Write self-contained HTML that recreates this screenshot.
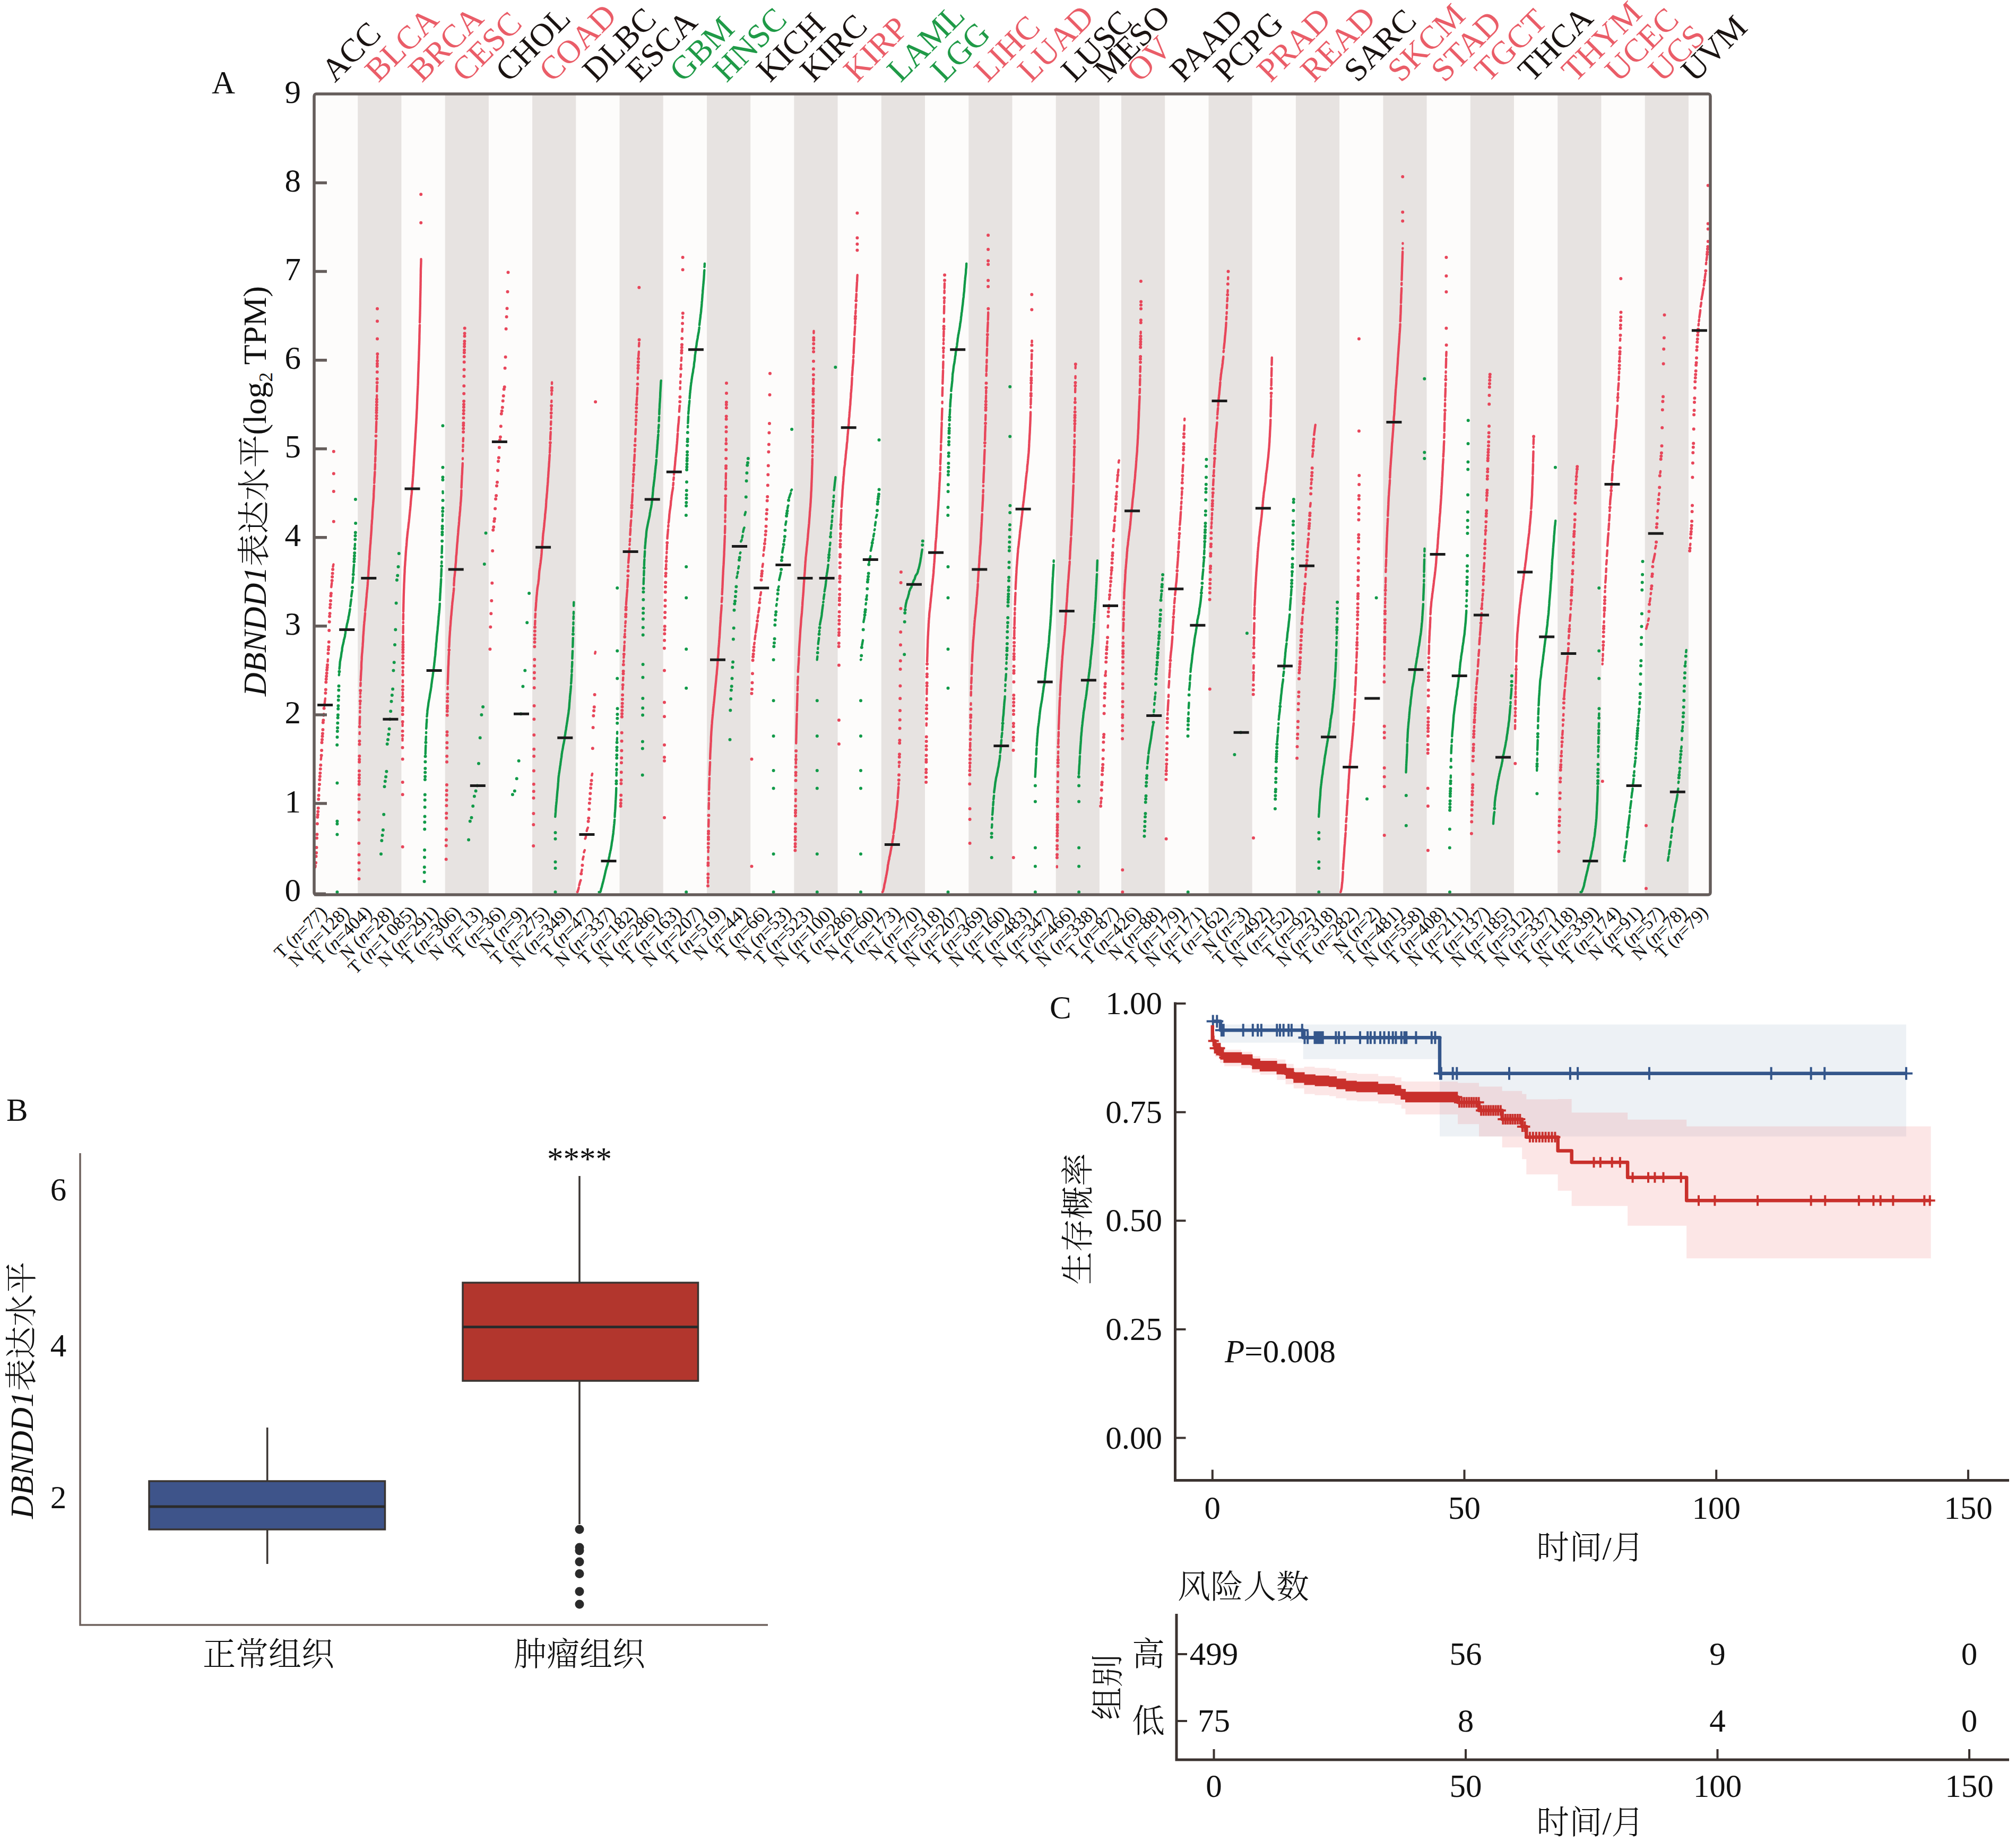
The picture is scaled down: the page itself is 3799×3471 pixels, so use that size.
<!DOCTYPE html>
<html><head><meta charset="utf-8"><title>Figure</title><style>html,body{margin:0;padding:0;background:#fff}svg{display:block}</style></head><body>
<svg width="3799" height="3471" viewBox="0 0 3799 3471" font-family='"Liberation Serif","Noto Serif CJK SC",serif'>
<rect width="3799" height="3471" fill="#fff"/>
<rect x="592.0" y="177.0" width="2631.0" height="1509.0" fill="#FDFCFB"/>
<rect x="674.2" y="177.0" width="82.2" height="1509.0" fill="#E7E3E1"/>
<rect x="838.7" y="177.0" width="82.2" height="1509.0" fill="#E7E3E1"/>
<rect x="1003.1" y="177.0" width="82.2" height="1509.0" fill="#E7E3E1"/>
<rect x="1167.5" y="177.0" width="82.2" height="1509.0" fill="#E7E3E1"/>
<rect x="1332.0" y="177.0" width="82.2" height="1509.0" fill="#E7E3E1"/>
<rect x="1496.4" y="177.0" width="82.2" height="1509.0" fill="#E7E3E1"/>
<rect x="1660.8" y="177.0" width="82.2" height="1509.0" fill="#E7E3E1"/>
<rect x="1825.3" y="177.0" width="82.2" height="1509.0" fill="#E7E3E1"/>
<rect x="1989.7" y="177.0" width="82.2" height="1509.0" fill="#E7E3E1"/>
<rect x="2113.0" y="177.0" width="82.2" height="1509.0" fill="#E7E3E1"/>
<rect x="2277.5" y="177.0" width="82.2" height="1509.0" fill="#E7E3E1"/>
<rect x="2441.9" y="177.0" width="82.2" height="1509.0" fill="#E7E3E1"/>
<rect x="2606.4" y="177.0" width="82.2" height="1509.0" fill="#E7E3E1"/>
<rect x="2770.8" y="177.0" width="82.2" height="1509.0" fill="#E7E3E1"/>
<rect x="2935.2" y="177.0" width="82.2" height="1509.0" fill="#E7E3E1"/>
<rect x="3099.7" y="177.0" width="82.2" height="1509.0" fill="#E7E3E1"/>
<g fill="none" stroke-linecap="round" stroke-linejoin="round" stroke-width="4.4">
<path stroke="#E8465A" d="M594.2 1634.2h0L594.7 1631.3M595.1 1625.7h0M595.6 1613.8h0M596.1 1606.9h0M596.5 1597h0M597 1579.2h0M597.4 1572.2h0M597.9 1552.2h0M598.3 1539.8h0M598.8 1535.2h0M599.2 1529.3h0M599.7 1522.7h0M600.2 1506h0M600.6 1498.8h0M601.1 1489.5h0L601.5 1485.5M602 1478.1h0M602.4 1469.3h0M602.9 1462.9h0M603.3 1456.7h0M603.8 1448.9h0M604.3 1441.8h0M604.7 1431.3h0L605.2 1427.8M605.6 1423.6h0M606.1 1414.1h0M606.5 1399.3h0M607 1393.7h0M607.5 1387.6h0M607.9 1382.2h0M608.4 1374.9h0M608.8 1361.4h0M609.3 1357.2h0M609.7 1348.6h0L610.2 1345.3M610.6 1334.8h0M611.1 1330.1h0L611.6 1326.5L612 1323.2L612.5 1319.2L612.9 1316.2M613.4 1305.9h0M613.8 1299.4h0M614.3 1285.4h0M614.7 1279.7h0M615.2 1274.3h0M615.7 1268.6h0M616.1 1262.2h0M616.6 1257.8h0M617 1253h0M617.5 1246.6h0L617.9 1242.5M618.4 1231.3h0M618.9 1224.3h0M619.3 1219h0M619.8 1209.8h0M620.2 1188.1h0M620.7 1171.8h0M621.1 1161.5h0M621.6 1156h0M622 1144.9h0M622.5 1139.1h0M623 1132h0M623.4 1122.7h0M623.9 1118.2h0M624.3 1106.3h0L624.8 1102.2L625.2 1098.7M625.7 1093.9h0M626.1 1087h0M626.6 1080.4h0M627.1 1072.9h0M627.5 1067.7h0L628 1065.2L628.4 1063.5M628.8 982.7h0M628.8 925.9h0M628.8 892.5h0M628.8 850.8h0M676.5 1655.9h0M676.5 1639.2h0M676.5 1625.9h0M676.5 1610.8h0M676.3 1589.1h0M676.3 1544.8h0M676.4 1530.5h0M676.5 1505.7h0M676.6 1497.9h0M676.7 1477.7h0M676.8 1472.2h0M676.9 1466h0M677 1460.2h0M677 1452.7h0M677.1 1435.7h0M677.2 1431h0M677.3 1424.7h0M677.4 1402.5h0M677.5 1396.4h0M677.6 1383.1h0L677.7 1380M677.7 1369.2h0M677.8 1364.3h0L677.9 1360.4L678 1356.7L678.1 1353.1L678.2 1350.7M678.3 1342.5h0L678.3 1339.6M678.4 1334.4h0L678.5 1332.5M678.6 1327.3h0L678.7 1325.3M678.8 1320.9h0M678.9 1313.9h0L679 1312.2M679 1307.5h0L679.1 1305.7M679.2 1301.3h0M679.3 1292.6h0L679.4 1291.1L679.5 1289.2L679.6 1286.7M679.7 1282h0L679.7 1280.7L679.8 1278.9L679.9 1277.4L680 1274.6L680.1 1272.8L680.2 1271.6L680.3 1270.1L680.3 1268.7L680.4 1267.5L680.5 1265.6L680.6 1264.4L680.7 1263.2L680.8 1261.9L680.9 1260.9L681 1258.5L681 1255L681.1 1251.3L681.2 1248.3L681.3 1247.3L681.4 1246L681.5 1244.4L681.6 1243.4L681.7 1242L681.7 1239.1L681.8 1237.5L681.9 1236.6L682 1235.1L682.1 1233L682.3 1231.6L682.4 1230.1L682.6 1228.8L682.7 1227.3L682.8 1225.6L683 1222.8L683.1 1221.1L683.3 1219.6L683.4 1218.1L683.5 1216.9L683.6 1215L683.6 1214.1L683.7 1212.2L683.8 1211.4L684 1209.6L684.1 1207.7L684.2 1205.8L684.3 1204.4L684.3 1202.3L684.4 1199.3L684.6 1197.9L684.7 1196.1L684.8 1194.7L685 1193.2L685 1190.8L685.2 1189.6L685.3 1188.6L685.5 1184.6L685.6 1183.3L685.7 1181.4L685.8 1180.1L686 1177.6L686.1 1176.7L686.2 1175.7L686.3 1174.7L686.4 1172.4L686.6 1171.1L686.8 1169.9L687 1168.7L687.1 1166.7L687.2 1164.9L687.3 1164L687.5 1161.8L687.6 1160.5L687.8 1159.2L687.9 1157.6L688 1155.2M688.1 1150.8h0L688.3 1149.6L688.3 1148.8L688.4 1147.9L688.6 1146.7L688.8 1145.5L689 1144.1L689.1 1143.1L689.3 1140.8L689.5 1139.4L689.6 1137.9L689.7 1136.7L689.9 1133.4L690.1 1131.9L690.2 1130.1L690.3 1129L690.3 1128.1L690.5 1127L690.7 1125.5L690.8 1123.3L690.9 1122.2L691 1120.3L691.1 1119L691.2 1117.7L691.4 1116.4L691.6 1115.2L691.7 1113L691.8 1112.1L692 1110.6L692.2 1109.3L692.3 1106.6L692.5 1105.3L692.6 1104.3L692.7 1102.7L692.9 1101.4L692.9 1100.4L693 1098L693.1 1096.5L693.2 1095.7L693.3 1094.1L693.5 1092.1L693.6 1090.1L693.7 1088.2L693.8 1086.1L693.9 1085.1L694 1084.2L694.1 1083L694.2 1081.3L694.3 1080.4L694.3 1079.3L694.4 1076.4L694.6 1074.4L694.7 1073.2L694.8 1071.7L694.9 1070.6L694.9 1069.4L695.1 1067.6L695.2 1065.9L695.4 1064.7L695.5 1063L695.6 1060L695.7 1058.5L695.8 1057.6L696 1055.4L696.2 1053.7L696.3 1052.6L696.3 1049.4L696.4 1048L696.5 1046.5L696.7 1043.3L696.8 1042.3L696.9 1041L696.9 1039L697 1037.7L697.2 1036.3L697.3 1034.2L697.4 1033.1L697.5 1031.8L697.6 1030.4L697.7 1028.4L697.8 1027.4L697.9 1026.5L698 1025.5L698.2 1023.8L698.3 1022.3L698.4 1019.9L698.5 1017.7L698.6 1016.9L698.7 1015.2L698.8 1014.2L698.9 1013.4L698.9 1012.4L699 1011.4L699.1 1010.1L699.2 1009.1L699.4 1006.6L699.5 1004.9L699.6 1003.5L699.7 1002L699.8 1000.9L699.9 999.5L700 996.9L700.1 995.8L700.2 992.4L700.2 990.6L700.3 989.8L700.5 987.8L700.6 986.7L700.7 985.5L700.9 982L700.9 981.1L701 980.3L701.2 978.8L701.4 976.7L701.5 975L701.6 974.2L701.6 972.5L701.7 971.2L701.8 969.6L701.9 966L702 964L702.1 962.6L702.2 961.2L702.3 959.7L702.4 958.1L702.6 956.3L702.7 955.3L702.9 953.1L702.9 952.1L703 951.2L703.2 948.9L703.3 946.9L703.4 945.9L703.5 945L703.6 944.2L703.6 943.1L703.8 941.1L703.9 939.9L704 939L704.1 936.6L704.2 935.6L704.2 931.7L704.3 928.8L704.4 927.4L704.5 924.7L704.6 923.8L704.7 922.2L704.8 920.5L704.9 919.6L704.9 918.1L705 917.2L705.1 915M705.2 910h0L705.3 908.9L705.4 907.4L705.5 904.4L705.5 902.9L705.6 901.8L705.7 900.4L705.8 899.2L705.9 898.1L706 896.8L706.1 895.1L706.2 894.2L706.2 893.1L706.3 891.3L706.4 889.3M706.5 884.6h0L706.6 883L706.7 881.8L706.8 878.3L706.9 876.4L706.9 874.1M707 869.8h0L707.1 868.7L707.2 866.4L707.3 863.3L707.4 861.8M707.5 857.3h0L707.5 853.2L707.6 850.7L707.7 848.5L707.8 846.6L707.9 845.1L708 842.7L708.1 839.9L708.2 838.5L708.2 834.7L708.3 833.1L708.4 829.7M708.5 821.6h0M708.6 814.4h0L708.7 812.6L708.8 810.9L708.9 808.5L708.9 804.5L709 802.9L709.1 800.4L709.2 796.6L709.3 794.4M709.4 789h0M709.5 783.5h0M709.5 777.4h0M709.6 772.9h0M709.7 768.5h0M709.8 763h0M709.9 757.4h0M710 752.4h0M710.1 748.2h0L710.2 745M710.2 737.4h0L710.3 733.3L710.4 729.4L710.5 726.8M710.6 720.9h0M710.7 713.9h0M710.8 701.1h0M710.9 689.9h0M710.9 685.6h0M711 680h0M711.1 675.1h0L711.2 671.4M711.3 667h0M711 638.6h0M711 605.2h0M711 581.8h0M758.7 1595.8h0M758.7 1497.2h0M758.7 1473.9h0M758.7 1430.4h0M758.5 1408.7h0M758.5 1395.4h0L758.5 1391.5M758.6 1385.9h0M758.6 1377.8h0M758.6 1367.9h0L758.6 1364.3M758.7 1360.1h0M758.7 1346.2h0M758.7 1339h0M758.8 1333.5h0M758.8 1320h0M758.8 1313.4h0M758.9 1308.7h0L758.9 1305.3M758.9 1299.7h0M759 1293.2h0M759 1285.5h0L759 1282.2M759.1 1271.5h0M759.1 1266.6h0L759.1 1263.5M759.2 1257.6h0M759.2 1249.2h0M759.2 1241.4h0M759.3 1235.9h0M759.3 1229.4h0M759.3 1224.3h0M759.4 1219.5h0M759.4 1214.8h0M759.4 1209.4h0M759.5 1205.2h0L759.5 1201.7L759.5 1198.6M759.6 1193.1h0L759.6 1191.6L759.6 1188.8L759.7 1187.2L759.7 1184L759.7 1182.7L759.7 1181.4L759.8 1179.2M759.8 1174h0L759.8 1172.1M759.9 1167.5h0L759.9 1165.7L759.9 1164.3L760 1161.3L760 1158.4L760 1156.8M760.1 1152.5h0L760.1 1151L760.1 1149.9L760.2 1146.9L760.2 1145.2L760.2 1144.3L760.3 1142.6L760.3 1141.7L760.3 1138.9L760.4 1138L760.4 1137.1L760.4 1136.3L760.5 1134.1L760.5 1132.9L760.5 1131L760.6 1129.7L760.6 1127.5L760.7 1124.1L760.7 1123L760.8 1121.7L760.8 1119.4L760.9 1118.4L760.9 1117.1L761 1116.1L761 1113L761.1 1112.2L761.1 1110.4L761.2 1109.1L761.3 1107.3L761.3 1105.5L761.3 1104.6L761.4 1103.8L761.4 1102.7L761.4 1101.8L761.5 1100.7L761.5 1099.6L761.6 1098L761.7 1096.9L761.7 1095.9L761.8 1094.7L761.8 1093.2L761.9 1091.9L761.9 1090.8L762 1089.3L762 1088L762.1 1086.8L762.1 1085.8L762.1 1084.9L762.2 1083.8L762.3 1082.7L762.3 1081.6L762.4 1080.3L762.5 1079.2L762.5 1078.3L762.6 1077.3L762.6 1074.9L762.6 1073.8L762.7 1072.7L762.8 1071.7L762.8 1069.9L762.9 1068.5L763 1067.4L763.1 1066.2L763.2 1065.1L763.3 1064L763.3 1063.2L763.4 1061.5L763.5 1060.6L763.5 1059.6L763.6 1058.4L763.7 1057.4L763.8 1056.3L763.9 1055.2L764 1054L764 1053.1L764.1 1051.5L764.1 1050.4L764.2 1049.5L764.3 1047.9L764.4 1047.1L764.5 1045.6L764.6 1044.3L764.6 1043.1L764.7 1042.1L764.8 1040.8L764.9 1039.7L764.9 1038.8L765 1037.5L765.1 1036.7L765.2 1035.7L765.3 1034.5L765.4 1033.4L765.5 1032.5L765.5 1031.7L765.7 1030.4L765.8 1029.4L765.9 1028.6L766 1027.8L766.1 1026.8L766.1 1026L766.2 1024.9L766.2 1024.1L766.3 1022.9L766.4 1022L766.5 1020.7L766.5 1019.8L766.7 1018.1L766.8 1016.9L766.9 1015.5L766.9 1014.6L767.1 1013.7L767.2 1012.7L767.2 1011.7L767.4 1010.5L767.5 1009.5L767.6 1008.4L767.7 1007.5L767.8 1006.5L767.9 1005.6L768 1004.7L768.1 1003.8L768.2 1002.8L768.3 1001.9L768.4 1001L768.5 1000L768.6 999.2L768.7 998.2L768.8 997.4L769 996.5L769.1 995.6L769.3 994.3L769.4 993.4L769.5 992.4L769.6 991.4L769.7 990.2L769.8 989.2L769.9 988.3L770 987.5L770.1 986.6L770.2 985.7L770.3 984.7L770.5 983.7L770.6 982.8L770.7 981.6L770.8 980.8L770.9 979.7L771 978.6L771.1 977.6L771.2 976.8L771.3 975.8L771.4 974.7L771.5 973.8L771.6 972.8L771.7 971.9L771.7 971L771.9 970.1L771.9 969.2L772 968.4L772.1 967.3L772.2 966.4L772.3 965.4L772.4 964.4L772.5 963.1L772.7 962L772.8 961L772.9 960L773 958.8L773.1 958L773.2 956.6L773.3 955.6L773.4 954.7L773.5 953.7L773.6 952.9L773.7 951.6L773.8 950.2L773.9 949.3L774 948.4L774 947.4L774.1 945.7L774.2 944.7L774.3 943.7L774.4 942.7L774.5 941.5L774.6 940.1L774.7 939.2L774.8 938.1L775 937.1L775 936.2L775.1 935.3L775.2 934.5L775.3 933.7L775.4 932.8L775.5 932L775.6 931L775.7 930.2L775.8 929.3L775.9 928.4L776 927L776.1 925.9L776.1 925L776.2 923.3L776.3 922.3L776.3 921.1L776.4 920.1L776.5 919.1L776.6 918.1L776.7 917L776.7 916.1L776.8 915.2L776.9 914.4L777 913.2L777.1 912.4L777.2 911.5L777.3 910.7L777.4 909.8L777.4 908.7L777.5 907.8L777.6 906.7L777.7 905.9L777.8 905L777.9 902.6L777.9 901.5L778 900.7L778.1 899.4L778.2 898.1L778.3 897.3L778.4 895.7L778.5 894.7L778.5 893.7L778.6 892.9L778.7 891.6L778.7 890.6L778.8 889.5L778.9 888.1L778.9 887.3L779 885.5L779.1 884.6L779.2 883.4L779.2 882.2L779.3 881L779.4 880.2L779.4 879L779.5 878L779.6 876.6L779.6 875.5L779.7 874.5L779.8 872.9L779.9 871.5L779.9 870.1L780 869.1L780.1 868.2L780.1 867L780.2 866L780.3 864.9L780.3 863.9L780.4 862.5L780.5 861.7L780.5 860.9L780.6 859.4L780.7 858.6L780.8 857.4L780.8 856.2L780.9 855.4L780.9 853.7L781 852.6L781.1 851.6L781.2 850.7L781.2 849.6L781.3 848.8L781.4 847.1L781.4 845.9L781.5 844.1L781.6 843.3L781.6 841.9L781.7 840.9L781.8 839.7L781.9 838.5L781.9 837.5L782 836.4L782.1 835.4L782.1 834.6L782.2 833.2L782.2 831.8L782.3 830.8L782.4 829.4L782.5 828.6L782.5 827.8L782.6 826.9L782.7 825.8L782.7 824.8L782.8 823.8L782.8 822.4L782.9 821.3L783 818.8L783 817.5L783.1 816.5L783.2 815.5L783.3 814.6L783.4 812.4L783.5 811.5L783.5 810L783.6 809.2L783.6 808.3L783.7 806.4L783.8 805L783.9 803.6L784 802.4L784 800.9L784.1 799.6L784.2 798.7L784.3 797.7L784.3 796.7L784.4 795.8L784.4 794.3L784.5 792.9L784.6 791.9L784.6 790.4L784.7 789.3L784.8 788.1L784.8 787.2L784.9 786.3L784.9 785.3L785 783.5L785 782.4L785.1 780.9L785.2 779.7L785.2 778.6L785.3 777.2L785.3 775.9L785.4 774.8L785.5 773.7L785.5 772.5L785.6 771.1L785.7 770.3L785.7 769.5L785.8 767.9L785.8 766.2L785.9 764.3L785.9 763.3L786 761.2L786.1 759.1L786.1 758.3L786.1 757.4L786.2 756.4L786.2 755L786.3 753.3L786.3 752.4L786.4 750.1L786.5 747.4L786.5 746.5L786.6 745.1L786.7 743.7L786.7 742.9L786.8 742L786.8 741.1L786.9 740.2L786.9 739.2L787 737.9L787.1 736.2L787.1 734.9L787.2 733.7L787.2 732.4L787.3 731.2L787.4 730.1L787.4 729L787.4 727.1L787.5 726.3L787.6 725.3L787.6 724.4L787.7 723.3L787.7 721.9L787.8 720.5L787.8 719.7L787.8 716.3L787.9 714.7L787.9 713.7L788 712.8L788 711L788 709.9L788.1 708.8L788.1 707.9L788.1 707L788.2 703.7L788.2 702.9L788.3 701.2L788.4 699.3L788.4 698.2L788.5 697.1L788.5 696L788.5 694.9L788.6 693.4L788.6 692.3L788.7 690.6L788.7 688.3L788.8 687.1L788.8 686.2L788.9 684.5L789 683.2L789 682.2L789 680.8L789.1 679.7L789.2 678.2L789.2 677.2L789.3 675.2L789.3 673.2L789.4 671.6L789.4 670.2L789.5 668.4L789.5 665.1L789.5 664.1L789.6 663.2L789.6 662.3L789.6 661.5L789.7 660.2L789.7 659.1L789.7 658.1L789.8 657.2L789.8 656.1L789.9 654L789.9 652.4L790 650.1L790.1 648.4L790.1 646.7L790.2 645.2L790.2 644.2L790.2 642.7L790.3 641.9L790.3 640.3L790.3 638.8L790.4 637.7L790.4 634.6L790.4 632.9L790.5 630.7L790.5 629.4L790.6 627.1L790.6 625.8L790.7 623.8L790.7 621.6L790.7 619.8L790.8 617.7L790.9 616.1L790.9 614.3L790.9 613.4L791 612.4M791 607.6h0L791.1 603.8L791.1 602.4L791.2 601.2L791.2 599.1L791.3 598L791.3 596.4L791.4 595L791.4 593.9L791.4 592.9L791.5 591L791.5 589.4L791.5 587.8L791.6 585.9L791.6 584.8L791.6 583.7L791.7 581.5L791.7 579.3L791.8 577.4L791.8 576.4L791.8 574.9L791.9 572.5L791.9 570.5L791.9 567.2L792 563.9L792 562.3L792 561.5L792.1 560.4L792.1 559L792.1 558.2L792.2 555.9L792.2 554.8L792.2 553.6L792.3 552.2L792.3 549.6L792.3 548.6L792.4 547.3L792.4 546.3L792.4 544.3L792.5 542.7L792.5 540.9L792.5 538.8L792.6 537.4L792.6 533.9L792.6 532.9L792.7 529.4L792.7 526.5L792.7 525L792.8 521.1L792.8 519L792.8 516.8L792.9 515.6L792.9 514.8L792.9 512.1L792.9 509.4L793 507.7L793 505.9L793.1 504.8L793.1 504L793.2 502.7L793.2 500.6L793.3 499.6L793.3 497.9L793.4 496.9L793.4 495.8L793.4 494.2L793.5 492.6L793.5 490.7L793.5 488.3M793.2 419.8h0M793.2 366.3h0M840.7 1619.2h0M840.8 1593.6h0M840.9 1582.7h0M841.1 1562.3h0M841.2 1541.4h0M841.3 1532.6h0M841.4 1517.9h0M841.5 1507.6h0M841.6 1498h0M841.7 1489.4h0M841.9 1479h0M842 1435.7h0M842.1 1425.1h0M842.2 1409.3h0M842.3 1399.5h0M842.4 1385.5h0M842.5 1379.3h0M842.7 1347.8h0M842.8 1340.3h0M842.9 1334.5h0M843 1330.2h0M843.1 1321.6h0M843.2 1315h0M843.4 1308.3h0M843.5 1298.6h0L843.6 1294.6M843.7 1289.3h0L843.8 1286.2L843.9 1283.4L844 1279.7L844.2 1275.7L844.3 1271.6L844.4 1268.9L844.5 1265.6L844.6 1262.9L844.7 1259.2L844.8 1255.8L845 1253.8L845.1 1251.6L845.2 1248L845.3 1244.3L845.4 1242.5L845.5 1240.6L845.6 1236.6L845.8 1234.8L845.9 1233.3L846 1231L846.1 1229M846.2 1224.7h0M846.3 1219.7h0L846.5 1216.1L846.6 1214.6L846.7 1211.7L846.8 1209.8L846.9 1207.8L847 1203.7L847.1 1202.5L847.3 1199.5L847.4 1198L847.5 1197.1L847.6 1195.2L847.7 1194.1L847.8 1191.5L847.9 1190.2L848.1 1187.9L848.2 1187L848.3 1185.4L848.4 1182.9L848.5 1181.9L848.6 1180.8L848.9 1177.9L849 1176.3L849.1 1175.4L849.2 1173.7L849.3 1171.6L849.4 1170.4L849.5 1168.8L849.7 1167.2L849.9 1164.8L850 1162.6L850.1 1161.5L850.2 1160.7L850.4 1159.9L850.5 1158.7L850.7 1156L850.8 1154.4L851 1152.3L851.2 1150L851.4 1147.8L851.5 1146.7L851.7 1145.3L851.8 1142L852.1 1140L852.2 1138.4L852.4 1136L852.5 1134.5L852.8 1133.3L852.9 1132.2L853.1 1130L853.3 1128.8L853.4 1127.1L853.6 1125.8L853.7 1124.6L853.8 1123.6L853.9 1122.7L854 1121.7L854.1 1120.5L854.3 1119.3L854.5 1116.7L854.7 1115.5L854.8 1114.5L854.9 1113.1L855.1 1112.3L855.2 1109.6L855.3 1108.6M855.4 1103.5h0L855.5 1099.4L855.6 1098L855.7 1096.9L855.9 1093.3L856 1091.7L856.1 1089.3L856.2 1088.4L856.4 1087L856.5 1086.1L856.8 1084.2L857 1081.5L857.1 1080.7L857.2 1079.7L857.4 1078.5L857.5 1077L857.6 1076L857.7 1074.9L857.8 1073.6L857.9 1072.3L858 1071.5L858.2 1070.5L858.3 1067.5L858.5 1065.3L858.6 1063.4L858.8 1061.4L859 1060.1L859.1 1057.8L859.3 1055.7L859.4 1052.3L859.5 1050.5L859.6 1048L859.8 1047.1L859.9 1046.3L860.1 1044.7L860.3 1042.9L860.4 1041.8L860.6 1037.9L860.8 1034.7L860.9 1033.7L861 1032.6L861.1 1030.8L861.3 1027.6L861.4 1026.4L861.5 1025.5L861.7 1023.6L861.8 1022.4L861.9 1021.2L862.1 1020.3L862.2 1017.4L862.4 1014.7L862.5 1013.8L862.6 1011.6L862.7 1010.4L863 1008.3L863.1 1007.1L863.3 1004.4L863.4 1003.4L863.5 1000.9L863.7 999.1L863.8 997.8L863.9 996.6L864 995.5L864.1 994.2L864.3 992.2L864.5 990.6L864.6 989.7L864.8 988.2L864.9 986.5L865 984.2L865.2 982.8L865.3 981.7L865.4 979L865.5 977.8L865.6 976.8L865.7 974.9L865.8 973.9L866 973.1L866.1 972.2L866.3 970.4L866.4 968.1L866.5 967.1L866.6 965.7L866.8 964.7L866.9 963.3L867 962.4L867.1 961.2L867.2 959.6L867.3 958.6L867.4 955L867.6 953.8L867.7 953L867.8 951.8L867.9 950.7L868 948L868.1 947L868.3 945.9L868.4 944.9L868.5 944L868.6 941.7L868.7 940.1L868.8 938.5L868.9 936.5L869.1 934.5L869.2 933.3L869.3 929.7L869.4 927.7L869.5 924M869.6 919h0L869.7 915.2L869.9 911.5L870 908.8L870.1 906.8L870.2 904.3L870.3 903.1L870.4 899.9L870.5 896.2L870.7 895L870.8 893.5L870.9 891.8L871 890.1L871.1 886.9L871.2 885L871.3 881.8L871.5 880.1L871.6 877.8L871.7 875L871.8 873M871.9 865.2h0L872 863.4M872.2 850.2h0L872.3 847.6M872.4 842.4h0L872.5 840.2L872.6 838M872.7 831.7h0L872.8 828.6L873 825.4M873.1 814h0M873.2 807.6h0M873.3 801.6h0M873.4 797.2h0M873.5 787.5h0M873.6 779.6h0M873.8 773.6h0M873.9 767.3h0M874 762h0M874.1 755.9h0M874.2 741.8h0M874.3 727.3h0M874.4 708.9h0M874.6 696.4h0M874.7 682.3h0M874.8 671.9h0M874.9 664.5h0M875 659.8h0M875.1 652.9h0M875.2 648h0M875.4 642.9h0M875.5 633.6h0M875.6 628.3h0M875.7 618.6h0M923.4 1223.3h0M924.3 1181.5h0M925.3 1156.3h0M926.3 1131.9h0M927.3 1098.7h0M928.2 1037.9h0M929.2 998.8h0M930.2 993.1h0M931.2 982.3h0M932.1 977.4h0M933.1 958.5h0M934.1 940.2h0M935.1 933.9h0M936 915.5h0M937 908.7h0M938 886.4h0M939 869.3h0M939.9 862.6h0M940.9 843.2h0M941.9 829.2h0M942.9 823.5h0M943.8 803.3h0M944.8 779.7h0M945.8 774.5h0M946.8 767.8h0M947.7 755.5h0M948.7 746h0M949.7 733.4h0M950.7 729.2h0M951.6 693.8h0M952.6 672.7h0M953.6 619.7h0M954.6 596.9h0M955.5 581.3h0M956.5 549.7h0M957.5 513.3h0M1005.2 1594.1h0M1005.3 1553.9h0M1005.4 1533.1h0M1005.5 1503.7h0M1005.7 1491.2h0M1005.8 1477.8h0M1005.9 1452.4h0M1006.1 1424.9h0M1006.2 1411.7h0M1006.3 1385.1h0M1006.4 1355.2h0M1006.6 1329.9h0M1006.7 1295.9h0M1006.8 1278.3h0M1006.9 1267.4h0M1007.1 1254.7h0M1007.2 1242.7h0M1007.3 1218.6h0M1007.5 1210.1h0M1007.6 1203.6h0M1007.7 1196.5h0M1007.8 1189.2h0M1008 1181.9h0M1008.1 1177h0L1008.2 1175.3L1008.3 1173L1008.5 1169.6M1008.6 1163.9h0L1008.7 1161.7L1008.9 1157.8L1009 1156.2M1009.1 1150.5h0L1009.2 1149L1009.4 1147.8L1009.5 1146.2L1009.6 1145.1L1009.8 1143.6L1009.9 1141.8L1010 1140.7L1010.1 1136.8L1010.3 1135.2L1010.4 1134.3L1010.5 1133.2L1010.6 1131.1L1010.8 1130.3L1010.9 1126.7L1011 1125.2L1011.2 1124.1L1011.3 1122.8L1011.4 1121.8L1011.5 1120.8L1011.7 1120L1011.8 1118.2L1011.9 1115.8L1012.1 1114.5L1012.2 1113.3L1012.4 1111.5L1012.6 1110.1L1012.8 1108L1012.9 1107.1L1013.1 1106.3L1013.3 1104.8L1013.6 1103.4L1013.7 1102.5L1014 1101.3L1014.2 1100L1014.3 1099.1L1014.5 1097.5L1014.6 1096.1L1014.9 1094.7L1015 1092.9L1015.2 1092L1015.4 1090.8L1015.5 1088.2L1015.6 1086.3L1015.8 1083.8L1015.9 1082.6L1016 1080.4L1016.3 1077.6L1016.4 1075.9L1016.6 1074.6L1016.9 1073.3L1017 1071.8L1017.3 1070.5L1017.4 1069.7L1017.5 1068.7L1017.7 1067.5L1017.8 1066.6L1017.9 1065.6L1018.2 1063.8L1018.3 1062.7L1018.6 1061.2L1018.8 1059.5L1019.1 1056.1L1019.3 1055L1019.5 1053.9L1019.7 1052.5L1019.8 1050.5L1020 1049.5L1020.1 1048.5L1020.2 1046.8L1020.5 1044.5L1020.6 1042.1L1020.7 1041.2L1020.9 1037.7L1021 1036.2L1021.2 1034.5L1021.4 1033.3L1021.5 1030.9L1021.6 1029.6L1021.8 1028.8L1021.9 1026.8L1022 1024.3L1022.3 1022.8L1022.4 1020.6L1022.5 1019.2L1022.8 1017.4L1022.9 1016.4L1023 1012.3L1023.2 1010.1L1023.4 1008.5L1023.5 1005.9L1023.7 1005.1L1023.9 1003.4L1024.1 1001.9L1024.3 1000.3L1024.4 999.5L1024.6 998.4L1024.7 997.2L1024.8 995.4L1025.1 993.6L1025.3 991.7L1025.5 989.5L1025.6 988.5L1025.7 986.2L1025.8 985.1L1026 983.7L1026.1 982.8L1026.2 981.1L1026.4 980L1026.5 979L1026.6 978.2L1026.7 977.1L1026.9 976.1L1027 974.2L1027.1 972.5L1027.2 969.4L1027.5 967.7L1027.6 966.8L1027.8 965.5L1027.9 963.7L1028 962.8L1028.1 962L1028.3 960.6L1028.4 959.6L1028.5 958.1L1028.6 957.3L1028.8 955.6L1028.9 954.5L1029 950.8L1029.2 947.7L1029.3 946.2L1029.4 943.4L1029.5 941.9L1029.7 941L1029.8 940L1029.9 938.9L1030.1 937.7L1030.2 936.5L1030.3 933.8L1030.4 932.5L1030.6 930.7L1030.7 929.8L1030.8 928.7L1030.9 927.1L1031.1 925.4L1031.2 923.8L1031.3 921.3L1031.5 918.6L1031.6 917.3L1031.7 916.3L1031.8 915.1L1032 913.6L1032.1 912.2L1032.2 909.9L1032.4 909L1032.5 908L1032.6 904.3L1032.7 901.5L1032.9 900.4L1033 899.3L1033.1 897.9L1033.2 895.3L1033.4 893.1L1033.5 891.3L1033.6 888.7L1033.8 887.7L1033.9 885.6L1034 883.6L1034.1 881.8L1034.3 880.4L1034.4 879.3L1034.5 878.2L1034.6 874.3L1034.8 872.2L1034.9 871L1035 868.8L1035.2 867.2L1035.3 864.9L1035.4 863.6L1035.5 861.3L1035.7 859.5L1035.8 856.9M1035.9 852.7h0L1036.1 851.2L1036.2 849.6L1036.3 847.8L1036.4 844.3L1036.6 841.9L1036.7 840.2L1036.8 838.7M1036.9 834.3h0M1037.1 828.3h0L1037.2 824.2L1037.3 821L1037.5 819.1L1037.6 816.1L1037.7 814M1037.8 808.5h0L1038 806.5M1038.1 800.4h0L1038.2 796.9L1038.4 794.2M1038.5 787.7h0L1038.6 783.6M1038.7 778.2h0M1038.9 772.6h0L1039 769.3M1039.1 764.4h0M1039.2 757.9h0L1039.4 754.9M1039.5 743.8h0L1039.6 740.8M1039.8 735.7h0M1039.9 730.7h0M1040 723.5h0L1040.1 720.5M1087.7 1681h0L1088.4 1680.7L1089.2 1677.5L1089.9 1676L1090.7 1672.5M1091.4 1668.1h0L1092.2 1665.5L1092.9 1662.4L1093.7 1660.2L1094.4 1658.6M1095.2 1646.4h0M1095.9 1642.2h0L1096.7 1638.8M1097.4 1630.5h0M1098.1 1619.7h0L1098.9 1616.1L1099.6 1614M1100.4 1605.9h0L1101.1 1603.9L1101.9 1602.1M1102.6 1580.5h0L1103.4 1579.4L1104.1 1575.7L1104.9 1572.9M1105.6 1565.8h0L1106.4 1563.2L1107.1 1561L1107.9 1559.6M1108.6 1547.7h0M1109.3 1541.8h0M1110.1 1524.9h0M1110.8 1513.5h0M1111.6 1505.5h0M1112.3 1495.3h0M1113.1 1485h0M1113.8 1477.8h0M1114.6 1470.7h0M1115.3 1461.1h0L1116.1 1457.9M1116.8 1410.3h0M1117.6 1370.9h0M1118.3 1348.8h0M1119.1 1339.2h0M1119.8 1332.3h0M1120.6 1309.1h0M1121.3 1231.5h0L1122 1228.3M1122.1 757.2h0M1169.6 1519h0M1169.8 1513.8h0M1170 1507.4h0M1170.2 1498.4h0M1170.4 1476.4h0M1170.6 1470.1h0M1170.8 1455.2h0M1171 1437.3h0M1171.2 1428.3h0M1171.4 1414.4h0M1171.6 1396.6h0M1171.7 1380.7h0M1171.9 1350.8h0M1172.1 1345.1h0M1172.3 1338.7h0M1172.5 1331.8h0M1172.7 1325.4h0M1172.9 1317.8h0M1173.1 1309.5h0M1173.3 1299h0L1173.5 1295M1173.7 1290.4h0M1173.9 1282h0L1174.1 1279.3L1174.3 1276.7M1174.5 1269.5h0M1174.6 1264.8h0M1174.8 1252.5h0M1175 1247.2h0L1175.2 1245M1175.4 1239.4h0L1175.6 1236.9M1175.8 1232.7h0M1176 1226.1h0L1176.2 1223.4L1176.4 1220.4L1176.6 1216.5M1176.8 1211.3h0L1177 1209.1M1177.2 1200.3h0M1177.3 1196.1h0L1177.5 1194.3M1177.7 1189.2h0L1177.9 1187M1178.1 1180.9h0L1178.3 1179.1M1178.5 1174.3h0L1178.7 1172.5L1178.9 1170.7M1179.1 1162h0M1179.3 1157.4h0M1179.5 1149.1h0M1179.7 1144.3h0M1179.9 1139.4h0L1180 1136.1L1180.2 1133.7L1180.4 1132.1L1180.6 1128.1L1180.8 1126L1181 1124L1181.2 1121.2L1181.4 1118.1L1181.6 1116.4L1181.8 1114.6L1182 1111.2M1182.2 1106.8h0L1182.4 1104.7L1182.6 1100.6L1182.7 1097.4L1182.9 1095.7L1183.1 1091.8M1183.3 1085.2h0M1183.5 1075.8h0M1183.7 1069.1h0L1183.9 1065.9M1184.1 1060.5h0L1184.3 1058.2L1184.5 1055.5L1184.7 1052.8L1184.9 1050.3L1185.1 1048.8L1185.3 1045.4L1185.4 1042L1185.6 1039.1L1185.8 1037.5L1186 1035L1186.2 1033.5M1186.4 1026.7h0L1186.6 1025.2M1186.8 1020.6h0L1187 1018.4L1187.2 1015.1M1187.4 1008h0L1187.6 1004.9L1187.8 1002.7L1188 1000L1188.1 996.2M1188.3 991.9h0L1188.5 988.7L1188.7 986.4L1188.9 983.7L1189.1 982.1L1189.3 980.4M1189.5 974.3h0L1189.7 972.2L1189.9 970.6L1190.1 966.8L1190.3 963M1190.5 956.7h0M1190.7 952.2h0M1190.8 947.3h0L1191 945.6L1191.2 943.7L1191.4 940.4L1191.6 936.9L1191.8 933.2L1192 930.4M1192.2 926h0L1192.4 922.8M1192.6 916.4h0L1192.8 913.5M1193 908.5h0L1193.2 905.7L1193.4 903.8L1193.5 901.1L1193.7 898.8M1193.9 893.9h0M1194.1 888.1h0L1194.3 885.6L1194.5 883.1L1194.7 880.3M1194.9 875.9h0M1195.1 869.4h0L1195.3 865.8L1195.5 863.2L1195.7 860.3L1195.9 856.5M1196.1 851.1h0L1196.2 849L1196.4 846M1196.6 838.9h0M1196.8 831.7h0L1197 829.2L1197.2 826.4M1197.4 818.4h0L1197.6 815L1197.8 811.6L1198 808.5M1198.2 800.7h0L1198.4 797M1198.6 791.5h0M1198.8 785.3h0L1198.9 782.8M1199.1 776.3h0M1199.3 769.1h0M1199.5 762.2h0M1199.7 757.9h0L1199.9 754.3L1200.1 751.5L1200.3 748.7M1200.5 744h0L1200.7 741.2L1200.9 738.3L1201.1 734.3L1201.3 730.6M1201.5 723.8h0M1201.7 714.1h0L1201.8 711.1M1202 702.3h0L1202.2 699M1202.4 694h0M1202.6 688.6h0M1202.8 681.9h0M1203 675.8h0M1203.2 671.2h0L1203.4 667.9L1203.6 665.4L1203.8 662.8M1204 652.5h0L1204.2 649.7L1204.4 646M1204.5 640.3h0M1204.3 541.7h0M1252 1540.7h0M1252 1433.8h0M1252 1427.1h0M1252 1403.7h0M1252 1350.2h0M1252 1323.5h0M1252 1263.4h0M1251.9 1221.6h0M1252.1 1206.8h0M1252.3 1194.2h0M1252.5 1186.8h0M1252.7 1180.2h0M1252.9 1163.8h0M1253.2 1153.9h0M1253.4 1142.1h0M1253.6 1131.2h0M1253.8 1115.7h0M1254 1105.8h0M1254.2 1097.6h0M1254.4 1085.6h0M1254.7 1080.3h0M1254.9 1071.8h0M1255.1 1067.3h0L1255.3 1063.4M1255.5 1057.4h0M1255.7 1052.2h0L1256 1048.5M1256.2 1042.6h0L1256.4 1040M1256.6 1035.3h0L1256.8 1031.2L1257 1027.1M1257.2 1022.7h0M1257.5 1014.9h0L1257.7 1011.2L1257.9 1009.2L1258.1 1006.8L1258.3 1004.9L1258.5 1002.3L1258.8 999.2L1259 997.5M1259.2 992.7h0L1259.4 990.9L1259.6 989.4M1259.8 985.2h0L1260 984.1L1260.3 982.7L1260.5 980.3L1260.7 978.2L1260.9 976.4L1261.1 974.1L1261.3 970.5L1261.6 967.8L1261.8 966.3L1262 964.2L1262.2 962.8L1262.4 961.3L1262.6 960.3L1262.8 959.2L1263.1 957.4L1263.3 955.5L1263.5 954L1263.7 952.9L1263.9 951.8L1264.1 948.3L1264.4 944.2L1264.6 943.1L1264.8 942.1L1265 940.3L1265.2 937.8L1265.4 936.6L1265.6 934.9L1265.9 932.8L1266.1 931.8L1266.3 930.7L1266.5 928.6L1266.7 927.4L1266.9 926.3L1267.2 925L1267.4 924L1267.6 922.7L1267.8 921.8L1268 920.8L1268.2 918.8M1268.4 914.5h0L1268.7 913L1268.9 909.7M1269.1 904.5h0L1269.3 903.1L1269.5 902L1269.7 899.5M1270 894.3h0L1270.2 891.7L1270.4 890.2L1270.6 888.5L1270.8 886.7L1271 884.9L1271.2 883.8L1271.5 879.9L1271.7 878.1L1271.9 876.5L1272.1 874.6L1272.3 871.4L1272.5 869.6L1272.8 865.6L1273 862.3L1273.2 861L1273.4 859.8L1273.6 857.6L1273.8 856.3L1274 853.7L1274.3 852.4L1274.5 850.5L1274.7 847.5L1274.9 845.3L1275.1 842.9L1275.3 839.9L1275.6 837L1275.8 835.4L1276 832L1276.2 830.2L1276.4 826.2L1276.6 824.2L1276.8 820.9L1277.1 817M1277.3 812.6h0L1277.5 809.3L1277.7 806.9L1277.9 804.6L1278.1 801.5L1278.4 799.7L1278.6 797.2L1278.8 795.7L1279 792.9L1279.2 790.3L1279.4 787.4L1279.6 785.6M1279.9 775.9h0L1280.1 773.4L1280.3 771.3L1280.5 768.8L1280.7 766.1L1280.9 764.4M1281.2 757h0M1281.4 748.1h0M1281.6 733.1h0L1281.8 729.7M1282 722.2h0L1282.2 718.7M1282.4 710h0L1282.7 707.7L1282.9 705.5M1283.1 694.7h0M1283.3 690h0L1283.5 686.9M1283.7 679.8h0L1284 676.7L1284.2 673.7M1284.4 664.9h0M1284.6 660.4h0M1284.8 654.7h0M1285 649.5h0M1285.2 637.9h0M1285.5 624.7h0L1285.7 622.4L1285.9 619.8M1286.1 609.4h0M1286.3 599.2h0L1286.5 597M1286.8 590.2h0M1286.6 508.3h0M1286.6 484.9h0M1334 1669.3h0M1334.1 1663.3h0L1334.1 1659.3M1334.2 1654.3h0M1334.3 1647.2h0M1334.3 1630.6h0M1334.4 1626.2h0M1334.5 1619.2h0L1334.5 1615.3M1334.6 1605.5h0L1334.7 1602.2M1334.7 1597h0M1334.8 1589.4h0M1334.9 1581.8h0M1334.9 1577.6h0M1335 1571.1h0M1335.1 1566.6h0M1335.2 1557.6h0L1335.2 1554.4L1335.3 1551.6L1335.4 1548.1L1335.4 1544.4M1335.5 1536.4h0M1335.6 1524.3h0L1335.6 1520.2L1335.7 1517.9L1335.8 1515.7L1335.8 1513M1335.9 1508.2h0L1336 1505.7L1336 1503.6M1336.1 1496.6h0L1336.2 1493.5M1336.2 1488.5h0L1336.3 1486.7L1336.4 1483.8L1336.4 1481.3L1336.5 1477.8L1336.6 1476.3L1336.6 1474.4L1336.7 1472.1L1336.8 1470.7L1336.8 1469.4L1336.9 1467.5L1337 1465.9M1337 1460.2h0L1337.1 1458L1337.2 1456.7L1337.2 1455.2L1337.3 1453.7L1337.4 1452.4L1337.5 1451.2L1337.5 1449.8L1337.6 1446.8L1337.7 1445.7L1337.7 1444.2L1337.8 1443L1337.9 1441.9L1337.9 1440.6L1338 1438.1L1338.1 1436.1M1338.1 1429.9h0L1338.2 1426.8L1338.3 1424.3L1338.3 1422.8L1338.4 1420.6L1338.5 1419L1338.6 1417L1338.7 1415.6L1338.7 1414.3L1338.9 1412.8L1338.9 1411L1339.1 1408.9L1339.1 1408L1339.2 1406.8L1339.3 1405.8L1339.3 1404.2L1339.4 1402.8L1339.5 1399.9L1339.6 1398.9L1339.7 1397.6L1339.8 1396.7L1339.8 1393.2L1339.9 1389.2L1340 1387.5L1340.1 1386.2L1340.2 1384.8L1340.3 1382.4L1340.4 1381.6L1340.4 1380.2L1340.5 1379L1340.6 1377.7L1340.7 1376.6L1340.8 1375.1L1340.9 1373.1L1341 1372L1341.1 1370.8L1341.2 1369.6L1341.2 1368.3L1341.4 1366.1L1341.5 1365L1341.6 1364L1341.7 1362.7L1341.8 1361.5L1341.9 1358.5L1342.1 1357L1342.2 1355.7L1342.3 1354.6L1342.4 1353.8L1342.5 1352.7L1342.6 1351.6L1342.7 1350.7L1342.8 1349.3L1342.9 1348.4L1343.1 1346.9L1343.2 1345L1343.3 1344.2L1343.4 1343.2L1343.5 1341.8L1343.7 1340.5L1343.8 1338.8L1343.9 1337.8L1344 1336.5L1344.1 1335.4L1344.2 1334.1L1344.4 1333.3L1344.4 1332.1L1344.6 1330.7L1344.7 1329.9L1344.8 1328L1345 1326.9L1345.1 1326L1345.2 1324.8L1345.4 1323.7L1345.5 1322.6L1345.6 1321.7L1345.7 1320.7L1345.8 1319.3L1346 1318.1L1346 1316.8L1346.2 1315.6L1346.3 1314.3L1346.4 1312.4L1346.6 1311.6L1346.7 1310.5L1346.8 1309.6L1346.9 1308L1347.1 1306.8L1347.1 1305.8L1347.2 1304.4L1347.3 1303.4L1347.5 1302.2L1347.5 1301.1L1347.6 1299.9L1347.7 1298.7L1347.8 1297.7L1347.9 1296.4L1348.1 1295.3L1348.2 1293.9L1348.3 1293L1348.4 1291.9L1348.5 1291L1348.6 1289.9L1348.7 1288.8L1348.8 1287.7L1349 1286.6L1349 1285.6L1349.2 1284.4L1349.3 1283.1L1349.4 1281.9L1349.5 1280.7L1349.6 1279.9L1349.6 1279L1349.8 1277.3L1349.9 1276.3L1350 1274.5L1350.1 1273.6L1350.3 1272.5L1350.4 1271.3L1350.6 1270.2L1350.7 1269L1350.8 1266.6L1350.9 1265.5L1351 1264.5L1351.1 1262.6L1351.3 1261.6L1351.4 1260L1351.5 1259L1351.6 1257.8L1351.7 1256.6L1351.9 1254.5L1352 1253.5L1352.1 1252.1L1352.1 1250.9L1352.3 1249.7L1352.3 1248.8L1352.4 1247.2L1352.5 1246.4L1352.5 1245.5L1352.6 1244.6L1352.7 1243.3L1352.8 1242.1L1352.9 1240.5L1352.9 1239.6L1353.1 1238.4L1353.2 1237L1353.3 1236L1353.4 1234.9L1353.6 1233.3L1353.7 1231.3L1353.8 1230.5L1353.8 1229.5L1353.9 1226.4L1354 1225L1354 1223.8L1354.1 1222L1354.2 1220.3L1354.4 1219.4L1354.5 1218.3L1354.6 1217.3L1354.6 1216L1354.8 1214.2L1354.9 1212.4L1355 1211.5L1355.1 1210.2L1355.2 1208.6L1355.2 1207.5L1355.3 1206.6L1355.4 1205.1L1355.5 1204.2L1355.6 1203L1355.8 1201.9L1355.9 1200.1L1355.9 1198.8L1356 1197.7L1356.1 1195.9L1356.3 1192.7L1356.4 1190.8L1356.5 1188.3L1356.7 1186L1356.8 1182.5L1356.9 1181L1357.1 1179.6L1357.1 1178.7L1357.3 1176.1L1357.4 1174.4L1357.5 1173.4L1357.6 1172.3L1357.7 1171.4L1357.7 1169.3L1357.9 1167.7L1358 1164.9L1358 1163.3L1358.2 1162.1L1358.3 1160.7L1358.4 1158.8L1358.5 1157.4L1358.6 1156.1L1358.8 1154.8L1358.8 1153.8L1358.9 1152.8L1359 1151.7L1359.2 1150.5L1359.2 1149.1L1359.4 1147.2L1359.4 1145.2L1359.6 1143.7L1359.7 1141.6L1359.8 1140.6M1359.9 1134.6h0L1360 1133L1360.2 1131.5L1360.3 1129.7L1360.4 1128.7L1360.5 1127.9L1360.5 1126.9L1360.6 1125.9M1360.7 1120.1h0L1360.7 1118.2L1360.8 1117.3L1360.9 1116.1L1360.9 1114.7L1361 1113.7L1361.1 1111.7L1361.2 1110L1361.3 1108L1361.4 1106.9L1361.5 1104.2L1361.6 1102.5L1361.7 1101.3L1361.7 1100.1L1361.8 1097.6L1361.9 1095L1362 1093.4L1362.1 1090.7L1362.1 1089.3L1362.2 1087.9L1362.3 1087L1362.3 1085.5L1362.4 1083.9L1362.5 1082.8L1362.6 1081.4L1362.6 1079L1362.7 1077.8L1362.8 1076.2L1362.8 1074.7L1362.9 1073.8L1363 1072.9L1363 1072.1L1363.1 1070.5L1363.2 1069.4L1363.2 1068.6L1363.3 1067.8L1363.4 1066L1363.5 1065L1363.6 1063.7L1363.6 1062.9L1363.7 1061.7L1363.8 1060.3L1363.8 1059.3L1363.9 1057.7L1364 1056.3L1364 1055.2L1364.1 1052.2L1364.2 1051.3L1364.2 1050.2L1364.3 1049.4L1364.4 1048.5L1364.4 1046.9L1364.5 1045.8L1364.6 1043.9L1364.6 1040.2L1364.7 1038.8L1364.8 1037.3L1364.9 1035.2L1364.9 1034L1365 1032.6L1365.1 1030.5L1365.1 1028.5L1365.2 1027L1365.3 1025.7L1365.3 1023.7L1365.4 1022.6L1365.5 1020.8L1365.5 1018.2L1365.6 1016.6L1365.7 1015.4L1365.7 1013.9L1365.8 1012.7L1365.9 1011.5L1365.9 1009.8M1366 1004.7h0L1366.1 1003.3L1366.1 1000.7L1366.2 998.5L1366.3 996.4L1366.3 993.6L1366.4 991.2M1366.5 983.5h0L1366.5 980.4M1366.6 975.7h0L1366.7 973.7L1366.7 969.8M1366.8 962.3h0L1366.9 958.6L1366.9 954.6L1367 951.7L1367.1 948.7L1367.2 945.9L1367.2 943.2L1367.3 939.2M1367.4 934.6h0M1367.4 921h0M1367.5 916.1h0L1367.6 913.3L1367.6 910.8L1367.7 906.6M1367.8 902h0L1367.8 898.7L1367.9 895.5L1368 891.9M1368 882.6h0M1368.1 878.1h0M1368.2 864h0M1368.2 847.4h0M1368.3 836h0M1368.4 830.5h0L1368.4 826.5M1368.5 813.4h0M1368.6 804.8h0M1368.6 789.8h0M1368.7 784.5h0M1368.8 768.5h0M1368.8 762.5h0M1368.9 758.1h0M1369 741h0M1369 722.1h0M1416.5 1632.6h0M1416.5 1430.4h0M1416.5 1306.8h0M1417 1298.8h0M1417.5 1286.4h0M1418 1269.2h0M1418.6 1244.2h0M1419.1 1237.6h0M1419.6 1232.5h0M1420.2 1225.7h0M1420.7 1219.6h0M1421.2 1214.2h0L1421.8 1210.9M1422.3 1204.7h0L1422.8 1201.3L1423.4 1197.3M1423.9 1192.3h0L1424.4 1189.8L1425 1186.1L1425.5 1183.4L1426 1179.8L1426.6 1176M1427.1 1170.3h0M1427.6 1164.6h0L1428.2 1161.4L1428.7 1158.8M1429.2 1154h0L1429.8 1150.8L1430.3 1148.4L1430.8 1145.2M1431.3 1135.5h0M1431.9 1130.5h0L1432.4 1127.6M1432.9 1121.7h0L1433.5 1119.4L1434 1116M1434.5 1092.7h0M1435.1 1085.4h0M1435.6 1081h0M1436.1 1076.2h0M1436.7 1068.2h0L1437.2 1065L1437.7 1062.4M1438.3 1047.4h0L1438.8 1044.5M1439.3 1037.5h0L1439.9 1034L1440.4 1030.4M1440.9 1024.5h0M1441.5 1019.5h0L1442 1015.5M1442.5 1007.8h0M1443.1 1000.9h0M1443.6 991.7h0M1444.1 978.2h0M1444.6 967.9h0M1445.2 960.6h0M1445.7 943.4h0M1446.2 935.9h0M1446.8 914.5h0M1447.3 894.5h0M1447.8 877.6h0M1448.4 851.5h0M1448.9 837.5h0M1449.4 815.4h0M1450 797.9h0M1450.5 743.9h0M1451 703.8h0M1498.4 1602.5h0M1498.5 1595.6h0M1498.6 1589.9h0M1498.6 1582.6h0M1498.7 1576.8h0M1498.8 1567.1h0M1498.8 1561.3h0M1498.9 1552.7h0M1499 1537.3h0M1499 1531.5h0M1499.1 1527h0M1499.2 1518.7h0M1499.2 1509.6h0L1499.3 1505.8M1499.4 1495.4h0M1499.4 1489.3h0M1499.5 1470.7h0M1499.6 1460.9h0M1499.6 1455.8h0M1499.7 1445.2h0M1499.8 1438.7h0L1499.8 1435.8M1499.9 1431.3h0M1500 1426.3h0L1500.1 1422.6M1500.1 1415.1h0M1500.2 1400.8h0L1500.3 1396.7L1500.3 1393.4L1500.4 1391.2L1500.5 1388.3L1500.5 1385.9L1500.6 1383.9L1500.7 1380.6L1500.7 1377.2L1500.8 1374.7L1500.9 1372.3L1500.9 1370.2L1501 1366.2L1501.1 1364.3L1501.1 1361.4L1501.2 1359.8L1501.3 1357L1501.3 1354.5L1501.4 1352.8L1501.5 1351.4L1501.5 1348.7L1501.6 1346.5L1501.7 1345.2M1501.7 1339.2h0L1501.8 1337.7L1501.9 1335.1L1501.9 1332.1L1502 1330.8L1502.1 1329.3L1502.1 1326.8L1502.2 1323.4L1502.3 1321.5L1502.3 1319.8L1502.4 1317.4L1502.5 1313.7L1502.5 1312.1L1502.6 1309.5L1502.7 1308.2L1502.7 1307.1M1502.8 1301h0L1502.9 1299.6L1502.9 1297.2L1503 1295.1L1503.1 1293.5M1503.1 1289.1h0L1503.2 1287.3L1503.3 1284L1503.3 1283L1503.4 1281.8L1503.5 1280.9L1503.5 1279.6L1503.6 1278.7L1503.7 1277.5L1503.7 1276.7L1503.8 1275.2M1503.9 1266.1h0L1503.9 1263.6L1504 1262.6L1504.1 1261L1504.3 1259.2L1504.3 1256.7L1504.4 1255.3L1504.5 1254.4L1504.6 1252.9L1504.7 1252L1504.8 1250.5L1504.9 1249.6L1505 1248.6L1505 1247.4L1505.1 1246L1505.2 1244.7L1505.2 1243.8L1505.3 1242.6L1505.4 1239.8M1505.4 1235h0L1505.5 1233.5L1505.6 1232.5L1505.6 1231.3L1505.7 1229.6L1505.8 1228.2L1505.8 1226.9L1505.9 1225.2L1506 1222.5L1506.1 1220.9L1506.2 1219.7L1506.2 1218.7L1506.3 1217.8L1506.4 1216.7L1506.4 1215.6L1506.5 1214.5L1506.6 1213.1L1506.7 1211.7L1506.8 1210.4L1506.9 1208.7L1507 1207.8L1507.1 1206.5L1507.2 1205.3L1507.3 1202.7L1507.4 1201.6L1507.5 1199.9L1507.6 1198.9L1507.6 1197.6L1507.7 1196.2L1507.8 1194.9L1507.9 1192.6L1508 1191.1L1508.1 1189.5L1508.2 1187.9L1508.3 1186.5L1508.4 1185.4L1508.5 1184.3L1508.6 1182.6L1508.8 1181.5L1508.8 1180.4L1509 1179.2L1509 1178L1509.2 1176.8L1509.2 1175.4L1509.3 1174.4L1509.4 1173.5L1509.5 1171.5L1509.6 1169.7L1509.7 1168.1L1509.8 1166.9L1509.9 1165.6L1510 1164.3L1510.1 1163.1L1510.3 1162.2L1510.3 1161.4L1510.5 1160.3L1510.6 1159L1510.7 1157.7L1510.9 1156.7L1511 1154.9L1511.1 1153.9L1511.2 1151.7L1511.3 1150.8L1511.4 1149.6L1511.5 1148.1L1511.6 1146.9L1511.7 1145.6L1511.8 1144L1511.9 1142.9L1511.9 1142.1L1512 1141.3L1512.1 1140.2L1512.2 1137.5L1512.3 1136.7L1512.3 1134.4L1512.5 1133L1512.6 1131.3L1512.7 1130.3L1512.8 1129.1L1512.9 1128.2L1513 1126.1L1513.1 1125.3L1513.2 1124.4L1513.3 1122.7L1513.5 1121.5L1513.6 1119.4L1513.7 1118.3L1513.8 1117L1513.9 1115.8L1514 1114.6L1514.1 1111.7L1514.2 1110.8L1514.3 1110L1514.3 1108.3L1514.4 1106.7L1514.5 1105.8L1514.6 1104.8L1514.6 1103.4L1514.7 1102.5L1514.8 1101.7L1514.8 1100.1L1514.9 1099.3L1515 1098L1515.2 1096.6L1515.2 1095.6L1515.3 1094.5L1515.4 1091.9L1515.5 1090.8L1515.6 1089.3L1515.7 1088L1515.8 1087L1515.9 1085.2L1516 1083.8L1516.1 1082.9L1516.3 1081L1516.4 1079.1L1516.5 1077.9L1516.6 1076.1L1516.7 1075.1L1516.8 1074.2L1516.8 1073L1516.9 1071.5L1517 1069.9L1517 1068.9L1517.2 1068L1517.2 1067.1L1517.3 1065.6L1517.4 1063.4L1517.5 1062.4L1517.6 1060.2L1517.7 1059.3L1517.8 1058.3L1517.9 1057L1518 1055.9L1518.2 1055L1518.2 1054.1L1518.3 1051.7L1518.4 1050.3L1518.6 1048.8L1518.7 1047.9L1518.8 1046.7L1519 1045.4L1519.1 1044.4L1519.2 1043.3L1519.3 1042.2L1519.5 1040.9L1519.6 1039.6L1519.7 1038.8L1519.9 1037.3L1520 1035.1L1520.1 1033L1520.3 1031.9L1520.4 1030.7L1520.5 1029.5L1520.7 1028.3L1520.8 1027.4L1520.9 1026.5L1521.1 1025.5L1521.2 1024.2L1521.3 1022.5L1521.4 1021.1L1521.5 1020L1521.7 1018.6L1521.8 1017.8L1521.9 1016.8L1522 1015.2L1522.1 1014L1522.3 1012.4L1522.4 1011L1522.5 1009.1L1522.6 1008L1522.7 1006.1L1522.9 1004.9L1523 1003.4L1523.1 1002.5L1523.2 1001.5L1523.3 998.8L1523.5 997.9L1523.6 996.6L1523.7 995.3L1523.9 994.2L1524 993.2L1524.1 992.1L1524.2 990.5L1524.3 989.4L1524.4 988.1L1524.6 986.8L1524.7 985.8L1524.8 983.9L1524.9 982.3L1525 981.5L1525 980.5L1525.1 979.5L1525.2 977.6L1525.4 976L1525.4 975L1525.6 973.7L1525.7 972.4L1525.8 970.8L1525.8 970L1526 968.1L1526 966L1526.1 964.9L1526.2 963.9L1526.4 962.4L1526.5 961.1L1526.6 960L1526.6 959.1L1526.7 958.1L1526.8 956.8L1527 955.7L1527 954.8L1527.1 953.9L1527.2 952.1L1527.3 950.6L1527.4 949L1527.6 947L1527.7 945.1L1527.8 943.1L1527.9 940.4L1528 939.6L1528.1 938.2L1528.2 936.5L1528.3 934.8L1528.4 931.6L1528.5 929.4L1528.6 927.1L1528.7 926.2L1528.8 925.1L1528.9 923.7L1529 919.9L1529.1 917.5L1529.2 916.3L1529.3 912.5L1529.3 910.7L1529.4 909.8L1529.5 908.7L1529.5 907L1529.6 905.2L1529.7 903.9L1529.7 902.3L1529.8 900.8L1529.9 899.3L1529.9 897.2L1530 894.9L1530.1 893.8L1530.1 891.2L1530.2 888.9L1530.3 885.4L1530.3 883.7L1530.4 880.4L1530.5 879.1L1530.5 877.6L1530.6 875.9L1530.7 873L1530.7 869.7L1530.8 868.2L1530.9 864.8M1530.9 859.9h0L1531 857.6M1531.1 852.6h0L1531.1 849M1531.2 844h0L1531.3 840.2M1531.3 834.3h0L1531.4 830.4L1531.5 827.9M1531.5 822.8h0M1531.6 814.4h0L1531.7 810.6M1531.7 805.5h0L1531.8 802.5L1531.9 798.5L1531.9 795.2L1532 792.2M1532.1 787.6h0M1532.1 779.1h0M1532.2 773.7h0M1532.3 764.9h0M1532.3 758.1h0M1532.4 753.2h0M1532.5 742.4h0M1532.5 736.8h0M1532.6 732.2h0M1532.7 723.3h0L1532.7 719.3M1532.8 715.1h0M1532.9 706.2h0M1532.9 695.2h0M1533 680.8h0M1533.1 662.8h0M1533.1 656.2h0M1533.2 647.7h0M1533.3 640.8h0M1533.3 636.5h0M1533.4 627.7h0L1533.5 623.6M1580.9 1402h0M1580.9 1356.9h0M1580.9 1253.4h0M1580.7 1218.3h0M1580.8 1212h0M1580.9 1197h0M1581.1 1192h0M1581.2 1185.8h0M1581.3 1175.7h0M1581.4 1168.9h0M1581.5 1161.4h0M1581.7 1153h0M1581.8 1139.5h0M1581.9 1131.6h0M1582 1127h0M1582.2 1120.1h0M1582.3 1110.3h0M1582.4 1096.5h0M1582.5 1090h0M1582.7 1085.7h0M1582.8 1069.2h0M1582.9 1060.7h0M1583 1049.3h0M1583.1 1044.9h0M1583.3 1030.5h0M1583.4 1025.6h0M1583.5 1018.6h0M1583.6 1012.4h0L1583.8 1010M1583.9 1005.7h0M1584 996.9h0L1584.1 992.9M1584.2 988.4h0M1584.4 984h0L1584.5 981.8L1584.6 979.9L1584.7 977L1584.9 974.7L1585 972.5L1585.1 970.2L1585.2 966.3L1585.4 963.9L1585.5 962.3L1585.6 961M1585.7 955.2h0L1585.8 952.9L1586 949.7L1586.1 948.5L1586.2 947.1L1586.3 944L1586.5 942.9L1586.6 941.7L1586.7 940.5L1586.8 939L1586.9 937.2L1587.1 936L1587.2 934L1587.3 932.4L1587.4 930L1587.6 926L1587.7 924.1L1587.8 922.7L1587.9 921.8L1588.1 920.4L1588.2 918.1L1588.3 915.6L1588.4 914.6L1588.5 913.5L1588.7 912.7L1588.8 911.2L1588.9 909.8L1589 908.5L1589.3 905.9L1589.4 904.1L1589.5 901.6L1589.6 898.5L1589.9 897.2L1590 896.2L1590.1 894.3L1590.3 893.5L1590.4 891.3L1590.6 887.8L1590.8 884.5L1590.9 883.3L1591 882.5L1591.1 881.7L1591.4 879.6L1591.6 878.3L1591.7 877.4L1591.9 876.4L1592.1 875.1L1592.2 874.3L1592.3 871L1592.6 868.5L1592.8 867.2L1593 866.2L1593.1 865L1593.3 863.1L1593.5 861.7L1593.6 859.2L1593.8 856.7L1593.9 855.7L1594.1 854.5L1594.3 853.2L1594.4 850.3L1594.6 849.4L1594.7 848.6L1594.8 847.8L1594.9 847L1595 846L1595.2 845.2L1595.3 844.1L1595.4 843L1595.5 841.6L1595.7 837.6L1595.9 836.4L1596 835L1596.2 834.2L1596.3 833.3L1596.5 831.7L1596.6 830.7L1596.8 827.9L1596.9 826L1597 825L1597.1 822.4L1597.3 820.7L1597.4 819.6L1597.5 818.5L1597.6 817.6L1597.8 816.5L1597.9 814.1L1598.1 811.8L1598.2 810.6L1598.4 809.3L1598.5 808.3L1598.6 806.4L1598.7 805.3L1599 803.8L1599.1 801.4L1599.2 800.2L1599.5 798.5L1599.6 797.1L1599.7 793.1L1599.8 789.4L1600 788.6L1600.2 787L1600.5 784.4L1600.6 782.4L1600.7 780.5L1600.8 779.2L1600.9 776.5L1601.1 775.5L1601.2 774.7L1601.3 773.1L1601.4 771.9L1601.6 770.9L1601.7 768.4L1601.8 767L1601.9 765.9L1602 764.7L1602.2 763.2L1602.3 762.2L1602.4 761L1602.5 757.7L1602.7 754.8L1602.8 753.2L1603 751.4L1603.2 749.4L1603.3 748.1L1603.4 746L1603.5 741.9L1603.6 740.5L1603.9 738.8L1604 737.7L1604.1 736.5L1604.3 733.5L1604.4 732.4L1604.5 731.2L1604.6 728.9L1604.7 727.3L1604.9 726.5L1605 724.6L1605.1 723.2L1605.2 719.7L1605.4 717L1605.5 714.6L1605.6 711.6M1605.7 707.4h0L1605.9 706.4L1606 703.9L1606.1 702.8L1606.2 701.6L1606.3 699.4L1606.5 698.5L1606.6 696.7L1606.7 695.4L1606.8 692L1607 691.1L1607.1 689.9L1607.2 688.4L1607.3 687.3L1607.4 686.4L1607.6 685.1L1607.7 684L1607.8 682L1607.9 678M1608.1 673.5h0L1608.2 672.4L1608.3 671.3L1608.4 670.4M1608.6 665.8h0L1608.7 664.5L1608.8 660.4L1608.9 658.4L1609 656.2L1609.2 652.5L1609.3 650L1609.4 648.6L1609.5 646.7L1609.7 643.6L1609.8 641.8L1609.9 640.7L1610 637.2M1610.1 631.2h0L1610.3 629.2L1610.4 627.7L1610.5 626.6L1610.6 624.7L1610.8 622.4L1610.9 620.7L1611 618.4L1611.1 616.6L1611.3 614.6M1611.4 610.1h0L1611.5 607L1611.6 604.7M1611.7 600.4h0M1611.9 596.2h0M1612 591.4h0L1612.1 590L1612.2 588.6L1612.4 586.6L1612.5 585.3M1612.6 580.6h0L1612.7 579.2L1612.8 576.8L1613 575.1L1613.1 573.5M1613.2 566.4h0M1613.3 562.1h0L1613.5 560.3L1613.6 558.8L1613.7 556.9L1613.8 553.7M1614 548.9h0L1614.1 546.8L1614.2 544.8L1614.3 543.4L1614.4 541.5L1614.6 538.6L1614.7 537L1614.8 534.2L1614.9 531.7L1615.1 530.5L1615.2 529.4L1615.3 525.9L1615.4 522.6L1615.6 520L1615.7 518.3M1615.4 471.6h0M1615.4 459.9h0M1615.4 448.2h0M1615.4 401.4h0M1662.9 1681h0L1663.6 1680.2L1664 1679.3L1664.2 1678.5L1664.6 1677.1L1664.8 1676L1665.2 1675L1665.4 1674.2L1665.6 1672.9L1666 1671.8L1666.2 1669.3L1666.6 1667L1666.8 1666.1L1667.2 1664.7L1667.4 1663.6L1667.8 1662.4L1668 1661.5L1668.2 1660.5L1668.4 1659.1L1668.8 1656.8L1669 1655.4L1669.2 1654.5L1669.6 1652.9L1669.8 1651.8L1670 1650.3L1670.5 1648.3L1670.7 1647.5L1670.9 1646L1671.1 1644.8L1671.3 1644L1671.5 1642.2L1671.9 1640.9L1672.1 1639.4L1672.3 1638.5L1672.5 1637.2L1672.7 1635L1672.9 1633.7L1673.1 1630.5L1673.3 1629.7L1673.7 1628.4L1673.9 1627.6L1674.1 1625.2L1674.5 1623.7L1674.7 1622.3L1674.9 1621.4L1675.3 1620L1675.7 1618.6L1675.9 1615.4L1676.3 1614.2L1676.7 1613L1676.9 1611.5L1677.4 1609.8L1677.6 1608.7L1677.8 1607.7L1678 1606.3L1678.2 1605L1678.4 1603.7L1678.8 1602.1L1679 1600.9L1679.2 1599.7L1679.4 1598.7L1679.6 1597.3L1680 1595.8L1680.2 1594.9L1680.4 1593.4L1680.6 1591.3L1680.8 1590.1L1681.2 1588.8L1681.4 1588L1681.6 1587L1682 1583.1L1682.4 1581.5L1682.6 1580.7L1683 1579L1683.2 1576.8L1683.4 1575.2L1683.6 1574.2M1683.8 1570h0L1684.1 1568.7L1684.3 1567.8L1684.7 1565.2L1685.1 1563.7L1685.3 1562.7L1685.5 1561.2L1685.7 1559.5L1685.9 1557.3L1686.1 1555.1L1686.3 1552.5L1686.5 1551L1686.7 1550L1686.9 1548.4L1687.1 1546.1L1687.3 1545.1L1687.5 1543.8L1687.7 1542.6L1687.9 1541.7L1688.1 1540.6L1688.3 1538.6L1688.5 1535.3L1688.7 1533.4L1688.9 1531.9L1689.1 1530.7L1689.3 1528.2L1689.5 1527.1L1689.7 1525.7L1689.9 1524.1L1690.1 1521.7L1690.3 1520.1L1690.5 1518.7L1690.7 1517.1L1691 1513.2L1691.2 1511.4L1691.4 1509.3M1691.6 1503.8h0L1691.8 1502.2L1692 1498.2L1692.2 1496.4L1692.4 1494.3L1692.6 1491.3L1692.8 1489L1693 1486.8L1693.2 1483.2M1693.4 1478.4h0L1693.6 1475.8M1693.8 1470h0M1694 1460.2h0M1694.2 1445h0L1694.4 1442.4M1694.6 1436.6h0M1694.8 1426.4h0M1695 1421.3h0M1695.2 1400.2h0M1695.4 1395.1h0M1695.6 1372.4h0M1695.8 1356.4h0M1696 1338.9h0M1696.2 1316.2h0M1696.4 1292.4h0M1696.6 1261.1h0M1696.8 1245.3h0M1697 1215.2h0M1697.2 1190.9h0M1697.4 1146.8h0M1697.6 1098h0M1697.9 1077.9h0M1745.1 1473.9h0M1745.2 1464.6h0M1745.2 1455.7h0M1745.3 1450.1h0M1745.4 1435.9h0M1745.4 1431.4h0M1745.5 1423.5h0M1745.6 1412.6h0M1745.6 1405.8h0M1745.7 1396.9h0M1745.8 1388.6h0M1745.8 1367.2h0L1745.9 1363.1M1746 1354.4h0M1746 1343.7h0M1746.1 1335.6h0M1746.2 1329.1h0M1746.2 1319.5h0L1746.3 1315.7M1746.4 1307.9h0L1746.5 1303.8L1746.5 1300.9L1746.6 1297.6M1746.7 1292.6h0M1746.7 1286.9h0M1746.8 1275.3h0M1746.9 1270.3h0M1746.9 1260.6h0L1747 1258.7M1747.1 1251.3h0M1747.1 1246.6h0L1747.2 1243L1747.3 1240.8L1747.3 1239.1L1747.4 1237.5L1747.5 1236.2L1747.5 1233.3L1747.6 1232L1747.7 1228.6L1747.7 1225.6L1747.8 1222.3L1747.9 1221.1L1747.9 1220.2L1748 1219.2L1748.1 1215.6L1748.1 1213.5L1748.2 1212.5L1748.3 1210.2L1748.3 1209.2L1748.4 1205L1748.5 1204.1L1748.6 1202.2L1748.6 1199.8L1748.8 1198.4L1748.8 1197.3L1748.9 1196L1749 1194.4L1749 1193.1L1749.1 1191.1L1749.2 1189.8L1749.3 1187.9L1749.4 1186.7L1749.4 1185.7L1749.5 1184.3L1749.6 1182.7L1749.7 1180.8L1749.8 1179.9L1749.8 1177L1749.9 1176.1L1750 1175.3L1750 1174L1750.2 1172.8L1750.2 1170.2L1750.4 1168L1750.5 1167.2L1750.6 1165.9L1750.7 1164.1L1750.9 1163.1L1751 1162.2L1751.1 1158.8L1751.2 1157.7L1751.3 1156.6L1751.3 1155.6L1751.5 1154.5L1751.6 1153.1L1751.7 1152.3L1751.9 1151.3L1752 1150.2L1752.1 1149.1L1752.3 1147.7L1752.4 1146.4L1752.6 1145.4L1752.7 1144.5L1752.8 1143.5L1752.9 1142.5L1753 1141.1L1753 1140.1L1753.1 1139.2L1753.2 1138.3L1753.4 1136.7L1753.5 1135.8L1753.6 1134.8L1753.8 1132.9L1754 1131.4L1754 1129.4L1754.2 1128.4L1754.3 1127.1L1754.4 1126.1L1754.6 1125.1L1754.7 1124.1L1754.9 1122.2L1755.1 1120.9L1755.2 1118.9L1755.3 1118L1755.4 1116.7L1755.5 1115.7L1755.7 1114.2L1755.8 1113.2L1755.9 1112.1L1756 1109.8L1756.1 1108.7L1756.2 1107.7L1756.3 1105.4L1756.5 1103.8L1756.6 1102.9L1756.8 1101.5L1757 1100.4L1757.1 1099.5L1757.2 1098.4L1757.4 1097.1L1757.5 1096L1757.6 1095.1L1757.7 1093.1L1757.8 1092.1L1758 1090.6L1758.1 1089.6L1758.2 1088.7L1758.3 1087.5L1758.4 1086.4L1758.6 1085.3L1758.7 1084L1758.7 1083.1L1758.9 1082.1L1759 1080.8L1759.1 1079.9L1759.2 1078.6L1759.3 1077.3L1759.3 1074.3L1759.5 1073L1759.6 1071.8L1759.7 1071L1759.9 1069.3L1759.9 1068.1L1760 1067L1760.1 1065.9L1760.2 1063.9L1760.3 1063L1760.5 1061L1760.6 1059.3L1760.8 1058.4L1760.9 1054.5L1761 1053.6L1761.2 1051.9L1761.2 1050.4L1761.3 1048.2L1761.4 1046.7L1761.6 1045.4L1761.7 1044.1L1761.8 1043L1761.8 1042.1L1761.9 1041.1L1762 1040.1L1762.2 1038.7L1762.2 1037.5L1762.4 1036L1762.5 1034.4L1762.7 1032.8L1762.7 1031.7L1762.8 1029.7L1762.9 1028.7L1762.9 1025.8L1763.1 1024.1L1763.2 1022.5L1763.3 1021.3L1763.5 1020.3L1763.5 1018.9L1763.7 1017.8L1763.8 1016.9L1763.9 1015.4L1764.1 1014.4L1764.2 1013.3L1764.3 1012.5L1764.4 1011.2L1764.5 1010.4L1764.5 1009.1L1764.6 1006.6L1764.8 1004.8L1764.8 1002.7L1764.9 1001.3L1765 1000L1765.1 999L1765.2 998L1765.2 996.9L1765.4 993.2L1765.5 991.9L1765.6 989.9L1765.8 988.6L1765.8 987.5L1765.9 986.7L1766 985.5L1766.2 983.7L1766.2 982.8L1766.3 981.2L1766.4 979.6L1766.5 977.4L1766.6 975.7L1766.7 974L1766.8 971.9L1766.9 970.6L1767.1 969L1767.1 967.5L1767.2 965.9L1767.3 964.8L1767.3 963.9L1767.5 962.7L1767.5 961.6L1767.6 960.4L1767.7 959L1767.9 957.7L1767.9 955.9L1768 955.1L1768.1 953.8L1768.1 953L1768.3 951.2L1768.3 948.8L1768.4 947.8L1768.5 947L1768.5 944.6L1768.7 943.3L1768.8 941.2L1768.9 940.4L1769 938.4L1769.1 937L1769.2 936L1769.2 934.1L1769.3 933.1L1769.4 932.3L1769.4 930.5L1769.5 929.6L1769.6 928L1769.6 926.9L1769.7 926L1769.8 925.2L1769.8 923.8L1769.9 922.7L1770 920.8L1770.1 917.3L1770.2 916.5L1770.3 915.1L1770.4 913.6L1770.4 911.5L1770.5 910.6L1770.6 909.4L1770.6 908.6L1770.7 907.6L1770.8 906.6L1770.9 905L1771 903.8L1771.1 900.9L1771.2 899.3L1771.3 898.1L1771.3 895.7L1771.4 894.8L1771.5 893.8L1771.5 892.8L1771.6 891M1771.7 885.9h0L1771.7 884.8L1771.8 881.3L1771.9 879.8M1772 874.8h0L1772.1 871.7L1772.1 870.1L1772.2 869L1772.3 865.9L1772.4 865L1772.5 863.6L1772.5 862.6L1772.6 861.4L1772.7 857.3L1772.8 856.4L1772.8 855.1M1772.9 848.2h0L1773 847L1773 844.9L1773.1 843.8L1773.2 840.2L1773.2 838.7M1773.3 833.8h0L1773.4 832.9L1773.4 831.1L1773.5 830L1773.6 828.4L1773.6 827.1L1773.7 825.8L1773.8 824.4L1773.8 822.2L1773.9 819.7L1774 818.5L1774 816.8L1774.1 813.4L1774.2 810.1L1774.2 809.1L1774.3 806.5L1774.4 804.7L1774.4 803.7L1774.5 802.4L1774.6 798.9L1774.6 796.3M1774.7 791.3h0L1774.8 790.2L1774.9 788.1L1774.9 786.7L1775 784.7L1775.1 781.7L1775.1 780.6L1775.2 777.6L1775.3 775.6L1775.3 774.2L1775.4 772.4L1775.5 771.1L1775.5 770M1775.6 759.8h0L1775.7 757M1775.7 745.9h0L1775.8 742.9L1775.9 741.6L1775.9 738.7L1776 735.8L1776.1 733.4L1776.1 732L1776.2 730.2M1776.3 722.9h0L1776.3 721.6L1776.4 719.1L1776.5 717.1L1776.5 714.9L1776.6 713.4L1776.7 710.7L1776.7 709.1L1776.8 707.5L1776.9 704.2L1777 702.5L1777 699.9L1777.1 698.3M1777.2 693.9h0L1777.2 691.4L1777.3 689.1L1777.4 686.9L1777.4 683.4L1777.5 681.5M1777.6 674h0L1777.6 672.3L1777.7 669.4M1777.8 664.1h0L1777.8 660.1M1777.9 655.8h0M1778 648.2h0L1778 646.1M1778.1 641.7h0L1778.2 638.7M1778.2 634.3h0L1778.3 631.5L1778.4 629.4L1778.4 626.6L1778.5 624.1M1778.6 619.7h0M1778.6 615h0M1778.7 606.3h0L1778.8 603.8L1778.9 600.8M1778.9 590.5h0L1779 587.7L1779.1 584.5L1779.1 582.1L1779.2 578.7L1779.3 576.4M1779.3 571.2h0L1779.4 568.1L1779.5 566.1M1779.5 561.2h0M1779.6 552.2h0L1779.7 549.6L1779.7 547.4M1779.8 543h0L1779.9 539L1779.9 536.8L1780 533.9M1780.1 528.2h0M1780.1 518.3h0M1827.6 1589.1h0M1827.6 1544h0M1827.6 1524h0M1827.3 1477.2h0M1827.4 1460h0M1827.5 1451.9h0M1827.6 1446.7h0L1827.7 1443M1827.8 1437.7h0M1827.9 1430.6h0M1828 1423.3h0M1828.1 1412.8h0M1828.2 1407.8h0L1828.3 1403.9L1828.4 1399.9M1828.5 1393.3h0M1828.6 1384.2h0L1828.7 1380.8M1828.8 1372.7h0L1828.9 1369.5L1828.9 1366.5M1829 1360.6h0L1829.1 1357.9M1829.2 1351.7h0M1829.3 1347.5h0M1829.4 1336.2h0M1829.5 1328.1h0L1829.6 1325.2M1829.7 1310.6h0L1829.8 1307.8L1829.9 1303.7M1830 1298.8h0L1830.1 1295.1L1830.2 1292.4M1830.3 1287.5h0L1830.4 1285.7L1830.5 1283.5L1830.6 1282L1830.7 1279.9L1830.8 1276.6M1830.8 1270.4h0L1830.9 1268.9L1831 1267.1L1831.1 1265.4L1831.2 1262.9L1831.3 1259.4L1831.4 1258L1831.5 1255.9L1831.6 1254.8L1831.7 1252.1M1831.8 1246.2h0L1831.9 1243.1L1832 1240.7L1832.1 1239.5L1832.2 1236.9L1832.3 1235.8L1832.4 1232.7L1832.5 1231.7L1832.6 1230.7L1832.7 1228.6L1832.8 1227.5L1832.8 1226.1L1832.9 1225.3L1833 1224.3L1833.1 1222.7L1833.2 1219.2L1833.4 1217.2L1833.5 1214.1L1833.6 1211.7L1833.8 1210.1L1833.9 1207.6L1834 1206.2L1834.1 1205.3L1834.2 1204.2L1834.3 1203.4L1834.4 1201.9L1834.5 1200L1834.7 1198.4L1834.8 1196.7L1835 1195.3L1835.1 1194.1L1835.2 1192.8L1835.3 1190.5L1835.4 1187.9L1835.5 1185.8L1835.6 1184.8L1835.7 1183.8L1835.8 1182.6L1835.9 1180.8L1836 1180L1836.1 1178.7L1836.2 1176.2L1836.3 1174.7L1836.4 1173.7L1836.5 1172.4L1836.6 1171.4L1836.7 1170.6L1836.7 1169.3L1836.9 1168L1837 1167.2L1837.1 1165.4L1837.2 1164.6L1837.3 1163.7L1837.4 1162.8L1837.5 1162L1837.7 1161L1837.8 1159.7L1838 1157.8L1838.1 1156.6L1838.2 1155.8L1838.3 1154.8L1838.4 1153.9L1838.5 1152.9L1838.7 1151.7L1838.7 1149.6L1838.9 1148.6L1839.1 1145.9L1839.3 1144.8L1839.5 1141.5L1839.6 1140.3L1839.8 1139L1840 1137.9L1840.1 1136.8L1840.2 1133.1L1840.4 1130.6L1840.5 1128.4L1840.6 1127.5L1840.6 1126.2L1840.8 1125.1L1841 1123.7L1841.1 1122.5L1841.3 1120.5L1841.4 1119.6L1841.5 1117.5L1841.6 1115.4L1841.8 1113.7L1842 1110.8L1842.1 1109.9L1842.3 1107.5L1842.5 1105.2L1842.6 1103.9L1842.6 1101.6L1842.7 1100.3M1842.8 1095.8h0L1842.9 1094.2L1843 1092.7L1843.2 1091L1843.3 1089L1843.4 1088L1843.5 1085.9L1843.6 1084.8L1843.7 1081.7L1843.8 1079.2L1844 1077.3L1844.2 1075.9L1844.3 1074.7L1844.4 1073.4L1844.5 1072.6L1844.6 1071.7L1844.7 1069.3L1844.8 1067.8L1844.9 1065.6L1845 1064.8L1845.1 1062.3L1845.3 1060.7L1845.4 1058.5L1845.5 1056.5L1845.6 1054.6L1845.7 1052.7L1845.8 1050.7L1845.9 1048.9L1846 1047.8L1846.1 1046.8L1846.2 1045.6L1846.3 1044.7L1846.4 1043.3L1846.5 1041.9L1846.5 1041.1L1846.6 1040L1846.7 1038.3L1846.8 1037.1L1846.9 1036.2L1847 1034.9L1847.1 1032.8L1847.2 1031.1L1847.3 1029.9L1847.4 1028.9L1847.5 1027.9L1847.6 1027L1847.7 1026L1847.8 1025.1L1847.9 1023.4L1848 1022.1L1848.1 1019.5L1848.2 1017.8L1848.3 1016.8L1848.4 1015.5L1848.5 1013.5L1848.5 1010.3L1848.6 1009.1L1848.7 1005.6L1848.8 1003.7L1848.9 1002.6L1849 1001.5L1849.1 1000.6L1849.2 997.9L1849.3 995.4L1849.4 993.9L1849.5 992.4L1849.6 991.2L1849.7 989.5L1849.8 988.5L1849.9 985.9L1850 983.9L1850.1 982.7L1850.2 979.9L1850.3 979L1850.4 976.1L1850.4 974.8L1850.5 972.7L1850.6 971.6L1850.7 970.6L1850.8 969M1850.9 962.9h0L1851 961.6L1851.1 960.5L1851.2 959L1851.3 956.7L1851.4 955.4L1851.5 954L1851.6 952L1851.7 950.2L1851.8 947.3L1851.9 945.9L1852 944.8L1852.1 943.7L1852.2 940.2L1852.3 937.4L1852.4 935L1852.4 933.6L1852.5 932.5M1852.6 927.9h0L1852.7 925.5L1852.8 923.3M1852.9 916.4h0L1853 914.6M1853.1 909.1h0L1853.2 907.6L1853.3 904.7L1853.4 902.2L1853.5 900L1853.6 896.9L1853.7 893.8L1853.8 892.3L1853.9 891L1854 889.8L1854.1 887.7L1854.2 884.8L1854.3 883.5L1854.4 881.3L1854.4 879.7M1854.5 874.2h0L1854.6 870.5L1854.7 869.2L1854.8 866.6L1854.9 863.4L1855 861.3L1855.1 857.8L1855.2 856.1L1855.3 854L1855.4 851.6L1855.5 849.3L1855.6 847.8M1855.7 841.4h0L1855.8 840M1855.9 834.6h0M1856 829.1h0L1856.1 827.6L1856.2 823.7L1856.3 821.9L1856.3 818.1L1856.4 814.9L1856.5 813.4L1856.6 811.6L1856.7 808.8L1856.8 805.7L1856.9 802.8M1857 797.7h0M1857.1 791.7h0L1857.2 788.2L1857.3 785.7L1857.4 781.9M1857.5 772.7h0M1857.6 768h0M1857.7 762.6h0M1857.8 756.6h0M1857.9 752h0L1858 749.2L1858.1 745.4M1858.2 741.1h0L1858.3 739L1858.3 735.3M1858.4 730.6h0M1858.5 722h0M1858.6 708.1h0L1858.7 704.2M1858.8 699.7h0L1858.9 696.5L1859 694.4L1859.1 692.2L1859.2 688.4M1859.3 683.6h0L1859.4 681L1859.5 677.9M1859.6 670.2h0L1859.7 667.6L1859.8 665.2L1859.9 661.8L1860 659.3L1860.1 657M1860.2 651.8h0L1860.2 647.8L1860.3 645.8L1860.4 643.2L1860.5 640.4L1860.6 638.5L1860.7 635.2M1860.8 630.4h0M1860.9 624.9h0L1861 621.6L1861.1 619.8L1861.2 617.5L1861.3 615.6L1861.4 612.9L1861.5 611.3L1861.6 608.9L1861.7 607.3M1861.8 602.8h0L1861.9 600.3L1862 597.5L1862.1 593.7L1862.2 591.4L1862.2 588.7M1862.3 581.8h0M1862.1 540h0M1862.1 528.4h0M1862.1 498.3h0M1862.1 491.6h0M1862.1 469.9h0M1862.1 443.2h0M1909.8 1615.9h0M1909.5 1413.7h0M1909.6 1395.5h0M1909.7 1389.6h0M1909.8 1380.1h0M1909.8 1368.9h0M1909.9 1363.3h0M1910 1346.1h0M1910 1339h0M1910.1 1329.9h0M1910.2 1323.4h0M1910.3 1316.5h0M1910.3 1310.1h0M1910.4 1285.1h0M1910.5 1268.4h0M1910.6 1263.7h0M1910.6 1255.5h0M1910.7 1242.2h0M1910.8 1237.6h0M1910.8 1232.1h0M1910.9 1226.4h0L1911 1222.9M1911.1 1217.6h0M1911.1 1210.8h0M1911.2 1202.3h0M1911.3 1198.1h0L1911.4 1194.4L1911.4 1191.1L1911.5 1187.9M1911.6 1183h0M1911.6 1178.2h0L1911.7 1176.4L1911.8 1173.2L1911.9 1170L1911.9 1166.5L1912 1164.9L1912.1 1163.3M1912.2 1158.2h0L1912.2 1156.6L1912.3 1154.2M1912.4 1149.5h0L1912.4 1147.5L1912.5 1145.7M1912.6 1139.3h0L1912.7 1138.1L1912.7 1136.8L1912.8 1135.4L1912.9 1132.9L1913 1131.7L1913 1130.4L1913.1 1129L1913.2 1124.9L1913.2 1123.7L1913.3 1122.6L1913.4 1121.4L1913.5 1119.3L1913.5 1118.3L1913.6 1117.3M1913.7 1110h0L1913.8 1108.5L1913.8 1107.6L1913.9 1105.7L1914 1104.1L1914 1102.3L1914.2 1099.2L1914.3 1097.8L1914.4 1094.8L1914.5 1093.7L1914.6 1091.4L1914.7 1090.1L1914.8 1088.1L1914.8 1086.7L1914.9 1085.6L1915 1084.4L1915.1 1083.4L1915.1 1081.4L1915.3 1080L1915.4 1078.7L1915.4 1076L1915.5 1074.7L1915.6 1073.7L1915.7 1071.2L1915.8 1069.6L1915.9 1068L1916.1 1066.5L1916.2 1064.9L1916.3 1063.9L1916.4 1063L1916.5 1061.7L1916.6 1060.8L1916.7 1058.2L1916.8 1057L1917 1055.6L1917 1053.6L1917.2 1052.5L1917.3 1050.5L1917.4 1049.4L1917.5 1048.1L1917.7 1045.4L1917.8 1043.6L1918 1042.1L1918.2 1040.4L1918.3 1039.5L1918.3 1036.9L1918.4 1035.9L1918.5 1034.4L1918.7 1033.4L1918.8 1032.4L1919 1031.4L1919.1 1030.5L1919.3 1029.1L1919.5 1027.5L1919.6 1026.5L1919.8 1025.3L1919.9 1023.9L1920 1022.7L1920.1 1021.8L1920.1 1020.7L1920.3 1019.7L1920.4 1018.8L1920.5 1017.6L1920.7 1016.5L1920.9 1015.5L1921 1014.1L1921.2 1013.3L1921.3 1011.8L1921.5 1010.2L1921.5 1009.3L1921.6 1008L1921.7 1007.2L1921.9 1005.8L1922 1004.7L1922 1003.8L1922.2 1001.6L1922.3 1000.8L1922.5 999.9L1922.6 998.8L1922.7 998L1922.8 996.9L1923 996.1L1923.2 994.7L1923.3 993.2L1923.5 992.3L1923.7 990.8L1923.8 989.9L1924 988.5L1924.1 986.8L1924.3 985L1924.4 984.2L1924.6 982.5L1924.7 981.5L1924.9 980.1L1924.9 979.3L1925.1 977.6L1925.3 975.8L1925.5 974.4L1925.6 973.5L1925.8 972.2L1925.9 971.2L1926 969.9L1926.2 968.7L1926.3 967.5L1926.5 965.9L1926.6 965L1926.7 963.1L1926.8 962.2L1927 960.2L1927.1 959.2L1927.1 958.4L1927.3 957.4L1927.3 956.6L1927.5 955.6L1927.6 954.7L1927.8 953.4L1927.9 952L1928.1 951.1L1928.1 950.1L1928.3 948.8L1928.4 947.7L1928.7 946.4L1928.7 945.5L1928.9 944.5L1929 943.7L1929.2 941.7L1929.4 940.2L1929.5 938.9L1929.6 937.7L1929.7 936.9L1929.9 936L1930 934.7L1930.1 933.5L1930.3 932.6L1930.4 930.8L1930.5 929.4L1930.7 928.5L1930.8 926.9L1931 926L1931.1 925.1L1931.3 923.8L1931.4 922.3L1931.6 921.1L1931.8 919.9L1931.9 918.6L1932 916.3L1932.1 914.7L1932.3 913.2L1932.4 911.7L1932.6 910.7L1932.7 909.5L1932.8 908.1L1932.9 907.1L1933 906.1L1933.2 904.8L1933.3 903.4L1933.4 902.2L1933.5 900.9L1933.6 900L1933.8 898.9L1933.9 898L1934 897.1L1934.1 896.1L1934.3 894.4L1934.4 893.1L1934.5 892.3L1934.8 890.9L1934.9 889.8L1935.1 888.9L1935.2 887.8L1935.3 887L1935.4 886L1935.5 885.2L1935.6 882.9L1935.7 881.7L1935.8 879.5L1935.9 878.4L1936.1 876.7L1936.2 875.8L1936.4 874.8L1936.5 873.8L1936.7 872.2L1936.8 870.6L1936.9 869.5L1937 868.2L1937.1 867.2L1937.2 865.5L1937.4 864L1937.5 863L1937.6 862.1L1937.7 860.8L1937.9 859.4L1938 856.8L1938.2 855.7L1938.3 854.6L1938.4 853.7L1938.5 852.5L1938.6 851L1938.7 850.1L1938.8 848.7L1938.9 845.6L1939 843.7L1939.1 842.7L1939.2 841L1939.3 838.8L1939.3 836.4L1939.4 835.4L1939.5 833.8L1939.6 831.8L1939.6 830.4L1939.8 829.3L1939.9 828L1940 826.7L1940.1 823L1940.2 820.9L1940.3 819.7L1940.4 818.1L1940.4 817.2L1940.6 815.9L1940.6 814.5L1940.7 812.6L1940.8 809.9L1940.9 809.1L1940.9 806.9L1941 805.4L1941.1 803.4L1941.2 801.8L1941.2 800.4L1941.3 799.2L1941.4 797.6L1941.4 796.8L1941.5 794.8L1941.6 792L1941.7 790.5L1941.7 788.9L1941.8 785.7L1941.9 784.6L1942 781.2L1942 778.7L1942.1 776.5M1942.2 768h0L1942.2 766.8M1942.3 762.2h0L1942.4 760.9L1942.5 758.7L1942.5 755.8L1942.6 752.8L1942.7 751.1M1942.8 746.1h0M1942.8 741.7h0M1942.9 736h0L1943 733.6L1943 730.7L1943.1 726.5M1943.2 721.7h0M1943.3 716.5h0M1943.3 712.2h0M1943.4 706.1h0L1943.5 704L1943.6 701.6L1943.6 699.1M1943.7 693.5h0L1943.8 690.8L1943.8 688.1L1943.9 685.4L1944 683.2M1944.1 677h0L1944.1 674.5L1944.2 670.5L1944.3 667.4M1944.4 660.9h0M1944.4 650.4h0M1944.5 645.3h0L1944.6 641.9M1944.3 583.5h0M1944.3 555.1h0M1991.8 1634.2h0L1991.8 1632.3M1991.9 1616.1h0M1992 1610.4h0M1992.1 1599.7h0M1992.1 1593.8h0M1992.2 1583.7h0M1992.3 1575.3h0M1992.4 1570.3h0M1992.4 1564.8h0M1992.5 1559.1h0M1992.6 1554.4h0M1992.7 1544h0M1992.7 1539.1h0M1992.8 1534.1h0M1992.9 1519.6h0M1993 1510.5h0M1993 1505.3h0M1993.1 1491.9h0M1993.2 1486.4h0L1993.3 1482.9M1993.3 1472.9h0M1993.4 1463.1h0L1993.5 1459.1L1993.6 1455.2M1993.6 1444.1h0M1993.7 1437.5h0M1993.8 1432h0M1993.9 1427.6h0L1993.9 1425M1994 1419.8h0L1994.1 1416.1M1994.2 1407.3h0M1994.2 1401.8h0L1994.3 1399.6L1994.4 1396.5L1994.5 1394.7L1994.5 1393M1994.6 1388.5h0L1994.7 1385.8L1994.8 1384.1L1994.8 1381.5L1994.9 1379.4M1995 1374h0L1995.1 1370.6L1995.1 1368.3L1995.2 1365.7L1995.3 1364.2L1995.4 1362L1995.4 1360.4L1995.5 1359L1995.6 1355.1L1995.7 1352.2L1995.7 1350.8L1995.8 1349.1L1995.9 1347.2L1996 1345.9L1996.1 1344.9L1996.1 1343.5L1996.2 1340L1996.3 1337.1L1996.4 1334.5L1996.4 1333.4L1996.5 1332.5L1996.6 1329.9L1996.7 1328.8L1996.7 1327.6L1996.8 1324L1996.9 1322.6L1997 1319.9L1997.1 1319L1997.2 1318L1997.3 1316.4L1997.3 1315.6L1997.4 1314.4M1997.5 1309.8h0L1997.6 1308.6L1997.6 1307.7L1997.7 1306.8L1997.8 1305.9L1997.9 1304.2L1997.9 1303.3L1998 1302.2L1998.1 1300.5L1998.2 1298.4L1998.2 1297.5L1998.3 1296.6L1998.4 1292.8L1998.5 1291.6L1998.5 1290L1998.6 1289L1998.7 1288L1998.8 1286.6L1998.9 1284.3L1999.1 1283L1999.1 1281.8L1999.3 1280.1L1999.4 1279L1999.5 1276.5L1999.7 1274.7L1999.7 1273.2L1999.8 1271.8L1999.9 1270.3L2000 1269.1L2000 1267.2L2000.1 1265.5L2000.2 1264.2L2000.3 1263.2L2000.4 1261.9L2000.5 1260.4L2000.6 1258.3L2000.7 1257.4L2000.9 1255.7L2000.9 1254.1L2001 1251.5L2001.2 1249.4L2001.2 1248.2L2001.3 1246.5L2001.4 1245.7L2001.6 1244.2L2001.6 1242.8L2001.8 1240.9L2001.9 1239.6L2001.9 1237.3L2002.1 1236.1L2002.2 1235L2002.3 1234.2L2002.5 1232.8L2002.6 1231.4L2002.7 1230.1L2002.8 1228.9L2002.8 1228.1L2002.9 1225.5L2003.1 1224.3L2003.1 1223.5L2003.2 1222.2L2003.4 1221.2L2003.4 1219.9L2003.5 1218.7L2003.6 1217.4L2003.7 1216.1L2003.8 1215.1L2004 1213.3L2004 1212.4L2004.2 1210.8L2004.3 1209.5L2004.5 1207.8L2004.6 1206.8L2004.6 1205.8L2004.8 1204.5L2004.9 1203.2L2005.1 1202L2005.2 1200.4L2005.4 1199.6L2005.5 1198.5L2005.7 1197L2005.8 1195.7L2006 1193.9L2006.1 1191.8L2006.3 1190.5L2006.4 1189.3L2006.5 1188.3L2006.7 1186.3L2006.7 1185.4L2006.9 1183.8L2007.1 1182.1L2007.1 1179.6L2007.2 1178.8L2007.4 1177.5L2007.5 1176.4L2007.6 1174.8L2007.7 1173L2007.8 1172.1L2007.9 1170.9L2008 1168.4L2008 1167.3L2008.2 1164.8L2008.3 1162.5L2008.5 1160.6L2008.6 1159.5L2008.7 1158.5L2008.8 1157.4L2008.9 1156L2008.9 1153.3L2009 1152.2L2009.2 1150.9L2009.2 1150L2009.3 1148.9L2009.5 1147.2L2009.6 1144L2009.8 1142.9L2009.8 1141.2L2010 1139.5L2010.1 1137.2L2010.2 1135.9L2010.4 1134.7L2010.5 1133.7L2010.6 1131.5L2010.7 1129.6L2010.7 1127.3L2010.8 1126.5L2010.9 1125.2L2011 1124.3L2011.1 1122.4L2011.2 1121.1L2011.3 1118.8L2011.4 1117.5L2011.6 1115.7L2011.6 1113.5L2011.7 1112.3L2011.8 1110.7L2011.9 1109.9L2011.9 1108.7L2012.1 1107.2L2012.2 1104.8L2012.3 1103.8L2012.4 1102.8L2012.5 1100.7L2012.6 1099.2L2012.8 1097.7L2012.9 1095.6L2013 1094.5L2013.1 1093.6L2013.2 1092.3L2013.3 1091.4L2013.4 1090.2L2013.5 1089.4L2013.6 1087.5L2013.7 1086.2L2013.8 1084.7L2013.9 1082.8L2014.1 1080.4L2014.2 1078.8L2014.4 1077.4L2014.4 1076.1L2014.5 1075.2L2014.7 1073.8L2014.7 1072.6L2014.8 1071.8L2014.9 1070.1L2015 1068.5L2015.1 1067.2L2015.2 1066.3L2015.3 1064.7L2015.5 1063.7L2015.6 1062.2L2015.7 1059.3L2015.8 1058.1M2015.9 1053.3h0L2016.1 1051.1L2016.2 1048L2016.3 1046.5L2016.4 1044.3L2016.5 1042.3L2016.5 1040.4L2016.6 1039.3L2016.7 1038L2016.8 1037L2016.8 1035.8L2016.9 1034.9L2017 1032.7L2017.1 1031.5L2017.1 1030L2017.2 1029.1L2017.3 1027.8L2017.4 1026.8L2017.5 1024.6L2017.6 1023.7L2017.7 1021.5L2017.8 1020.6L2018 1018.3L2018.1 1016.9L2018.1 1016L2018.3 1013.4M2018.4 1008.7h0L2018.6 1006.1L2018.7 1005.2L2018.7 1002.7L2018.8 1001.7L2018.9 1000.7L2019 998.6L2019.1 997.1L2019.2 994.1L2019.3 991.9L2019.4 990.3L2019.6 986.8L2019.6 985.3L2019.7 983.6L2019.8 982.5L2019.9 981.2L2019.9 980.1L2020 978.9M2020.2 974.6h0L2020.2 972.3L2020.3 969.6L2020.4 968.3L2020.5 967.3L2020.5 966L2020.6 963.8L2020.7 962.7L2020.8 961.8L2020.8 960.4L2020.9 957.2L2021 956.1L2021.1 954.9L2021.1 953.4L2021.2 950.8L2021.3 949.4L2021.4 947.8L2021.4 946.7L2021.5 944.9L2021.6 941.8L2021.7 940.2L2021.7 938.2L2021.8 936.4L2021.9 934.8L2022 933.8L2022 931.8L2022.1 930.2L2022.2 928.1L2022.3 926.1L2022.3 924.8L2022.4 922.7L2022.5 921.3L2022.6 919.1L2022.6 917.9L2022.7 916.5L2022.8 914.4M2022.9 908.8h0L2022.9 906.9L2023 904L2023.1 902L2023.2 899.6L2023.2 897.7L2023.3 895.3L2023.4 893.5L2023.5 891.5M2023.6 886.9h0L2023.6 885L2023.7 882.8M2023.8 878.4h0L2023.9 876.2L2023.9 872.5L2024 869.5L2024.1 867.1L2024.2 863.5M2024.2 859h0L2024.3 855.7L2024.4 853.4L2024.5 849.9L2024.5 847.1M2024.6 842.2h0M2024.7 836.3h0L2024.8 833.2L2024.8 829.5M2024.9 822.9h0L2025 818.9M2025.1 812h0L2025.1 808.8L2025.2 806L2025.3 802.9M2025.4 798.4h0M2025.4 792.7h0M2025.5 787.1h0M2025.6 782.6h0M2025.7 776.3h0M2025.7 770.6h0L2025.8 767.2M2025.9 758.3h0M2026 753.3h0L2026 750.3M2026.1 739.1h0L2026.2 735.7L2026.3 732M2026.3 727h0M2026.4 721h0M2026.5 712.8h0L2026.6 708.9M2026.6 694h0L2026.7 690.7M2026.8 686.2h0M2074.1 1519h0M2074.5 1513.6h0L2074.9 1509.6M2075.3 1504.2h0M2075.8 1488.7h0M2076.2 1478.8h0M2076.6 1474.3h0M2077 1459.5h0M2077.4 1452h0M2077.8 1447.1h0M2078.2 1440.7h0M2078.6 1429.8h0M2079 1413.4h0M2079.4 1398.4h0M2079.8 1389.3h0M2080.2 1384.1h0M2080.6 1344.6h0M2081 1329.9h0M2081.4 1315.1h0M2081.8 1306.7h0M2082.2 1294.6h0M2082.6 1288.3h0M2083 1272.7h0M2083.4 1268.5h0L2083.8 1264.6M2084.2 1247.6h0M2084.6 1239.2h0M2085 1231.4h0M2085.4 1224h0M2085.8 1218.9h0M2086.2 1212.7h0L2086.6 1208.8M2087.1 1201.2h0M2087.5 1182.4h0L2087.9 1178.8M2088.3 1161.5h0M2088.7 1153h0M2089.1 1146.9h0L2089.5 1144L2089.9 1140.3M2090.3 1129.3h0L2090.7 1125.5M2091.1 1120.9h0M2091.5 1114.5h0L2091.9 1110.9M2092.3 1105.2h0L2092.7 1102M2093.1 1095.8h0M2093.5 1089.1h0M2093.9 1083h0L2094.3 1078.9M2094.7 1074.5h0M2095.1 1069.8h0M2095.5 1060.8h0M2095.9 1053.6h0M2096.3 1047h0M2096.7 1042.1h0M2097.1 1030.7h0L2097.5 1026.9M2097.9 1019.3h0L2098.4 1015.7M2098.8 999.9h0M2099.2 995.7h0L2099.6 992.3L2100 988.3M2100.4 981h0M2100.8 976.5h0L2101.2 973.1M2101.6 962.7h0L2102 958.7L2102.4 955.2M2102.8 949.7h0M2103.2 940.5h0M2103.6 935.2h0M2104 930.9h0L2104.4 926.9M2104.8 916.7h0M2105.2 906.8h0L2105.6 903.5L2106 899.7M2106.4 895.4h0M2106.8 891h0L2107.2 887.8L2107.6 884.9M2108 871.6h0L2108.4 868.6L2108.8 867.5M2115.3 1681h0M2115.3 1639.2h0M2115.1 1392h0M2115.2 1376.7h0M2115.3 1367.6h0M2115.3 1352.1h0M2115.4 1347.1h0M2115.5 1331.6h0M2115.6 1322.3h0M2115.7 1296.8h0M2115.7 1288.8h0M2115.8 1269.3h0M2115.9 1258.7h0M2116 1247.3h0M2116.1 1238h0M2116.2 1231.6h0M2116.2 1226.4h0M2116.3 1217.4h0M2116.4 1211.7h0M2116.5 1203h0L2116.6 1200M2116.7 1189.1h0L2116.7 1186L2116.8 1183.6L2116.9 1181.2L2117 1178.9L2117.1 1175.3L2117.1 1173.2M2117.2 1167.2h0M2117.3 1161.5h0L2117.4 1158.5L2117.5 1156.2L2117.6 1152.6M2117.6 1147.4h0L2117.7 1146L2117.8 1143.9M2117.9 1139.6h0L2118 1138.1L2118.1 1136.6L2118.1 1134.3M2118.2 1127.7h0L2118.3 1124.6L2118.4 1123.3L2118.5 1120.7L2118.5 1116.6L2118.6 1115.1L2118.7 1114.2L2118.8 1113.2L2118.9 1111L2119 1109.1L2119 1108L2119.1 1107.2L2119.2 1105.2L2119.3 1104.2L2119.4 1102.2L2119.5 1100.9L2119.5 1099.8L2119.6 1098.9L2119.7 1098L2119.8 1096.8L2119.9 1095.6L2120 1094.7L2120.1 1092.9L2120.3 1089.8L2120.4 1086.5L2120.5 1082.3L2120.7 1080.5L2120.8 1078.9L2120.9 1076.9L2120.9 1075.2L2121.1 1073.5L2121.3 1072L2121.4 1070.8L2121.5 1069.5L2121.7 1068.2L2121.8 1065.2L2121.9 1064.3L2122 1063.1L2122.2 1061.5L2122.3 1060L2122.4 1058.8L2122.5 1057.7L2122.6 1056.6L2122.7 1054.8L2122.8 1053.6L2123 1052L2123.1 1051L2123.2 1049.7L2123.3 1048.4L2123.4 1047L2123.5 1044.2L2123.7 1043.4L2123.7 1041.6L2123.8 1040.7L2123.9 1039.7L2124 1038.8L2124.2 1037.8L2124.2 1034.8L2124.3 1033.7L2124.5 1032.8L2124.6 1031.5L2124.8 1030.3L2125 1029.1L2125.1 1028.1L2125.3 1027.1L2125.5 1026.1L2125.6 1024.5L2125.6 1023.7L2125.7 1022.2L2125.9 1020.7L2126 1019.5L2126.2 1018.3L2126.4 1017.1L2126.5 1015.5L2126.7 1014.4L2126.9 1012.4L2127 1011L2127.2 1010L2127.5 1008.4L2127.6 1007.4L2127.7 1006.6L2127.8 1005.4L2127.9 1004.2L2128 1003.3L2128.2 1002.3L2128.4 1001.3L2128.4 1000.4L2128.6 999.4L2128.8 998.1L2128.9 997.1L2129.1 996.2L2129.3 994.7L2129.3 993.1L2129.5 991.7L2129.7 990.5L2129.8 989.1L2130 988.2L2130.1 986.2L2130.2 985.3L2130.3 983.9L2130.4 982.2L2130.6 981L2130.7 979.8L2130.8 978.2L2131 976.6L2131.1 975.7L2131.2 973.5L2131.4 972.4L2131.5 969.6L2131.7 968.6L2131.8 967.2L2132 966.2L2132.1 965.1L2132.3 963.8L2132.4 962.7L2132.5 961.9L2132.6 960.4L2132.7 959.4L2132.8 958.3L2133 957.2L2133.1 956.3L2133.3 955.4L2133.4 954.6L2133.5 953.1L2133.7 950.4L2133.8 949.5L2133.9 948.4L2134 947.2L2134.2 945L2134.3 943.6L2134.4 942.4L2134.5 941.2L2134.6 940.3L2134.8 939.1L2135 937.9L2135.1 937L2135.3 936L2135.4 935.1L2135.5 934L2135.7 932.2L2135.9 930.9L2135.9 929.8L2136 928.1L2136.2 926.4L2136.4 925.4L2136.5 923.9L2136.7 922.7L2136.8 921.7L2136.9 920.1L2137 918L2137.2 916.5L2137.3 914.7L2137.3 913.5L2137.5 912.3L2137.7 911.2L2137.8 909.9L2137.9 909L2138 907.8L2138.1 906.7L2138.2 905.8L2138.3 904.2L2138.4 903.2L2138.6 902.3L2138.7 901.4L2138.8 899.6L2139 897.6L2139.2 894.8L2139.2 893.1L2139.3 892.2L2139.4 890.9L2139.6 889.6L2139.6 888.4L2139.8 887.1L2139.9 885.9L2140.1 884.9L2140.1 884L2140.3 882.1L2140.5 880.3L2140.6 878.1L2140.8 875.8L2140.9 873.4L2141 872.4L2141.1 870.3L2141.2 869.3L2141.4 867.3L2141.5 866.4L2141.6 862.9L2141.8 861.6L2141.9 860.8L2142 859.2L2142.1 857.9L2142.3 856.6L2142.4 854.7L2142.5 853.6L2142.7 851.7L2142.8 850.5L2142.9 848.6L2142.9 846.9L2143 844.1L2143.1 842.7L2143.3 840.6L2143.4 839.1L2143.5 837.8L2143.6 836.4L2143.7 834.7L2143.8 833.3L2143.9 830L2144 828.3L2144.2 825.9L2144.3 824.4L2144.3 821.9L2144.4 820.1L2144.5 819.2L2144.6 817.7L2144.7 816.5L2144.8 815L2144.8 812.5L2144.9 810.7L2145 809.6L2145.1 808.3L2145.2 807.3L2145.3 804L2145.3 801.2L2145.4 799.4L2145.5 796.9L2145.6 794.5L2145.7 793.4L2145.7 791.7L2145.8 789.7L2145.9 787.3L2146 785.5L2146.1 783.1L2146.2 779.5L2146.2 777.7L2146.3 775L2146.4 773.9L2146.5 771.6L2146.6 770.5L2146.7 769.1L2146.7 766.4L2146.8 764.6L2146.9 762.5L2147 759.6L2147.1 758.2L2147.1 756.8L2147.2 755.3L2147.3 753.5L2147.4 751.7L2147.5 749.3L2147.6 746.6M2147.6 741h0L2147.7 739.1L2147.8 736.6L2147.9 734.8L2148 732.8M2148.1 725.7h0L2148.1 722.5L2148.2 718.3L2148.3 716L2148.4 713.9M2148.5 709.5h0L2148.5 706.9M2148.6 700.7h0L2148.7 697.5L2148.8 694.5L2148.9 690.5M2149 682.7h0M2149 676.5h0M2149.1 672h0M2149.2 654.6h0M2149.3 648.9h0M2149.4 644.3h0M2149.5 638.9h0M2149.5 633.6h0M2149.6 628.4h0L2149.7 625.2M2149.8 608h0M2149.9 603.2h0M2150 581.8h0M2150 574.8h0M2150.1 568.4h0M2149.9 530h0M2197.6 1580.8h0M2197.4 1468.8h0M2197.6 1458.9h0M2197.8 1452.5h0M2198 1448.2h0L2198.1 1444.2M2198.3 1439.7h0M2198.5 1431.8h0M2198.7 1422h0M2198.9 1410.8h0M2199.1 1400.2h0M2199.3 1388.2h0M2199.5 1371.9h0M2199.7 1361.2h0M2199.9 1353.9h0M2200.1 1346.6h0L2200.3 1343.6M2200.5 1339.1h0L2200.7 1335.9L2200.9 1332.4L2201.1 1328.7L2201.3 1325.8L2201.5 1322.5L2201.7 1319.4M2201.9 1313.4h0L2202.1 1309.4M2202.3 1295.5h0L2202.5 1292.6L2202.7 1290.3L2202.9 1288.1L2203.1 1285.1L2203.2 1283.2M2203.4 1276.3h0L2203.6 1273.9L2203.8 1270L2204 1267.9L2204.2 1265.9L2204.4 1262.3M2204.6 1258.1h0L2204.8 1255.9L2205 1251.7L2205.2 1250M2205.4 1244.6h0M2205.6 1240.2h0L2205.8 1237.1L2206 1235.3L2206.2 1233.9L2206.4 1231.4L2206.6 1229.9L2206.8 1227.9L2207 1226.4L2207.2 1225L2207.4 1222.5L2207.6 1221.1L2207.8 1218.8L2208 1216.5L2208.2 1214.3L2208.3 1212.8L2208.5 1211.1L2208.7 1207.2L2208.9 1205.9L2209.1 1202.9L2209.3 1199.4M2209.5 1192h0M2209.7 1187.6h0L2209.9 1185.2L2210.1 1182.8L2210.3 1178.7L2210.5 1177.2L2210.7 1174.3L2210.9 1171.8L2211.1 1168.3M2211.3 1163.1h0M2211.5 1157.5h0L2211.7 1156.2L2211.9 1154.4L2212.1 1152.4L2212.3 1148.7M2212.5 1144.3h0L2212.7 1142M2212.9 1136.9h0L2213.1 1135.6L2213.3 1134.3L2213.4 1131.5L2213.6 1129.8L2213.8 1128.1L2214 1126.8M2214.2 1121.2h0L2214.4 1119.9L2214.6 1117.7L2214.8 1115.9L2215 1114.6L2215.2 1113L2215.4 1111.4L2215.6 1108.9L2215.8 1105.9L2216 1102.8L2216.2 1101.1L2216.4 1099.5L2216.6 1098L2216.8 1096.5L2217 1095.1L2217.2 1091.6L2217.4 1089.2L2217.6 1086.7L2217.8 1084.1L2218 1081.1M2218.2 1075.6h0M2218.4 1069.8h0L2218.5 1068L2218.7 1066.2L2218.9 1064L2219.1 1061.3L2219.3 1058.3L2219.5 1056.4L2219.7 1052.9L2219.9 1050.5L2220.1 1048.2L2220.3 1044.8M2220.5 1040.3h0M2220.7 1034.3h0L2220.9 1031.7L2221.1 1029.6L2221.3 1026L2221.5 1023.6L2221.7 1020M2221.9 1014.4h0L2222.1 1011.9L2222.3 1010M2222.5 1005.4h0M2222.7 998.3h0L2222.9 995.7L2223.1 994.2M2223.3 989.1h0L2223.5 987.3L2223.6 985.7L2223.8 983.3L2224 981L2224.2 979.3L2224.4 977L2224.6 972.8L2224.8 970.3L2225 966.3L2225.2 964.6M2225.4 959.8h0L2225.6 956.5L2225.8 954.3M2226 949.4h0L2226.2 947.1L2226.4 945.2M2226.6 939.6h0L2226.8 937.4M2227 932.8h0L2227.2 929.6L2227.4 925.7M2227.6 920.2h0M2227.8 909.8h0M2228 904.5h0L2228.2 901.8M2228.4 896.2h0M2228.6 889.8h0L2228.7 886.5L2228.9 883.6L2229.1 881.3L2229.3 878.4L2229.5 876.1M2229.7 867.7h0L2229.9 864.4M2230.1 854.8h0M2230.3 848h0M2230.5 842.8h0M2230.7 836.3h0M2230.9 823.7h0M2231.1 817.5h0M2231.3 810.9h0L2231.5 808.8L2231.7 805L2231.9 801.6M2232.1 791.9h0L2232.3 789M2279.8 1298.5h0M2279.6 1129.7h0M2279.8 1117h0M2280 1108.3h0M2280.2 1099.8h0M2280.5 1092.1h0M2280.7 1078h0M2280.9 1071.6h0M2281.1 1067h0M2281.3 1047.7h0M2281.5 1043.2h0M2281.8 1030h0M2282 1025.3h0M2282.2 1014.6h0M2282.4 1004.3h0M2282.6 995.3h0L2282.8 991.5M2283.1 987.2h0L2283.3 984M2283.5 979.2h0L2283.7 975.2M2283.9 971h0L2284.1 966.9M2284.4 960h0M2284.6 953.4h0M2284.8 949.1h0M2285 943.4h0M2285.2 936.8h0L2285.4 932.9M2285.7 928.7h0M2285.9 921.2h0M2286.1 914.3h0L2286.3 910.5L2286.5 907.1L2286.7 903.3M2287 896.5h0M2287.2 891.9h0L2287.4 888.4L2287.6 886M2287.8 880.1h0L2288 877.2L2288.3 873.6L2288.5 870L2288.7 868.2M2288.9 863.9h0M2289.1 854.4h0M2289.3 848.2h0M2289.6 843.7h0L2289.8 840.4L2290 838.4M2290.2 833.4h0L2290.4 831.4L2290.6 827.2L2290.9 824.9L2291.1 823.2L2291.3 819.8L2291.5 815.9L2291.7 814.5L2291.9 811.3L2292.2 809.2L2292.4 807.9L2292.6 805.6L2292.8 803.4L2293 801.4L2293.2 800.1L2293.5 796.2M2293.7 788.6h0L2293.9 786.2M2294.1 781.2h0L2294.3 779.4L2294.5 776.4L2294.8 773.2L2295 770.6L2295.2 768.9M2295.4 764.7h0L2295.6 763.1L2295.8 758.9L2296.1 755L2296.3 753.5L2296.5 750.9L2296.7 749.2L2296.9 747.7L2297.1 744.8L2297.4 743.7L2297.6 741.6L2297.8 739L2298 736.2L2298.2 735.1L2298.4 732L2298.7 729.9L2298.9 727.4L2299.1 726.2L2299.3 722.1L2299.5 720.3M2299.7 716h0L2300 714.5L2300.2 712.1L2300.4 710.4L2300.6 709L2300.8 706L2301 704.8L2301.3 703.6L2301.5 701.6L2301.7 700.2L2301.9 698.1L2302.1 696.6L2302.3 695.4L2302.6 694.3L2302.8 693.1L2303 691.9L2303.2 690.5L2303.4 688.1L2303.6 686.7L2303.9 685.2L2304.1 683.7L2304.3 679.8L2304.5 678.6L2304.7 677.3L2304.9 676.3L2305.2 673.1L2305.4 672.1M2305.6 663.3h0L2305.8 662.2L2306 660.8M2306.2 656.4h0L2306.5 654.7L2306.7 652.4L2306.9 650.4L2307.1 648.6L2307.3 646.8L2307.6 644.7L2307.8 642.2L2308 639.3L2308.2 637L2308.4 634.3L2308.6 632.4L2308.9 629.9L2309.1 627.2L2309.3 625.8L2309.5 623.7L2309.7 621.1L2309.9 618.5L2310.2 614.9L2310.4 611.2L2310.6 608M2310.8 602.1h0L2311 598.6L2311.2 596.6M2311.5 591.3h0L2311.7 588.1M2311.9 580.9h0L2312.1 577.6L2312.3 573.9M2312.5 567.9h0L2312.8 564.7L2313 561.5M2313.2 555.4h0M2313.4 550.7h0L2313.6 546.8M2313.8 535.3h0M2314.1 526h0L2314.3 522.4M2314.5 511.6h0M2362 1579.1h0M2361.7 1308.5h0M2361.8 1300h0M2361.9 1290.8h0M2362 1282.1h0L2362 1279.1L2362.1 1276.2L2362.2 1272M2362.2 1267.6h0M2362.3 1260.1h0L2362.4 1256.6L2362.5 1253.7M2362.5 1238.1h0M2362.6 1231.4h0M2362.7 1220.4h0M2362.7 1215.8h0L2362.8 1213L2362.9 1209.7L2363 1206.2M2363 1201.9h0M2363.1 1194.1h0L2363.2 1191.3L2363.2 1189.3L2363.3 1185.4L2363.4 1183.5L2363.5 1181L2363.5 1178.3L2363.6 1174.3M2363.7 1165.1h0M2363.7 1159.9h0L2363.8 1157.2L2363.9 1155.3L2364 1151.9L2364 1149.4L2364.1 1148.2L2364.2 1144.8M2364.2 1140.6h0L2364.3 1139.4L2364.4 1138.3L2364.5 1137.3L2364.5 1136.1L2364.6 1134.5L2364.7 1133.1L2364.7 1130.9L2364.8 1129.7L2364.9 1128.7L2365 1126.9L2365 1125.5L2365.1 1124L2365.2 1121.4L2365.2 1118L2365.3 1116.7L2365.4 1113.4L2365.5 1112.4L2365.6 1110L2365.7 1109.2L2365.7 1108.3L2365.8 1107.3L2365.9 1105.8L2366 1103.6L2366.1 1102.2L2366.2 1101.3L2366.3 1097.9L2366.4 1096.5L2366.5 1095.7L2366.6 1094.1L2366.7 1091.5L2366.8 1089.8L2366.9 1088.8L2366.9 1087.6L2367 1086.3L2367.1 1085.5L2367.2 1083.7L2367.3 1081.5L2367.4 1080.5L2367.4 1079.1L2367.5 1078L2367.7 1075.6L2367.8 1074.2L2367.9 1073.1L2367.9 1071.8L2368.1 1070.4L2368.2 1068.4L2368.4 1067.2L2368.4 1066.3L2368.5 1064.7L2368.7 1063.6L2368.7 1062.6L2368.9 1060.8L2368.9 1059.6L2369 1058.7L2369.1 1057.6L2369.2 1056.7L2369.2 1054.7L2369.3 1053.1L2369.4 1052.1L2369.6 1050.4L2369.7 1047.5L2369.8 1045.9L2369.9 1044.9L2370 1042.4L2370.1 1041.4L2370.2 1039.5L2370.4 1037.9L2370.5 1036.9L2370.6 1036L2370.7 1034.9L2370.8 1033.8L2370.9 1032.5L2371 1030.8L2371.2 1029.6L2371.3 1028.8L2371.4 1027.1L2371.5 1025.5L2371.6 1024L2371.7 1022.9L2371.9 1022L2372 1021.1L2372.1 1020.2L2372.2 1018.8L2372.3 1017.9L2372.4 1015.9L2372.5 1014L2372.6 1013L2372.7 1012L2372.9 1010.9L2373 1009.7L2373.2 1008.9L2373.3 1007.8L2373.5 1006.7L2373.7 1004L2373.8 1002.9L2373.9 1001.6L2374.1 1000.6L2374.2 999.3L2374.3 998.3L2374.5 996.8L2374.7 995.9L2374.8 994.1L2374.9 992.6L2375.2 991.4L2375.4 990.3L2375.6 988.6L2375.7 987.6L2375.8 985.9L2375.9 984.9L2376.2 983.6L2376.3 982.5L2376.4 981.1L2376.6 980L2376.7 979L2376.9 977.1L2377 976.1L2377.2 974.9L2377.4 974L2377.5 971.4L2377.7 970.5L2377.7 969.6L2377.9 968.7L2377.9 967.8L2378 966.5L2378.1 965.3L2378.2 963.7L2378.3 962.6L2378.4 961.6L2378.5 960.7L2378.7 959.8L2378.8 958.9L2378.9 957.5L2379.1 956.6L2379.2 954.9L2379.3 953.5L2379.4 951.3L2379.6 949.4L2379.7 948.4L2379.8 946.6L2379.9 945.1L2380 944.2L2380.1 943.1L2380.3 942.1L2380.4 940.7L2380.4 939.3L2380.6 938.2L2380.8 937.2L2380.9 936L2381 935.1L2381.1 933.1L2381.3 931.7L2381.4 930.7L2381.5 929.7L2381.6 928.8L2381.7 927.9L2381.9 926.6L2382.1 925.6L2382.4 924.4L2382.5 923.5L2382.6 922.4L2382.8 920.7L2382.9 919.8L2383 918.8L2383.1 918L2383.2 917.2L2383.4 916.1L2383.6 914.5L2383.8 913.3L2383.9 912.5L2384.1 911.4L2384.3 910.4L2384.4 909.4L2384.5 908.5L2384.6 907.5L2384.7 905.8L2384.9 904.5L2385 903.2L2385.1 902.2L2385.2 901.3L2385.4 899.5L2385.5 898.4L2385.6 897.3L2385.7 895.7L2385.8 894.9L2385.9 892.9L2386.1 892.1L2386.3 891.1L2386.4 890.1L2386.6 889.1L2386.7 887.8L2386.9 886.8L2387.1 885.8L2387.3 884.8L2387.4 883.9L2387.5 882.8L2387.6 881.5L2387.8 880.6L2387.9 879.5L2388.1 878.2L2388.1 876.6L2388.2 875.7L2388.4 874.1L2388.6 872.9L2388.7 871.7L2388.8 870.6L2388.9 869.5L2389.1 868.2L2389.2 866.8L2389.4 866L2389.4 865.2L2389.6 864.1L2389.7 862.8L2389.9 861.8L2390 860.5L2390.1 858.9L2390.2 857.8L2390.3 856.8L2390.4 855.8L2390.5 854.8L2390.6 852.8L2390.7 851.8L2390.9 850.8L2391 848.9L2391.1 847.4L2391.3 846L2391.4 843.9L2391.5 843L2391.6 841.8L2391.8 839.5L2391.9 838.1L2392 836.2L2392.1 834.8L2392.3 833.1L2392.4 829.3L2392.4 828.4L2392.5 826.8L2392.6 825.2L2392.7 823.9L2392.8 822.9L2392.9 821.8L2392.9 820.2L2393 818.5L2393.1 815.8L2393.2 814L2393.3 811.5L2393.4 810.5L2393.4 809.7L2393.5 808.6L2393.6 806.9L2393.6 805.7L2393.7 804.4L2393.8 803.3L2393.9 801.5L2393.9 800.6L2394 799.1L2394.1 796.8L2394.1 795.2L2394.2 792.9L2394.3 790.9M2394.4 784.7h0L2394.4 782.4L2394.5 779.4L2394.6 777L2394.6 775L2394.7 772.7L2394.8 770.7L2394.9 768.3L2394.9 765.7L2395 763.5L2395.1 760.8L2395.1 757.7L2395.2 755.1L2395.3 752.5M2395.3 748.1h0L2395.4 745.7M2395.5 741h0M2395.6 731.9h0M2395.6 726.5h0L2395.7 724.3L2395.8 721.3L2395.8 717.9L2395.9 713.7M2396 709h0L2396.1 705.1L2396.1 702L2396.2 699.5L2396.3 697.5L2396.3 693.4M2396.4 687.7h0L2396.5 685.4L2396.6 682L2396.6 680.1L2396.7 677.8L2396.8 673.7M2444.1 1428.8h0M2444.5 1407.1h0M2444.9 1391.3h0M2445.3 1383.6h0M2445.6 1370.7h0M2446 1359.4h0M2446.4 1337.2h0M2446.8 1326.1h0M2447.2 1312.4h0M2447.5 1304.3h0M2447.9 1279h0M2448.3 1267.8h0M2448.7 1262.3h0M2449.1 1257.2h0M2449.5 1250.9h0M2449.8 1246.6h0M2450.2 1239.5h0M2450.6 1229h0M2451 1222.1h0M2451.4 1215.6h0M2451.7 1206.8h0M2452.1 1199.1h0M2452.5 1191.6h0M2452.9 1186.5h0M2453.3 1174.7h0M2453.7 1169.3h0L2454 1165.8L2454.4 1162.2M2454.8 1155.5h0L2455.2 1152.5L2455.6 1149.7L2455.9 1147.1M2456.3 1137.6h0M2456.7 1131.8h0M2457.1 1126.4h0M2457.5 1120h0L2457.9 1116.7M2458.2 1112.2h0L2458.6 1109.7L2459 1106.1M2459.4 1100.2h0M2459.8 1087.2h0L2460.1 1083.9L2460.5 1081.1M2460.9 1074h0L2461.3 1070L2461.7 1065.9L2462 1063.3L2462.4 1060.9M2462.8 1055.7h0M2463.2 1047.7h0M2463.6 1039.8h0M2464 1031.4h0L2464.3 1027.9L2464.7 1024.6L2465.1 1021.1M2465.5 1015.9h0M2465.9 1008.1h0L2466.2 1005.3M2466.6 995.8h0M2467 991.3h0M2467.4 986.4h0M2467.8 979.2h0M2468.2 971.6h0M2468.5 966.9h0M2468.9 954.5h0L2469.3 951.5L2469.7 947.9M2470.1 930.6h0M2470.4 919.7h0M2470.8 912.3h0L2471.2 909M2471.6 903.6h0M2472 896.5h0M2472.4 890.6h0M2472.7 881.9h0M2473.1 860.5h0L2473.5 857.2L2473.9 853.7M2474.3 848.7h0M2474.6 841.1h0M2475 836.3h0L2475.4 832.3M2475.8 827.4h0M2476.2 819.5h0L2476.6 816.5L2476.9 814.2L2477.3 811.7L2477.7 807.8L2478.1 805.2L2478.5 801.8L2478.8 800.6M2526.2 1681h0L2526.7 1680.1L2526.9 1679.2L2527.1 1678.3L2527.3 1677.2L2527.6 1676.4L2527.7 1675.4L2528.1 1674L2528.2 1672.9L2528.4 1671.9L2528.7 1668.1L2528.8 1667.1L2528.9 1665.9L2529.1 1664.7L2529.3 1663.1L2529.4 1661.9L2529.6 1660.5L2529.7 1659.2L2529.8 1658.3L2529.9 1655.1L2530.1 1654.2L2530.2 1651.4L2530.3 1649.3L2530.4 1647.9L2530.6 1644.8L2530.7 1643M2530.8 1637.9h0L2530.9 1634.1L2531.1 1632.8L2531.2 1630.2L2531.3 1629L2531.4 1627.2L2531.6 1625.4L2531.7 1623.8L2531.8 1622.2L2531.9 1620.8L2532.1 1619.5L2532.2 1617.9L2532.3 1616.9L2532.4 1615L2532.6 1613.4L2532.7 1611L2532.8 1609.8L2532.9 1608.2L2533.1 1604.6L2533.2 1603.4L2533.3 1599.9L2533.4 1598.6L2533.5 1596.6L2533.7 1594.8L2533.8 1593.8L2533.9 1592.8L2534 1591.5L2534.2 1589.9L2534.3 1587.7L2534.4 1586.5L2534.5 1584.6L2534.7 1581.4L2534.8 1580.3L2534.9 1579L2535 1578L2535.2 1576.2L2535.3 1574L2535.4 1572.5L2535.5 1570.8L2535.7 1569.5M2535.8 1564.9h0L2535.9 1563.5L2536 1561L2536.2 1559.5L2536.3 1557.3L2536.4 1554.5M2536.5 1548.8h0L2536.7 1547.1L2536.8 1546L2536.9 1544.9L2537 1543.7L2537.2 1542.7L2537.3 1541.5M2537.4 1536.3h0L2537.5 1535.3L2537.7 1534.2L2537.8 1532.1L2537.9 1529.6L2538 1527.9L2538.2 1524.1L2538.3 1522L2538.4 1520.8L2538.5 1518.9L2538.7 1517.4L2538.8 1516.1L2538.9 1514.7L2539 1513.4L2539.2 1510.2L2539.3 1508.8M2539.4 1503.8h0L2539.5 1502.6L2539.6 1499.2L2539.8 1498.3L2539.9 1497L2540 1495.8L2540.1 1494.7L2540.3 1493.5L2540.4 1491.1L2540.5 1489.7L2540.6 1488.1L2540.8 1485.2L2540.9 1482.3L2541 1478.7L2541.1 1477.8L2541.3 1476.1L2541.4 1473.6L2541.5 1470.2L2541.6 1468.8L2541.8 1467.4L2541.9 1466.4L2542 1463.2L2542.1 1462L2542.3 1459.4L2542.4 1458.3L2542.5 1457L2542.6 1455.9L2542.8 1453.1L2542.9 1450.2L2543 1448.6L2543.1 1447.5L2543.3 1446.5L2543.4 1443.4L2543.5 1441.6L2543.6 1440.8L2543.9 1439.2L2544.1 1437.5L2544.3 1436L2544.4 1433.5L2544.5 1432.4L2544.6 1431.6L2544.8 1428.9L2544.9 1426.5L2545 1425.6L2545.1 1424.8L2545.3 1423.3L2545.4 1420.8L2545.6 1419.2L2545.7 1418.2L2545.9 1417.2L2546 1416L2546.1 1414.9L2546.2 1413.6L2546.4 1412.6L2546.5 1411.4L2546.7 1409.5L2547 1407.3L2547.1 1406.3L2547.2 1404.2L2547.4 1402.4L2547.5 1400.5L2547.6 1399.4L2547.7 1397.7L2547.9 1396.8L2548 1395.5L2548.1 1394.1L2548.2 1392.9L2548.4 1391.9L2548.5 1389.4L2548.6 1388.4L2548.7 1387.2L2548.9 1386.1L2549 1385L2549.1 1382.7L2549.2 1381.4L2549.4 1380L2549.6 1376.9L2549.7 1375.9L2549.9 1373.6L2550 1372L2550.1 1370L2550.2 1368.7L2550.4 1367.7L2550.5 1366.8L2550.6 1365.7L2550.7 1364.5L2550.9 1362.6M2551 1357.8h0L2551.1 1354.7L2551.2 1353.7L2551.4 1352.8L2551.5 1350.2L2551.6 1348.2L2551.7 1346L2551.9 1344.9L2552 1343.8L2552.1 1341.9L2552.2 1340.3M2552.3 1335.3h0L2552.5 1333L2552.6 1331.5L2552.7 1330.2L2552.8 1327.1L2553 1324.3L2553.1 1322.9L2553.2 1321.7L2553.3 1319.8L2553.5 1317.2M2553.6 1309.3h0L2553.7 1306.7M2553.8 1302.4h0L2554 1298.8L2554.1 1296L2554.2 1294.8L2554.3 1292.9L2554.5 1290.7L2554.6 1289.2L2554.7 1286.1L2554.8 1283.2L2555 1279.4L2555.1 1276.1M2555.2 1267.3h0M2555.3 1262.9h0L2555.5 1261.2L2555.6 1259.1L2555.7 1255.4L2555.8 1253.6L2556 1251.6M2556.1 1246.2h0L2556.2 1244.6M2556.3 1239.6h0L2556.5 1237.1L2556.6 1233.7L2556.7 1231.5L2556.8 1228.7M2557 1222.6h0M2557.1 1215.8h0M2557.2 1210.8h0M2557.3 1205.5h0L2557.5 1201.4M2557.6 1195h0L2557.7 1191.6M2557.8 1185.1h0L2558 1182.1M2558.1 1176.8h0M2558.2 1166.8h0M2558.3 1158.9h0M2558.4 1152.9h0M2558.6 1145.8h0M2558.7 1137.9h0M2558.8 1127.9h0M2558.9 1123.5h0M2559.1 1119.1h0M2559.2 1103.3h0M2559.3 1092.3h0M2559.4 1087.5h0M2559.6 1075.6h0M2559.7 1061h0M2559.8 1050.9h0M2559.9 1034.2h0M2560.1 1020.7h0M2560.2 1013.8h0M2560.3 1007.7h0M2560.4 979.4h0M2560.6 968.1h0M2560.7 956.8h0M2560.8 940.6h0M2560.9 933.9h0M2561.1 913h0M2561.2 895.9h0M2560.9 812.3h0M2560.9 638.6h0M2608.7 1574.1h0M2608.7 1482.2h0M2608.7 1463.8h0M2608.7 1447.1h0M2608.7 1390.3h0M2608.7 1380.3h0M2608.7 1368.6h0M2608.4 1285.1h0M2608.5 1273.2h0L2608.5 1269.9M2608.6 1258.1h0L2608.7 1254.5M2608.8 1242.5h0L2608.8 1239M2608.9 1233.2h0L2609 1229.5M2609.1 1224.3h0L2609.1 1221.2L2609.2 1218.2M2609.3 1209.8h0M2609.3 1205.1h0M2609.4 1200.9h0M2609.5 1190.8h0M2609.6 1185.3h0L2609.6 1182.6L2609.7 1179.7M2609.8 1174.3h0M2609.9 1167.9h0M2609.9 1156.4h0M2610 1151.4h0M2610.1 1144.2h0L2610.1 1141.4M2610.2 1136.8h0L2610.3 1133.8M2610.4 1129.5h0L2610.4 1127.1M2610.5 1121.5h0L2610.6 1117.7M2610.7 1112.3h0M2610.7 1107.8h0L2610.8 1106L2610.9 1104.1L2611 1101.7M2611 1097.3h0L2611.1 1095.2L2611.2 1092L2611.2 1089M2611.3 1077.8h0L2611.4 1075.8L2611.5 1073.9L2611.5 1072.2M2611.6 1067.7h0L2611.7 1066.3L2611.8 1064.9L2611.8 1062.5L2611.9 1061.2L2612 1059.6L2612 1057.6L2612.1 1055.9L2612.2 1054.5M2612.3 1049.8h0L2612.3 1047.3L2612.4 1043.5L2612.5 1041.8L2612.6 1040.3L2612.6 1038.5L2612.7 1036.2L2612.8 1035L2612.8 1032.3L2612.9 1028.4L2613 1026.3L2613.1 1024.8L2613.1 1023.3L2613.2 1021.8L2613.3 1019.8L2613.4 1016.2L2613.4 1014.5L2613.5 1013L2613.6 1011.9L2613.7 1009.7L2613.7 1008.7L2613.8 1006.6L2613.9 1005.7L2613.9 1003.8L2614 1001.9L2614.1 1000.4L2614.2 999.5L2614.2 996.4L2614.3 993.8L2614.4 992.8L2614.5 990.8L2614.5 989.7L2614.6 988.7L2614.7 986.5L2614.7 985.6L2614.8 984.2L2614.9 983.2L2615 981.1L2615 979.1L2615.1 978.2L2615.2 977.4M2615.3 972h0L2615.3 970.4L2615.4 968.5L2615.5 967.5L2615.5 965.1L2615.6 963.4L2615.7 962.1L2615.8 961.3L2615.9 959.7L2616 958.1L2616.1 955.4L2616.1 954.3L2616.2 952.9L2616.3 950.9L2616.4 946.8L2616.5 945L2616.6 944.1L2616.6 942.9L2616.7 940.6L2616.8 938.2L2616.9 936.2L2617.1 933.9L2617.2 933L2617.2 932.2L2617.3 931.2L2617.4 929L2617.5 927.1L2617.7 925.1L2617.7 923.8L2617.8 922.8L2618 920.8L2618.1 918.1L2618.2 917.2L2618.3 915.8L2618.5 914.3L2618.6 912.4L2618.8 911.1L2618.8 910.2L2618.9 909.1L2619 905.8L2619.1 904.7M2619.2 900.4h0L2619.3 899.2L2619.3 897L2619.4 896.1L2619.5 893.6L2619.6 892.5L2619.6 890.1L2619.7 888.3L2619.8 887.4L2619.9 884.3L2620.1 883.2L2620.1 881.9L2620.2 880.6L2620.4 878.9L2620.4 877.2L2620.6 875.8L2620.7 874.6L2620.8 872.4L2620.9 871.6L2621 870.2L2621 868.9L2621.2 867.7L2621.2 865.7L2621.4 863.5L2621.5 862.6L2621.6 861.5L2621.7 860.2L2621.8 859L2621.9 857.6L2622 856L2622.1 854.9L2622.3 852.9L2622.3 850.2L2622.4 848.9L2622.5 847.6L2622.6 845.9L2622.7 843.9L2622.8 841.6L2622.9 840.8L2623 839.2L2623.1 837.7L2623.1 836.7L2623.3 834.7L2623.4 833.7L2623.6 832.4L2623.7 830.9L2623.8 827.6L2623.9 826.2L2624.1 825.1L2624.2 823.2L2624.3 822.2L2624.5 819.8L2624.6 818.4L2624.7 816.6L2624.8 815.7L2624.9 814.6L2625 813.5L2625.1 811.6L2625.2 810.6L2625.3 809.7L2625.3 807.5L2625.5 805.2L2625.6 803L2625.8 801.8L2625.8 800.5L2625.9 798.2L2626.1 797.1L2626.2 794.3L2626.4 793.2L2626.4 791.5L2626.5 789.4L2626.6 788.2L2626.6 786.4L2626.7 785.5L2626.9 784.3L2627 782.8L2627.2 781.6L2627.3 780.2L2627.4 779.2L2627.4 777.7L2627.5 775L2627.7 773L2627.8 771.6L2627.9 770.5L2628 769.6L2628.1 767.5L2628.2 765.8L2628.2 763.4L2628.4 762L2628.5 760.3L2628.7 758.8L2628.8 757L2628.9 755.1L2629 753.2L2629.1 752.3L2629.1 751.1L2629.2 749L2629.3 747.3L2629.4 745.8L2629.6 744.3L2629.6 741.9L2629.7 741.1L2629.9 738.9L2629.9 738L2630 736.2L2630.1 734.3L2630.2 733.1L2630.3 732.1L2630.4 731.3L2630.5 730.1L2630.7 728.6L2630.7 727.2L2630.8 726.2L2631 725.1L2631 724.1L2631.2 722.3L2631.2 720.5L2631.3 719.4L2631.4 717.4L2631.5 716.4L2631.5 715.3L2631.6 714.4L2631.7 712.7L2631.8 711.3L2632 709.9L2632.1 708.8L2632.2 707.8L2632.3 706.3L2632.4 705.1L2632.6 703.8L2632.6 701.7L2632.8 700.3L2632.8 698.1L2633 696.7L2633.1 695.8L2633.1 693.9L2633.3 690.8L2633.4 689.5L2633.6 687.6L2633.7 685.9L2633.8 685.1L2633.9 684L2633.9 682.6L2634.1 679.1L2634.2 675.9L2634.3 674.6L2634.4 673.3L2634.5 672.2L2634.6 670.5L2634.7 669.2L2634.8 667.2L2635 665.9L2635 664.2L2635.2 662.6L2635.3 661.2L2635.5 657.9L2635.5 656.9L2635.7 655.4L2635.8 653.5L2635.9 651.5L2636.1 649.9L2636.1 649.1L2636.2 648.2L2636.3 647.2L2636.4 646.1L2636.5 644.5L2636.6 643.5L2636.6 642.1L2636.7 641.3L2636.8 639.1L2636.9 637.9L2637 636.7L2637.1 633.6L2637.2 632.7L2637.3 630.7L2637.4 629.8L2637.4 628.8L2637.5 627.9L2637.6 627L2637.7 625.5L2637.9 623.8L2638 621.6L2638.1 619.8L2638.2 617.3L2638.3 616.4L2638.4 615L2638.5 614L2638.5 612.5L2638.6 610.7M2638.7 605.5h0L2638.8 604.3L2638.8 603.4L2638.9 602.6L2639 599.2L2639.1 598.1L2639.1 595.5L2639.2 594.4L2639.3 593.3L2639.3 592.2L2639.4 591.2L2639.5 588.6L2639.6 586.1L2639.6 583.5L2639.7 580.7L2639.8 577.7L2639.9 576.6L2639.9 575.5M2640 570.8h0L2640.1 568.7L2640.1 566.8L2640.2 564.8L2640.3 562.8L2640.4 560.6L2640.4 557.6L2640.5 555.3L2640.6 554.3L2640.7 552.6L2640.7 551.6L2640.8 550.3L2640.9 549L2641 546L2641 545L2641.1 543M2641.2 536.7h0L2641.2 534.2L2641.3 533.2M2641.4 527.7h0L2641.5 524.5L2641.5 523.4L2641.6 520.7L2641.7 517.7L2641.8 515.2L2641.8 513L2641.9 511.6L2642 508.6L2642 506.5L2642.1 504.2L2642.2 501.5L2642.3 500.2L2642.3 497.9L2642.4 496.3L2642.5 493.7L2642.6 491.8L2642.6 490L2642.7 488.3L2642.8 484.5L2642.8 482.5L2642.9 480.7L2643 478.7L2643.1 476.5L2643.1 474.2M2643.2 468.7h0L2643.3 467.7M2643.4 459.2h0L2643.4 458.2M2643.2 416.4h0M2643.2 399.7h0M2643.2 332.9h0M2690.9 1602.5h0M2690.9 1519h0M2690.6 1485.6h0M2690.7 1419.2h0M2690.8 1412.4h0M2690.9 1402.9h0M2691 1386.9h0M2691.1 1378.3h0M2691.1 1372.3h0M2691.2 1366.5h0M2691.3 1360.2h0M2691.4 1353.2h0M2691.5 1340.2h0M2691.6 1333.8h0M2691.7 1311.3h0M2691.7 1300.5h0M2691.8 1282h0M2691.9 1275.2h0M2692 1268.5h0M2692.1 1258.9h0L2692.2 1256.4M2692.3 1248.6h0L2692.3 1246.6M2692.4 1239.4h0M2692.5 1232.2h0L2692.6 1230.4L2692.7 1227.5L2692.8 1225.1L2692.9 1222.3L2692.9 1219.3L2693 1216.1M2693.1 1211h0L2693.2 1208.7L2693.3 1207.3L2693.4 1205.8L2693.5 1204L2693.5 1202.6L2693.6 1199.7L2693.7 1198.6L2693.8 1197.1L2693.9 1195.4L2694 1191.5L2694.1 1189.7L2694.1 1188.8L2694.2 1187.9L2694.3 1186.9L2694.4 1185.2L2694.5 1184.2L2694.6 1183.2L2694.7 1181.8L2694.8 1179.8L2694.8 1176.8L2694.9 1175.9L2695 1174L2695.1 1171.1L2695.2 1168.6L2695.4 1166.1L2695.4 1163.4M2695.5 1157.7h0L2695.6 1155.9L2695.8 1154.9L2695.9 1151.9L2696 1150.2L2696.1 1147.5L2696.2 1146.1L2696.4 1145L2696.5 1144.1L2696.6 1142.8L2696.8 1141.6L2696.9 1140.6L2697 1137.7L2697.1 1136.7L2697.2 1135.5L2697.3 1134.5L2697.4 1133.5L2697.5 1132.7L2697.7 1131.3L2697.8 1130.2L2697.9 1129.3L2698.1 1128.1L2698.3 1127.4L2698.4 1126.5L2698.5 1125.5L2698.7 1124.4L2698.8 1122.9L2698.9 1121.1L2699.1 1120.2L2699.2 1118.8L2699.4 1117.8L2699.6 1116.5L2699.7 1115.4L2699.8 1114.5L2700 1113.7L2700.2 1112.7L2700.3 1110.1L2700.5 1108.9L2700.7 1107.8L2700.9 1106.1L2701 1105.1L2701.2 1103.7L2701.4 1102.8L2701.5 1101L2701.7 1100.1L2701.8 1098.8L2702 1097.2L2702.2 1094.4L2702.4 1092.9L2702.7 1091.3L2702.9 1089.7L2703.1 1088.5L2703.3 1087.4L2703.4 1086.1L2703.5 1085.3L2703.6 1084.2L2703.8 1083L2704 1081.9L2704.1 1079.8L2704.3 1078.4L2704.5 1076.7L2704.6 1075.6L2704.8 1074.3L2704.9 1073.2L2705 1072.2L2705.1 1071.1L2705.3 1069.8L2705.4 1068.4L2705.6 1067L2705.7 1065.4L2705.9 1063.2L2706 1062.2L2706.2 1060.9L2706.4 1056.8L2706.5 1055.8L2706.6 1053.7L2706.8 1050.8L2706.9 1049.7L2707.1 1048.7L2707.1 1046.8L2707.3 1045.4L2707.4 1044.4L2707.6 1042.7L2707.7 1041.9L2707.7 1040.8L2707.9 1039.6L2708.1 1038.5L2708.2 1037.3L2708.3 1036L2708.4 1035L2708.6 1034L2708.7 1033.1L2708.8 1032.2L2708.9 1030.5L2709 1029.4L2709 1027.4L2709.2 1026.4L2709.3 1025.5L2709.4 1024.6L2709.5 1022.6L2709.6 1020.8L2709.6 1018.3L2709.7 1017.5L2709.8 1016L2710 1014.6L2710.1 1013L2710.2 1011.9L2710.3 1010.7L2710.4 1008.4L2710.5 1007.3L2710.6 1005.8L2710.7 1003.6L2710.8 1002.7L2710.9 1001.2L2711.1 999.8L2711.2 998.7L2711.4 997.4L2711.5 996L2711.6 994.5L2711.8 992.9L2711.9 991.8L2712 990.7L2712 989.3L2712.1 988.2L2712.2 986.7L2712.3 985.9L2712.5 983.9L2712.6 982.6L2712.7 981.7L2712.7 980.3L2712.8 976.5L2712.9 975.1L2713.1 973.3L2713.3 971.9L2713.3 971L2713.4 970L2713.5 969.1L2713.7 967.4L2713.9 965.5L2714 964L2714.1 961.3L2714.2 959.2L2714.3 958.2L2714.5 956.5L2714.5 954.1L2714.6 953.2L2714.7 952.2L2714.8 951.1L2714.9 949.7L2715 948.8L2715.1 947.3L2715.2 945.1L2715.3 944.1L2715.4 943.3L2715.5 940.3L2715.6 939.5L2715.7 937.9L2715.8 934.8L2715.9 933.6L2716 932.7L2716.1 931.5L2716.2 929.6L2716.3 928.6L2716.4 924.9L2716.5 922.7L2716.6 921.4L2716.7 919.9L2716.8 917.1L2716.9 915.8L2717 914.7L2717.1 912.6L2717.2 911.1L2717.3 908.9L2717.4 907.7L2717.5 905.5L2717.6 903.4L2717.6 901.3L2717.7 900.1L2717.9 898.5L2718 897.1L2718.1 895.6L2718.2 894.6L2718.2 892.7L2718.3 890.4L2718.4 888L2718.5 887L2718.6 885.7L2718.7 884.8L2718.8 883.9L2718.8 879.7L2718.9 878L2719 875.8L2719.1 874.6L2719.2 873.4L2719.3 872.4L2719.4 871.2L2719.4 869.7L2719.5 868.4L2719.6 867.1L2719.7 865M2719.8 860.5h0L2719.9 859.5L2720 857.4L2720.1 856L2720.1 854.5L2720.2 853.4L2720.3 852.5L2720.4 851.1L2720.5 849L2720.6 847.2L2720.7 846L2720.7 842L2720.8 840.7L2720.9 838.9L2721 836.5L2721.1 834.6L2721.2 832.8L2721.3 831.4M2721.3 825.1h0L2721.4 823.9L2721.5 822.6L2721.6 819.4L2721.7 817.5M2721.8 812.1h0L2721.9 809.7L2721.9 806.7L2722 802.7L2722.1 798.8L2722.2 796.4M2722.3 791.6h0L2722.4 789.6L2722.5 787L2722.5 785L2722.6 782.2L2722.7 779.7L2722.8 778.1M2722.9 773.1h0M2723 765.7h0L2723.1 763.5L2723.1 759.9M2723.2 754.3h0L2723.3 752.6M2723.4 748.2h0L2723.5 745L2723.6 742.2L2723.7 739.6L2723.8 736.8L2723.8 734.1L2723.9 732.1M2724 727.5h0L2724.1 725.3L2724.2 722.1M2724.3 715.2h0M2724.4 710.4h0L2724.4 707.9M2724.5 702.3h0L2724.6 700M2724.7 692.7h0L2724.8 690.3L2724.9 686.6L2725 684.7L2725 682.5L2725.1 679.4L2725.2 675.8M2725.3 671h0L2725.4 667.9L2725.5 665.4L2725.6 663.1M2725.6 650.3h0M2725.4 618.6h0M2725.4 550.1h0M2725.4 520h0M2725.4 484.9h0M2772.9 1570.7h0M2773.2 1548.5h0M2773.4 1536.2h0M2773.7 1526h0M2774 1516.7h0M2774.2 1511.1h0M2774.5 1497.2h0M2774.7 1490.9h0M2775 1484.4h0M2775.2 1479h0M2775.5 1458.9h0M2775.7 1433.6h0M2776 1425.5h0M2776.3 1414.4h0M2776.5 1409.2h0M2776.8 1402.8h0M2777 1389h0M2777.3 1383.2h0M2777.5 1377.4h0M2777.8 1371.6h0L2778.1 1368.3M2778.3 1361.1h0M2778.6 1356.6h0M2778.8 1351.6h0L2779.1 1348.4M2779.3 1343.2h0M2779.6 1337.6h0M2779.8 1333.4h0M2780.1 1327.4h0M2780.4 1320.7h0L2780.6 1317.6L2780.9 1315.4L2781.1 1312M2781.4 1305.4h0M2781.6 1299h0L2781.9 1296.3L2782.2 1294M2782.4 1289.6h0L2782.7 1287.1L2782.9 1284.6L2783.2 1282.3L2783.4 1280L2783.7 1277.4M2783.9 1271h0L2784.2 1268.1L2784.5 1265.9L2784.7 1262.6M2785 1255.8h0L2785.2 1253.3L2785.5 1249.9L2785.7 1245.9L2786 1242.5M2786.3 1236h0L2786.5 1232L2786.8 1229.8L2787 1227.5L2787.3 1224.8M2787.5 1214.1h0L2787.8 1211.4L2788 1207.3L2788.3 1204.1L2788.6 1201.2M2788.8 1196.6h0L2789.1 1194.3L2789.3 1191.1L2789.6 1188.7L2789.8 1185L2790.1 1181.3L2790.4 1178.2M2790.6 1174h0M2790.9 1168.6h0L2791.1 1165.6L2791.4 1162.4M2791.6 1157.8h0L2791.9 1155.5M2792.1 1146.8h0M2792.4 1142.3h0L2792.7 1139.3L2792.9 1136.8M2793.2 1131.7h0L2793.4 1129.5L2793.7 1127.2M2793.9 1122.8h0L2794.2 1120.8L2794.5 1118.7M2794.7 1112.4h0M2795 1101.7h0L2795.2 1098.4M2795.5 1092.4h0M2795.7 1086.2h0M2796 1076.3h0M2796.2 1071.1h0L2796.5 1067.7L2796.8 1064.1L2797 1061.3M2797.3 1051.3h0M2797.5 1044.6h0L2797.8 1041.8M2798 1033.3h0M2798.3 1024.7h0M2798.6 1020h0L2798.8 1017M2799.1 1007.4h0L2799.3 1004M2799.6 999.8h0M2799.8 994.1h0L2800.1 991.2M2800.3 983.2h0M2800.6 972.6h0M2800.9 967.5h0M2801.1 962.2h0M2801.4 943.2h0L2801.6 939.2M2801.9 933.8h0M2802.1 928.7h0M2802.4 923.7h0M2802.7 902.4h0M2802.9 897h0M2803.2 889.1h0M2803.4 883.8h0M2803.7 867.9h0M2803.9 863.4h0M2804.2 857.9h0M2804.4 852.3h0M2804.7 847h0M2805 839.9h0M2805.2 832.8h0M2805.5 823.1h0M2805.7 815.4h0M2806 803h0M2806.2 761.6h0M2806.5 744.9h0M2806.8 729.4h0M2807 723h0M2807.3 716.6h0M2807.5 710.4h0M2807.8 705.4h0M2855.3 1438.8h0M2855 1373.6h0L2855.1 1370.5L2855.2 1366.5M2855.3 1360.2h0L2855.3 1356.2M2855.4 1348.8h0M2855.5 1343.5h0L2855.5 1340.7M2855.6 1335.1h0M2855.7 1327.8h0L2855.7 1324L2855.8 1319.8M2855.9 1313.4h0M2855.9 1308.3h0L2856 1305.7L2856.1 1303.2M2856.1 1299h0L2856.2 1295.3L2856.3 1293M2856.4 1288.4h0L2856.4 1286.4L2856.5 1283.6L2856.6 1281.8L2856.6 1278.5L2856.7 1276.6L2856.8 1273.7L2856.8 1272.1L2856.9 1269.9L2857 1266.3M2857 1261.3h0M2857.1 1257h0L2857.2 1254.5M2857.2 1246.5h0L2857.3 1243.6L2857.4 1241L2857.4 1239.1L2857.5 1236.9L2857.6 1235.5L2857.7 1234.5L2857.7 1233.5L2857.8 1231.2L2857.9 1228.9L2857.9 1226.5L2858 1225.7L2858.1 1224.2M2858.1 1219.7h0L2858.2 1218.4L2858.3 1216.7L2858.3 1214.3L2858.4 1212.1L2858.5 1209.8L2858.5 1208.5L2858.6 1206.8L2858.7 1205.9L2858.8 1204.2L2858.8 1203.2L2858.9 1202.4L2859 1200.7L2859 1199.5L2859.1 1198.6L2859.2 1195.2L2859.3 1194.3L2859.4 1193.3L2859.5 1192.3L2859.6 1191.1L2859.7 1190L2859.9 1188.8L2860 1187.1L2860.1 1184.4L2860.2 1183.2L2860.3 1182.1L2860.5 1181.1L2860.6 1179.1L2860.7 1178L2860.9 1176L2861 1174.6L2861.1 1173.3L2861.2 1171.3L2861.3 1170.2L2861.4 1168.6L2861.6 1167.3L2861.7 1165.8L2861.8 1163.6L2862 1161.8L2862.1 1160.9L2862.3 1159.1L2862.3 1158.2L2862.5 1157.2L2862.7 1156.1L2862.9 1154.9L2863 1152.5L2863.2 1149.8L2863.3 1148.6L2863.4 1147.5L2863.6 1146.3L2863.8 1145.2L2863.9 1144.2L2864 1143.2L2864 1142.3L2864.1 1141.3L2864.2 1140.3L2864.4 1139.2L2864.6 1138.2L2864.7 1136.7L2864.9 1135.1L2865.1 1134L2865.3 1133.1L2865.3 1132L2865.5 1131.1L2865.5 1130.2L2865.6 1129.1L2865.7 1128.3L2865.8 1126.2L2866 1124.8L2866.1 1123.9L2866.2 1123L2866.4 1122.1L2866.6 1121L2866.7 1120.1L2866.8 1119L2867 1117.9L2867.1 1117L2867.3 1115.9L2867.4 1115L2867.5 1113.7L2867.6 1112.4L2867.7 1111.6L2867.9 1110.7L2868.1 1109.7L2868.3 1108.6L2868.4 1107.8L2868.6 1106.6L2868.7 1105.6L2868.8 1104.8L2868.9 1103.5L2869 1102.4L2869.2 1101.3L2869.4 1100.1L2869.5 1099.3L2869.7 1098.4L2869.8 1097.1L2869.9 1096.2L2870.1 1094.5L2870.3 1093.4L2870.5 1092.2L2870.7 1091L2870.9 1089.4L2871 1088.3L2871.1 1087.1L2871.2 1086.2L2871.4 1085.1L2871.6 1083.5L2871.7 1082.3L2871.9 1081.3L2872.1 1079.8L2872.3 1078.9L2872.5 1077.7L2872.6 1076.9L2872.7 1076L2872.9 1074.9L2873 1073.9L2873.2 1072.6L2873.4 1071.3L2873.4 1070.2L2873.6 1069.2L2873.8 1068.1L2874 1066.5L2874.1 1065.3L2874.3 1064.3L2874.4 1063L2874.5 1061.8L2874.7 1060.6L2874.9 1059.6L2875.1 1058.5L2875.2 1057.2L2875.3 1056.3L2875.6 1055.3L2875.7 1053.8L2875.9 1052.6L2876 1051.3L2876.2 1049.5L2876.3 1048.6L2876.4 1046.3L2876.6 1045.5L2876.7 1044.3L2876.9 1042.2L2877.1 1040.9L2877.2 1039.7L2877.4 1038.2L2877.5 1037.3L2877.7 1035.2L2877.9 1034L2878.1 1032.8L2878.2 1031.9L2878.2 1031.1L2878.4 1030.2L2878.5 1029.4L2878.6 1028.4L2878.7 1027.1L2878.9 1026L2879.1 1025L2879.3 1024L2879.4 1023.1L2879.5 1021.9L2879.6 1020.1L2879.7 1018.7L2879.9 1017.6L2880 1015.9L2880.2 1015L2880.4 1013.5L2880.4 1012.7L2880.6 1011.8L2880.7 1011L2880.8 1009.9L2881 1008.7L2881 1007.9L2881.2 1006.7L2881.5 1005.3L2881.6 1004.4L2881.7 1003.4L2881.9 1000.6L2882 999.6L2882.2 997.8L2882.3 996.7L2882.3 995.6L2882.4 994.7L2882.5 992.4L2882.7 991.2L2882.8 990.1L2882.9 989.2L2883 988.2L2883.1 987.3L2883.2 986.5L2883.4 985.2L2883.4 984.2L2883.6 982L2883.7 980.4L2883.8 979.1L2883.9 978.1L2884.1 977.1L2884.2 975.7L2884.3 974.7L2884.5 972.8L2884.5 971L2884.7 969.8L2884.8 968.7L2884.9 967.3L2885 965.7L2885.1 964.7L2885.2 963.5M2885.3 958.9h0L2885.4 957.4L2885.6 956.1L2885.7 954.4L2885.8 953.2L2885.9 952.1L2886 950.2L2886 948.2L2886.2 946.8L2886.3 945.1L2886.3 943.5L2886.5 941.2L2886.5 939.9L2886.7 938.5L2886.7 937.7L2886.8 936.8L2886.9 935.2L2887.1 932.2L2887.1 928.2L2887.2 926L2887.3 924.5L2887.3 922.5L2887.4 921.5L2887.5 919.7L2887.6 916.8L2887.6 915.7L2887.7 913.4L2887.8 912.5L2887.8 911.1L2887.9 909.7L2888 908.7L2888 907.3L2888.1 904.8L2888.2 902.6L2888.2 900.3L2888.3 898.3M2888.4 893.7h0L2888.4 890.9L2888.5 889.6L2888.6 887.3L2888.7 886L2888.7 883.3L2888.8 880.9L2888.9 878.4L2888.9 874.3M2889 870h0L2889.1 867.7L2889.1 865.6L2889.2 862.5L2889.3 860.9L2889.3 858.1L2889.4 856.2L2889.5 852.9L2889.5 850.6M2889.6 843.3h0L2889.7 841.8M2889.7 836.9h0L2889.8 833.6L2889.9 830.4L2890 828.5L2890 826.9M2890.1 822.4h0M2937.4 1604.2h0M2937.7 1587.2h0M2938 1568.6h0M2938.3 1555.6h0M2938.6 1547.3h0M2938.9 1539.7h0M2939.2 1525.4h0M2939.5 1504.4h0M2939.8 1494.2h0M2940.1 1473.3h0M2940.4 1466.4h0M2940.7 1451.1h0M2941 1445.7h0M2941.3 1441.3h0M2941.5 1435.2h0L2941.8 1431.7M2942.1 1424.4h0M2942.4 1419.2h0L2942.7 1415.3M2943 1407.3h0L2943.3 1403.6M2943.6 1398.1h0M2943.9 1390.2h0M2944.2 1384.8h0L2944.5 1380.6L2944.8 1376.9M2945.1 1367.6h0L2945.4 1365M2945.7 1356.8h0M2946 1348.4h0L2946.3 1345.6M2946.6 1334.1h0M2946.9 1324.6h0M2947.2 1316.8h0M2947.5 1312.6h0L2947.8 1308.7L2948.1 1304.7L2948.4 1302.4L2948.7 1299.9M2949 1293.7h0L2949.3 1291.4L2949.6 1287.8L2949.9 1285.6M2950.2 1280.8h0L2950.5 1277.5L2950.8 1274.2L2951.1 1271.8M2951.4 1265.7h0L2951.7 1263.6L2952 1259.7L2952.3 1256.8M2952.6 1251.5h0L2952.9 1249.5L2953.2 1247.5L2953.5 1244.6L2953.7 1242.1L2954 1238.8L2954.3 1236.7M2954.6 1229.9h0L2954.9 1227.4L2955.2 1225.1L2955.5 1221.2M2955.8 1212.9h0M2956.1 1202.9h0L2956.4 1199.3L2956.7 1196.6M2957 1189.8h0M2957.3 1185.2h0M2957.6 1180.4h0L2957.9 1177.9M2958.2 1169.8h0L2958.5 1167.2L2958.8 1163.3L2959.1 1160.7L2959.4 1158M2959.7 1148.2h0L2960 1145.5M2960.3 1139.2h0L2960.6 1136.4M2960.9 1131.5h0M2961.2 1121.3h0M2961.5 1116.2h0M2961.8 1111.7h0M2962.1 1106.6h0M2962.4 1097.7h0L2962.7 1094.7L2963 1091.4M2963.3 1081.3h0M2963.6 1075.6h0M2963.9 1062.5h0L2964.2 1059.3M2964.5 1048.8h0M2964.8 1042.5h0M2965.1 1036.4h0M2965.4 1026.4h0L2965.6 1022.2M2965.9 1010.7h0M2966.2 1006.2h0M2966.5 1001.4h0M2966.8 994.2h0L2967.1 990.8L2967.4 987.1M2967.7 979.5h0M2968 968.6h0M2968.3 947.8h0M2968.6 939.5h0L2968.9 935.4M2969.2 929.4h0M2969.5 924.1h0M2969.8 911.8h0M2970.1 905.4h0L2970.4 902.7M2970.7 898.1h0M2971 893.2h0L2971.3 890.6L2971.6 888.1M2971.9 883.9h0M2972.2 879.2h0M3019.8 1472.2h0M3019.6 1251.7h0L3019.8 1250.4M3020 1245.1h0L3020.2 1241.1M3020.4 1236.5h0L3020.6 1232.3M3020.8 1225.2h0L3021 1221M3021.2 1216.1h0M3021.4 1209.6h0M3021.6 1199.3h0M3021.8 1191.1h0M3022 1184.4h0M3022.2 1180h0M3022.4 1173.4h0L3022.6 1170.7M3022.8 1162.2h0L3023 1158.6L3023.2 1155.4M3023.4 1149.9h0M3023.6 1145.6h0M3023.8 1137.2h0M3024 1131.2h0M3024.2 1125.1h0M3024.4 1115.9h0L3024.6 1113.2M3024.8 1107.6h0L3025 1104.3M3025.2 1097.7h0L3025.4 1095.6L3025.6 1093.3L3025.8 1090.9L3026 1087.3L3026.2 1084.7M3026.4 1078.2h0L3026.6 1075.3L3026.8 1071.1M3027 1063.5h0L3027.2 1061.6L3027.4 1059.8L3027.6 1057.3L3027.8 1055.4M3028 1047.8h0L3028.2 1045.6L3028.4 1043.8L3028.6 1040.7L3028.8 1037.1M3029 1028.6h0L3029.2 1026.8L3029.4 1025L3029.6 1020.9L3029.8 1018.6L3030 1014.9L3030.2 1011.9L3030.5 1008.9L3030.7 1007.3L3030.9 1004.7M3031.1 998.7h0L3031.3 996.2L3031.5 994.2L3031.7 991.4L3031.9 988.4L3032.1 986.2M3032.3 981h0L3032.5 978.3L3032.7 976.4L3032.9 973.8L3033.1 969.7M3033.3 963h0L3033.5 960.9M3033.7 956.2h0M3033.9 950.7h0L3034.1 948.1L3034.3 944.3L3034.5 942.2L3034.7 940.6L3034.9 938.5L3035.1 936.5L3035.3 934.8L3035.5 933.5L3035.7 931.9L3035.9 929.3M3036.1 924.6h0M3036.3 919.9h0L3036.5 917.7L3036.7 915.9L3036.9 914.1L3037.1 912.1L3037.3 910.5M3037.5 905.3h0L3037.7 901.5L3037.9 899.2L3038.1 896.2L3038.3 892.2M3038.5 887.8h0L3038.7 883.9L3038.9 881.2L3039.1 878L3039.3 876.4L3039.5 875L3039.7 873.7L3039.9 872.6L3040.1 870.5L3040.3 868.2M3040.5 862.7h0L3040.7 861.5L3040.9 860.2L3041.1 858.8M3041.3 852.5h0L3041.5 849.7L3041.7 846.8L3042 845L3042.2 841.5L3042.4 838.5L3042.6 837.2L3042.8 833.4L3043 831.4M3043.2 826.8h0L3043.4 825.3L3043.6 821.4L3043.8 817.9L3044 816.4L3044.2 814.8L3044.4 812.9L3044.6 811.5L3044.8 809.3L3045 807.7L3045.2 805.9L3045.4 804.5L3045.6 802.6L3045.8 799.6L3046 795.5L3046.2 791.5M3046.4 785.8h0L3046.6 783.2L3046.8 780.8L3047 778.2L3047.2 776.3L3047.4 773L3047.6 770.1L3047.8 766.8L3048 764.5M3048.2 755.6h0L3048.4 753.6M3048.6 748.9h0M3048.8 744.7h0L3049 741M3049.2 735.2h0L3049.4 732.4L3049.6 729.5L3049.8 727.4L3050 724.9L3050.2 722.2M3050.4 716.2h0L3050.6 712.8L3050.8 709.4M3051 703.9h0L3051.2 700.4M3051.4 694.7h0M3051.6 688.4h0M3051.8 680.8h0M3052 676.4h0L3052.2 672.8M3052.4 667.1h0M3052.6 662.8h0M3052.8 655.6h0M3053 641.9h0L3053.3 638.2M3053.5 631.8h0M3053.7 618.7h0M3053.9 612.8h0M3054.1 603.9h0M3054.3 597.5h0M3054.5 588.5h0M3054.3 525h0M3102 1674.3h0M3102 1555.7h0M3102 1184.9h0L3102.6 1183.8L3103.2 1180.7L3103.8 1178.4L3104.4 1177.3L3105.1 1175.9M3105.7 1169.8h0L3106.3 1168.5L3106.9 1165.5M3107.5 1152.2h0M3108.1 1138.8h0M3108.8 1133.9h0L3109.4 1130.7L3110 1127.4M3110.6 1119.6h0L3111.2 1117.3M3111.8 1109.5h0M3112.5 1104.2h0M3113.1 1085.9h0M3113.7 1081.7h0M3114.3 1067.8h0M3114.9 1059.2h0L3115.5 1056.6L3116.1 1054.8L3116.8 1052L3117.4 1048.8L3118 1046.2L3118.6 1043.6M3119.2 1033.4h0L3119.8 1031.2L3120.5 1028.6M3121.1 1021.5h0M3121.7 993.7h0M3122.3 987.2h0M3122.9 975.5h0M3123.5 963.8h0L3124.2 961.4M3124.8 948.9h0M3125.4 941.3h0M3126 932.8h0L3126.6 929.6M3127.2 918.6h0M3127.8 896.6h0M3128.5 891.4h0L3129.1 887.9M3129.7 865.2h0M3130.3 859.4h0M3130.9 853.5h0M3131.5 840.3h0M3132.2 806h0M3132.8 772.3h0M3133.4 756.5h0M3134 747.4h0M3134.6 685.6h0M3135.2 657.7h0M3135.9 636.6h0M3136.5 593.5h0M3184.1 1037.9h0M3184.6 1033.1h0M3185 1027.4h0L3185.4 1024.7M3185.9 1013.4h0M3186.3 1006.4h0M3186.8 1002.1h0M3187.2 995.9h0M3187.7 990.3h0M3188.1 982.3h0M3188.6 963.9h0M3189 952.4h0M3189.4 899.4h0M3189.9 872.5h0M3190.3 853h0M3190.8 842.7h0M3191.2 835.4h0M3191.7 808.6h0M3192.1 781.6h0M3192.6 773.2h0M3193 757.9h0M3193.4 750.2h0M3193.9 731.1h0M3194.3 719.3h0M3194.8 712h0M3195.2 705.8h0M3195.7 699h0M3196.1 688h0M3196.6 683.6h0M3197 674.5h0M3197.4 659.7h0M3197.9 653.5h0M3198.3 644.8h0M3198.8 638.9h0M3199.2 631.4h0M3199.7 625.7h0M3200.1 620.5h0M3200.6 613.2h0L3201 610.1M3201.4 605.5h0L3201.9 602.2M3202.3 598h0L3202.8 594.6L3203.2 591.7L3203.7 588.6L3204.1 584.5M3204.6 577.8h0L3205 575.9L3205.4 573.8L3205.9 570.2M3206.3 564.2h0L3206.8 562L3207.2 559.1L3207.7 557L3208.1 554.8L3208.6 552L3209 548.9L3209.4 546.6L3209.9 544.9L3210.3 543.1M3210.8 538h0L3211.2 534.6L3211.7 532.8M3212.1 528.6h0M3212.6 524h0L3213 520.8L3213.4 518.2L3213.9 515.2M3214.3 510.2h0M3214.8 497.9h0L3215.2 494.7M3215.7 490.3h0L3216.1 487.3L3216.6 483.8M3217 479.3h0M3217.4 475h0M3217.9 469.3h0M3218.3 464.7h0M3218.8 454.9h0M3218.7 431.5h0M3218.7 421.4h0M3218.7 349.6h0"/>
<path stroke="#119A48" d="M635.4 1681h0M635.4 1572.4h0M635.4 1552.4h0M635.4 1547.4h0M635.4 1475.5h0M635.2 1403.7h0M635.5 1388.9h0M635.8 1378h0M636.1 1371.6h0M636.3 1362.5h0M636.6 1352.6h0M636.9 1347.2h0M637.2 1335.7h0M637.4 1329.9h0M637.7 1319.3h0M638 1311.9h0M638.3 1300.4h0M638.5 1292.8h0M638.8 1272.2h0L639.1 1270M639.4 1265.5h0M639.6 1260.4h0L639.9 1256.9L640.2 1254.4L640.5 1250.4L640.7 1246.9L641 1245.7L641.3 1244.2L641.6 1242.7L641.8 1241.2L642.1 1240.2L642.4 1238.5L642.7 1237.1L642.9 1235.1L643.2 1232.8L643.5 1230.6L643.7 1229L644 1228.1L644.3 1227.3L644.6 1224.8L644.8 1220.9L645.1 1220L645.4 1218.4L645.7 1216.9L645.9 1215.8L646.2 1214.8L646.8 1212.8L647 1211.6L647.3 1210.3L647.6 1209.4L647.9 1206.9L648.1 1205.3L648.7 1204.1L649 1202.9L649.2 1201.6L649.8 1200.2L650.1 1198.2L650.3 1195.6L650.6 1194.8L650.9 1193L651.2 1188.9L651.4 1188L651.7 1186.9L652.3 1185.3L652.5 1184.3L653.1 1181.3L653.3 1179.6L653.6 1178.4L653.9 1176.1L654.2 1175.1L654.7 1173.4L655 1172.6L655.3 1171.2L655.5 1169.4L656.1 1167.5L656.4 1165.8L656.6 1164.3L656.9 1161.7L657.2 1160.9L657.5 1160.1L657.7 1158.7L658 1157.2L658.3 1154.6L658.6 1153.8L658.8 1152.9L659.1 1150.1L659.4 1149.1L659.7 1147.6M659.9 1142.5h0L660.2 1140.5L660.5 1139.1L660.8 1136.4L661 1134.3L661.3 1133.1L661.6 1130.5L661.9 1129.4M662.1 1123.9h0L662.4 1121.4L662.7 1119.6L663 1117.6L663.2 1116.3L663.5 1114.4L663.8 1113.2M664 1106.9h0M664.3 1098h0L664.6 1095.5L664.9 1093.5L665.1 1091.7L665.4 1088.3M665.7 1082.6h0M666 1078.1h0L666.2 1074L666.5 1070.1L666.8 1066.7L667.1 1064.1M667.3 1058.3h0M667.6 1053h0M667.9 1047.4h0M668.2 1041.9h0M668.4 1033.7h0M668.7 1028.9h0L669 1024.9M669.3 1016.4h0M669.5 1009.6h0M669.8 1003.6h0M670.1 986.1h0M669.9 941h0M718 1609.2h0M719.3 1584.1h0M720.6 1574.1h0M721.9 1564.1h0M723.2 1534.8h0M724.5 1482.2h0M725.8 1472.2h0M727.1 1463.8h0M728.4 1453.8h0M729.7 1402h0M731 1393.7h0M732.3 1383.7h0M733.6 1373.6h0M734.9 1355.3h0M736.2 1340.2h0M737.5 1321.8h0M738.8 1310.1h0M740.1 1298.5h0M741.4 1263.4h0M742.7 1248.3h0M744 1214.9h0M745.3 1186.5h0M746.6 1136.4h0M747.9 1093h0M749.2 1084.6h0M750.5 1067.9h0M751.8 1042.9h0M799.6 1661h0M799.7 1643.7h0M799.8 1634.1h0M800 1615.5h0M800.1 1601.7h0M800.2 1562.6h0M800.3 1549.3h0M800.5 1538.5h0M800.6 1520.9h0M800.7 1507.6h0M800.8 1497.4h0M800.9 1468.9h0M801.1 1463.2h0M801.2 1455.6h0M801.3 1448.1h0M801.4 1435.5h0M801.5 1425.2h0M801.7 1420.7h0L801.8 1418.2L801.9 1414.7L802 1411.3L802.1 1408.4L802.3 1404.8M802.4 1399h0M802.5 1394.7h0L802.6 1392.1L802.7 1389.2L802.9 1387.9M803 1381.6h0L803.1 1379.7M803.2 1373h0L803.3 1371.2L803.5 1370.1L803.6 1366.8L803.7 1363.6L803.8 1362.6L804 1361.7L804.1 1359.8L804.2 1356.5L804.3 1355.7M804.4 1350.3h0L804.7 1347.9L804.8 1346.9L804.9 1346L805.2 1343L805.3 1341.7L805.4 1339.4L805.5 1338.3L805.8 1337.2L806 1335L806.2 1333.8L806.4 1332.7L806.6 1331.4L806.8 1330.1L807 1328.9L807.1 1327.8L807.2 1326.6L807.4 1325L807.7 1323.1L807.9 1322L808.1 1321.1L808.3 1319.4L808.5 1318.5L808.8 1317.4L809 1316.3L809.1 1315.3L809.4 1314.1L809.6 1312.7L809.9 1310.3L810.1 1308.9L810.3 1308L810.6 1306.2L810.8 1305.4L810.9 1304.5L811.2 1303.2L811.4 1301.8L811.7 1300.7L811.8 1299.5L812 1298.1L812.2 1296.8L812.3 1296L812.5 1295L812.8 1293.3L812.9 1291.5L813 1290.6L813.2 1289.1L813.5 1287.4L813.6 1286.4L813.8 1284.9L814 1283.7L814.1 1282.5L814.3 1280.7L814.6 1279.5L814.7 1278.6L814.8 1277.5L815.1 1276.6L815.2 1275.6L815.4 1274.4L815.7 1272.1L815.9 1270L816.1 1268.6L816.3 1267.3L816.5 1266.2L816.7 1264.9L817 1263.5L817.2 1261.8L817.3 1259.2L817.5 1258.4L817.6 1257.1L817.8 1256L817.9 1254.8L818.2 1253L818.4 1249.3L818.7 1248.1L818.9 1245.3L819.2 1243.6L819.3 1241.9L819.4 1240.4L819.6 1238.7L819.8 1237.8L819.9 1236.7L820.1 1235.3L820.2 1234.3L820.4 1233.2L820.5 1230.4L820.6 1228.1L820.7 1227.1L821 1225.1L821.2 1222.5L821.3 1221.7L821.4 1220.8L821.6 1218.9L821.7 1217.9L821.8 1215.7L821.9 1212.9L822.2 1210.8L822.4 1209.7L822.5 1208.8L822.7 1206.8L822.8 1205L822.9 1204.1L823 1202.3L823.1 1199.5L823.3 1198.6L823.4 1197.5L823.6 1195.4L823.7 1194.5L823.9 1193.4L824 1192L824.1 1191L824.2 1190.1L824.5 1187.5L824.6 1186.1L824.7 1185.2L824.8 1183.8L824.9 1181.8L825.1 1180.6L825.2 1179.3L825.4 1177.7L825.5 1176.6L825.7 1175.4L825.8 1172.5L825.9 1171.4L826 1170.3L826.2 1168.5L826.3 1167.4L826.4 1166.2L826.5 1163.8L826.6 1161.8L826.8 1160.9L826.9 1159.8L827 1158.9L827.1 1157.7L827.2 1156.2L827.4 1155.4L827.5 1154.5L827.6 1152.8L827.7 1151.6L827.8 1150.1L828 1149.3L828.1 1147.6L828.2 1146.4L828.3 1145.2L828.4 1143.7L828.6 1141L828.7 1138.7L828.8 1137.4M828.9 1131.2h0L829 1129.4L829.2 1127.2L829.3 1123.7L829.4 1122.4L829.5 1120.6L829.6 1117.9L829.8 1116.7L829.9 1114.8L830 1112.1L830.1 1109.3L830.3 1106.9L830.4 1105.2L830.5 1103.8L830.6 1102.4L830.7 1099.8L830.9 1098.1L831 1094.8L831.1 1093.1L831.2 1091.2M831.3 1086.7h0L831.5 1083.8L831.6 1079.6L831.7 1077.8L831.8 1075.5L831.9 1072M832.1 1066.8h0M832.2 1061.3h0L832.3 1058.2M832.4 1049.5h0M832.5 1042.3h0L832.7 1039.2L832.8 1035.2L832.9 1031.8L833 1029M833.1 1019.5h0M833.3 1007.4h0M833.4 1002.8h0M833.5 996.3h0M833.6 991.6h0M833.8 982.3h0L833.9 979M834 972.6h0L834.1 969.1M834.2 963.6h0M834.4 957.3h0M834.5 942.9h0M834.6 929.3h0L834.4 925.9M834.4 904.2h0M834.4 899.2h0M834.4 880.8h0M834.4 802.3h0M883.1 1582.4h0M885.8 1547.4h0M888.5 1540.7h0M891.2 1519h0M893.9 1500.6h0M896.6 1490.6h0M899.3 1480.5h0M902 1438.8h0M904.7 1390.3h0M907.4 1346.9h0M910.1 1331.9h0M912.8 1062.9h0M915.5 1004.4h0M965.9 1497.2h0M969.8 1490.6h0M973.7 1467.2h0M977.6 1433.8h0M981.5 1345.2h0M985.4 1293.4h0M989.3 1263.4h0M993.2 1173.2h0M997.1 1118h0M1046.5 1681h0M1046.5 1635.9h0M1046.5 1624.2h0M1046.5 1580.8h0M1046.5 1569.1h0M1046.3 1539h0L1046.4 1538L1046.6 1536L1046.7 1533.3L1046.9 1531.6L1047 1530.7L1047.1 1529.4L1047.2 1527.5L1047.3 1525.6L1047.4 1523.7L1047.5 1522.8L1047.6 1521.7L1047.7 1520.5L1047.9 1517.6L1048 1516.8L1048.2 1515.5L1048.4 1513.3L1048.6 1511.5L1048.8 1510L1048.9 1508.7L1049 1506.7L1049.1 1505.6L1049.2 1504.7L1049.3 1503.4L1049.5 1501.3L1049.6 1500.4L1049.7 1499.5L1049.8 1497.6L1050 1495.5L1050.1 1494.6L1050.2 1493.3L1050.3 1491.8L1050.5 1490.3L1050.6 1489.4L1050.7 1488.3L1050.9 1486.8L1051 1485.1L1051.2 1484.1L1051.3 1482L1051.4 1481.1L1051.5 1480.3L1051.6 1477.9L1051.7 1475.9L1051.8 1475L1051.9 1473.8L1052.1 1472.6L1052.2 1470.7L1052.4 1466.6L1052.5 1465.8L1052.6 1464.5L1052.8 1463.2L1052.9 1462.2L1053.1 1460.7L1053.3 1459.3L1053.4 1458.4L1053.6 1456.9L1053.8 1456.2L1054 1454.7L1054.2 1453.2L1054.4 1451.8L1054.6 1450.5L1054.8 1448.7L1055 1447.9L1055.2 1446.4L1055.3 1445.2L1055.5 1443.7L1055.7 1442.8L1055.9 1441.9L1056.1 1440.8L1056.3 1438L1056.5 1436.9L1056.7 1435.4L1056.9 1433.9L1057.1 1432.6L1057.2 1431.7L1057.4 1430.7L1057.6 1429.2L1057.8 1428.1L1058 1426.8L1058.2 1425.7L1058.3 1424.8L1058.4 1422.8L1058.5 1422L1058.6 1421.2L1058.8 1420.2L1059 1418.7L1059.2 1417.6L1059.4 1415.6L1059.7 1414.6L1059.9 1413.6L1060.1 1412.4L1060.3 1411.6L1060.5 1410.5L1060.8 1408.9L1060.9 1408.1L1061.1 1406.5L1061.4 1405L1061.6 1403.9L1061.8 1403.1L1062 1402L1062.3 1400.9L1062.5 1400.1L1062.6 1399.2L1062.8 1398.3L1062.9 1397.5L1063.2 1396.2L1063.4 1394.7L1063.6 1393.9L1063.8 1392.5L1063.9 1391.3L1064.1 1390.4L1064.3 1388.8L1064.4 1387.9L1064.6 1386.1L1064.8 1385.1L1065.1 1384L1065.2 1383.1L1065.3 1382.2L1065.5 1380.9L1065.7 1379.1L1065.9 1378L1066.1 1377.1L1066.3 1376.1L1066.5 1375.1L1066.7 1374.2L1066.8 1373.2L1066.9 1371.6L1067.1 1370.6L1067.3 1369.5L1067.5 1368.5L1067.6 1367.3L1067.8 1366L1067.9 1365.2L1068.2 1363.7L1068.4 1362.6L1068.5 1361.3L1068.7 1360.5L1068.9 1359.4L1069.1 1358.2L1069.3 1356.4L1069.5 1355.5L1069.6 1353.9L1069.8 1352.7L1070 1351.4L1070.2 1350.5L1070.4 1349.4L1070.5 1348.4L1070.7 1347.1L1070.9 1346.1L1071.1 1345L1071.3 1343L1071.5 1341.5L1071.7 1339.3L1071.9 1337.9L1072.1 1337.1L1072.3 1335.9L1072.5 1334.1L1072.6 1332.8L1072.7 1331.1L1072.8 1329.5L1073 1326L1073.1 1324.7L1073.2 1323.3L1073.4 1322.1L1073.5 1320L1073.6 1319.1L1073.8 1316.9L1074 1313.3L1074.1 1312.2L1074.3 1310.1L1074.5 1308.3L1074.7 1306.9L1074.9 1304.9L1075 1303.4L1075.2 1301.7L1075.4 1299L1075.6 1297.3L1075.7 1295.8L1075.8 1294.6L1076 1292.8M1076.1 1288.1h0L1076.2 1286.9L1076.3 1285.9L1076.5 1283.9L1076.6 1281.9L1076.7 1280L1076.8 1277.5L1076.9 1276.7L1077 1274.9L1077.1 1273.8L1077.2 1272.2L1077.3 1270.9M1077.4 1266.6h0L1077.5 1265.3L1077.6 1263L1077.7 1261.3M1077.8 1257h0L1077.9 1255.7L1078 1254.6L1078.1 1252.8L1078.2 1249.9L1078.3 1247.1M1078.4 1241.3h0L1078.5 1238.1L1078.6 1236.2L1078.7 1232.9L1078.8 1230.8L1078.9 1229.3L1079 1226.6M1079.1 1219.1h0L1079.3 1217.4L1079.4 1214.9L1079.5 1211.8L1079.6 1207.7L1079.7 1205.2L1079.8 1202.1M1079.9 1194.9h0M1080 1189.9h0L1080.1 1186.7L1080.2 1184.7L1080.3 1182M1080.4 1176.6h0L1080.5 1172.6M1080.6 1166.7h0L1080.7 1164.1L1080.8 1161.1M1080.9 1156.9h0L1081 1153M1081.1 1141.7h0L1081.2 1137.6L1081.3 1134.7M1128.5 1681h0L1129.3 1681L1130.1 1681L1131 1680.9L1131.5 1680.2L1131.8 1679.5L1132.1 1678.5L1132.2 1677.7L1132.5 1676.9L1132.8 1674.7L1133.2 1673.9L1133.6 1672.8L1133.8 1671.9L1134.1 1671.1L1134.4 1670.1L1134.6 1668.7L1134.9 1667.7L1135.2 1666.5L1135.5 1665.5L1135.7 1664.6L1136 1663.8L1136.2 1662.8L1136.5 1661.6L1136.8 1660.8L1137.1 1659.4L1137.4 1657.8L1137.6 1657L1137.9 1656.1L1138.2 1655.2L1138.4 1654.1L1138.6 1653L1138.8 1652.1L1139 1651.3L1139.3 1650.4L1139.5 1649.1L1139.7 1648.3L1139.9 1647.5L1140.1 1646.4L1140.4 1645.4L1140.6 1644.4L1140.8 1643.3L1141.1 1642.1L1141.3 1641L1141.5 1640.1L1141.8 1639.3L1142.1 1638.4L1142.3 1637.4L1142.6 1636.3L1143 1634.9L1143.2 1633.9L1143.5 1633.1L1143.8 1632.4L1144.1 1631.4L1144.4 1630.4L1144.7 1629.5L1145 1628.4L1145.2 1627.1L1145.5 1626.1L1145.8 1625L1146 1624.2L1146.3 1623.2L1146.6 1622.2L1146.9 1620.6L1147.1 1619.8L1147.3 1618.9L1147.4 1617.8L1147.5 1616.6L1147.9 1615.4L1148.1 1614.5L1148.3 1613.6L1148.5 1612.6L1148.7 1610.9L1148.9 1610L1149.1 1609L1149.4 1608.1L1149.5 1607.3L1149.7 1606.5L1150 1604.8L1150.2 1603.5L1150.6 1602.6L1150.8 1601.4L1151 1600.5L1151.2 1599.4L1151.4 1598.4L1151.6 1597.6L1151.7 1596.3L1151.8 1595.5L1152.1 1594.4L1152.3 1593.5L1152.4 1592.5L1152.5 1591.5L1152.7 1589.8L1153 1587.9L1153.1 1587L1153.4 1585.5L1153.6 1584.5L1153.8 1583.5L1154 1582.4L1154.2 1580.7L1154.3 1579.8L1154.4 1578.6L1154.6 1577.3L1154.8 1576.3L1154.9 1575.3L1155 1574.3L1155.2 1573.1L1155.5 1571.9L1155.7 1569.7L1155.8 1568.7L1155.9 1566.5L1156 1565.6L1156.2 1564.2L1156.3 1563.2L1156.5 1561.8L1156.7 1559.7L1156.8 1558.8L1156.9 1556.9L1157.1 1555.6L1157.3 1553.7L1157.5 1552.3L1157.6 1551.2L1157.7 1549.4L1158 1546.4L1158.2 1544.6M1158.4 1539.6h0L1158.5 1538.4L1158.6 1535.5L1158.7 1533.2L1158.8 1532L1158.9 1530.9L1159 1529.7L1159.1 1528.7L1159.2 1527L1159.3 1525.8L1159.4 1524.7L1159.5 1523L1159.6 1522L1159.7 1519.1L1159.8 1517.8L1159.9 1514.2L1160 1513.2L1160.1 1510.6L1160.2 1508.1L1160.4 1506.2L1160.5 1504.4L1160.6 1502.7L1160.7 1501.3L1160.8 1499.1L1160.9 1496.6L1161 1494.8L1161.1 1492L1161.2 1488.4L1161.3 1485M1161.4 1476.8h0M1161.5 1471.8h0M1161.6 1461.5h0L1161.7 1458.5L1161.8 1455.5M1161.9 1450h0M1162 1442h0L1162.1 1438.9M1162.2 1428.5h0M1162.3 1422.8h0M1162.4 1413.9h0M1162.5 1408.2h0M1162.6 1398.9h0M1162.7 1394.6h0L1162.9 1390.7M1163 1382.6h0L1163.1 1379.2M1163.2 1362.7h0M1163.3 1353.8h0M1163.4 1346h0M1163.5 1335.2h0M1163.2 1278.4h0M1163.2 1226.6h0M1163.2 1108h0M1210.7 1460.5h0M1210.8 1410.4h0M1210.9 1397.4h0M1211.1 1347.5h0M1211.2 1334.3h0M1211.3 1316h0M1211.4 1276.4h0M1211.6 1252.1h0M1211.7 1196.5h0M1211.8 1182.5h0M1211.9 1166.4h0M1212.1 1155.3h0M1212.2 1146.5h0M1212.3 1130h0M1212.4 1115.5h0M1212.5 1108.8h0M1212.7 1100.6h0L1212.8 1097.3L1212.9 1094.8L1213 1091.7L1213.2 1089.2M1213.3 1084.4h0L1213.4 1081.4L1213.5 1079L1213.6 1075.4M1213.8 1070h0M1213.9 1065.7h0L1214 1061.7L1214.1 1058.1L1214.3 1055.7L1214.4 1054.2M1214.5 1049.8h0L1214.6 1048.5L1214.8 1047.1L1214.9 1045.4L1215 1043.2L1215.1 1041.2L1215.2 1038.6M1215.4 1033.5h0L1215.5 1031.6L1215.6 1030L1215.7 1028.6L1215.9 1026.7L1216 1025.2L1216.1 1024.4L1216.3 1021.9L1216.5 1020.4L1216.6 1018.8L1216.7 1016.9L1216.8 1015L1217.1 1013.9L1217.3 1012.4L1217.5 1011.1L1217.7 1008.5L1217.8 1006.8L1217.9 1005L1218.1 1003L1218.3 1000.7L1218.6 999.2L1218.8 997.7L1219 996.1L1219.3 995.1L1219.5 993.7L1219.8 992.6L1220 991.3L1220.3 990.1L1220.5 988.7L1220.8 987.2L1221 986L1221.4 984.7L1221.5 983.7L1221.8 982.7L1222 981.8L1222.1 980.6L1222.4 979.5L1222.6 978.6L1222.9 977.7L1223.1 976.7L1223.3 975.4L1223.6 974.4L1223.8 973.5L1224.1 972L1224.2 970.9L1224.5 969.8L1224.6 967.4L1224.8 966.6L1225.1 965.2L1225.3 963.8L1225.4 962.9L1225.7 961.6L1225.9 960.5L1226.2 959.6L1226.4 958.4L1226.7 957.1L1226.9 956.2L1227.2 955.2L1227.3 953.9L1227.5 952.3L1227.8 951.1L1228 949.5L1228.1 948.1L1228.3 947.3L1228.5 945.5L1228.6 944.4L1228.9 942.1L1229.1 939.8L1229.4 938.1L1229.5 937.1L1229.6 935.4L1229.9 933.4L1230 932.6L1230.1 931.3L1230.2 929.4L1230.3 927.9L1230.5 926L1230.7 923.4L1230.8 921.9L1231 919.7L1231.1 918.3L1231.3 917.2L1231.6 915.9L1231.8 913.3L1232.1 911.6L1232.2 909.8L1232.3 908.8L1232.6 907.6L1232.7 906.4L1232.8 905.2L1233 904.2L1233.2 902.8L1233.4 901.1L1233.5 900L1233.7 897.8L1233.8 896.7L1233.9 894.8L1234.1 892.4L1234.3 891.1L1234.5 889.7L1234.6 888.3L1234.9 885.7L1235 883.9L1235.3 882.6L1235.4 881L1235.5 879.3L1235.7 877.8L1236 876.6L1236.2 874.7L1236.4 872.5L1236.6 870.8L1236.7 869.9L1236.8 866.8M1237 861.3h0L1237.1 860L1237.2 858.7L1237.3 857.7L1237.5 856.1L1237.6 854.7L1237.7 853.9L1237.8 851.7L1238 849.3L1238.1 848L1238.2 847L1238.3 846L1238.4 844.5L1238.6 841.3L1238.7 840.1L1238.8 838.3L1238.9 837L1239.1 836.1L1239.2 833.9L1239.3 831.2L1239.4 830.1L1239.6 829L1239.7 827.9L1239.8 826.7L1239.9 824.2L1240 822.9L1240.2 821.8L1240.3 820.1L1240.4 818.8M1240.5 814.4h0L1240.7 813.5L1240.8 811.3M1240.9 807.1h0L1241 806.1L1241.1 805.1L1241.3 803.2L1241.4 802L1241.5 800.5M1241.6 793.9h0L1241.8 790.5L1241.9 789.2L1242 787L1242.1 785.7M1242.3 780.7h0L1242.4 778.3L1242.5 774.6L1242.6 771.7L1242.7 770.3L1242.9 768.2L1243 766.2L1243.1 762.3L1243.2 760.6L1243.4 758.6L1243.5 757.1L1243.6 755.4L1243.7 753.8L1243.8 751.4L1244 748.7L1244.1 746.3L1244.2 743.2L1244.3 739.4L1244.5 737.3L1244.6 734.8L1244.7 733.5L1244.8 731.1L1245 728L1245.1 725.9L1245.2 723.8L1245.3 722L1245.4 719.7L1245.6 718.4L1245.7 717.1M1293.2 1681h0M1293.2 1296.8h0M1293.2 1223.3h0M1293.2 1126.4h0M1293.2 1067.9h0M1292.9 971h0M1293.1 953.2h0M1293.3 946.9h0M1293.5 938.9h0M1293.6 932.6h0M1293.8 924.3h0M1294 908.3h0M1294.1 885.3h0M1294.3 879.9h0M1294.5 874.5h0M1294.6 868.2h0M1294.8 863.7h0M1295 857.5h0M1295.1 851.5h0M1295.3 839.4h0M1295.5 832h0M1295.7 827.4h0M1295.8 815h0M1296 805.2h0L1296.2 802.7M1296.3 797.3h0L1296.5 795.2L1296.7 791.6L1296.8 787.8L1297 784.4M1297.2 779.9h0L1297.4 776.6L1297.5 775.2L1297.7 773.8L1297.9 771.4L1298 768.1L1298.2 766.7L1298.4 765.3L1298.5 763L1298.7 761.8L1298.9 760.2L1299.1 757.8L1299.2 756.4L1299.4 755.2M1299.6 750.6h0L1299.7 748.4L1299.9 745.7L1300.1 743.4L1300.2 741.5L1300.4 740.4L1300.6 739.3L1300.7 736.2L1300.9 735.2L1301.1 734.4L1301.3 732.2L1301.4 731L1301.6 728.2L1301.8 727.3L1301.9 726.3L1302.1 724.8L1302.3 722.8L1302.4 721.9L1302.6 721.1L1302.8 719.8L1303 718.5L1303.1 717.3L1303.3 715.7L1303.5 714.7L1303.6 713.9L1303.8 713.1L1304 711.2L1304.1 710L1304.5 708.4L1304.6 707.3L1304.8 706L1305 704.9L1305.2 704.1L1305.5 702.7L1305.8 701.3L1306 700.2L1306.3 696.4L1306.7 694.8L1306.9 694L1307 693.2L1307.4 691.8L1307.5 690.9L1307.7 688.7L1307.9 685.7L1308 684.9L1308.2 683.4L1308.5 682L1308.9 679.6L1309.1 678.3L1309.2 675.6L1309.4 673.3L1309.6 671.8L1309.7 669L1309.9 668.2L1310.1 667L1310.4 664.9L1310.6 664L1310.9 662L1311.1 660.7L1311.3 658.6L1311.4 657L1311.6 655.1L1311.8 654.2L1312.1 653L1312.3 651.3L1312.6 649.8L1312.8 647L1313 646L1313.3 644L1313.6 642.5L1313.8 641.2L1314.1 640L1314.3 638.8L1314.7 637L1314.8 636.2L1315 633.9L1315.2 633.1L1315.5 631.7L1315.7 630.7L1315.8 629.7L1316 628.5L1316.4 627.2L1316.7 625.5L1316.9 624L1317 622.7L1317.2 621.1L1317.4 620.2L1317.5 619.4L1317.7 617.1M1318 612.6h0L1318.2 610.5L1318.4 608.7L1318.7 606.2L1318.9 604.1L1319.1 602.8L1319.2 602L1319.4 601L1319.7 598.5L1319.9 597.3L1320.1 593.9L1320.3 592.8L1320.6 591.1L1320.8 589.4L1320.9 588.5L1321.1 587.7L1321.3 584.4L1321.4 583.6L1321.6 580.8L1321.8 579.4L1321.9 578.3L1322.1 577.2L1322.3 573.8L1322.5 571.4L1322.6 568.8L1322.8 567.9L1323 566.2L1323.1 564.6L1323.3 561.4L1323.5 560.1L1323.6 556.9L1323.8 554.5L1324 553L1324.2 550.9L1324.3 547.4L1324.5 546.2L1324.7 544.9L1324.8 543L1325 540.2L1325.2 538.2L1325.3 536.8L1325.5 535.2L1325.7 533.3L1325.8 531.1L1326 529.6L1326.2 527.2L1326.4 524.6L1326.5 523.2L1326.7 519.3L1326.9 517L1327 513.2L1327.2 510.8L1327.4 509.1M1327.5 503h0L1327.7 500.7L1327.9 496.6M1375.5 1393.7h0M1376.3 1338.4h0M1377.1 1317h0M1377.9 1300.4h0M1378.7 1293.3h0M1379.5 1278.4h0M1380.3 1257.6h0M1381.1 1247.6h0M1381.9 1204.6h0M1382.7 1183.5h0M1383.5 1149.7h0M1384.3 1137.7h0M1385.1 1132.8h0M1385.9 1123.9h0M1386.6 1114.8h0M1387.4 1105.4h0M1388.2 1088.7h0L1389 1085.7M1389.8 1081.1h0L1390.6 1077.6M1391.4 1071.2h0L1392.2 1067.1M1393 1055.3h0M1393.8 1050.4h0M1394.6 1042.7h0L1395.4 1041.1M1396.2 1020.4h0L1397 1018.7L1397.8 1017.3M1398.6 1013h0L1399.4 1009.2M1400.2 1002.6h0L1401 999.1L1401.8 995.7L1402.6 994.4M1403.4 970.5h0L1404.2 967.6L1405 964.8M1405.8 936.4h0M1406.6 906.3h0M1407.4 891.3h0M1408.2 876.8h0M1409 872h0M1409.8 864.1h0M1457.6 1681h0M1457.6 1609.2h0M1457.6 1485.6h0M1457.6 1452.1h0M1457.6 1387h0M1457.6 1320.2h0M1457.6 1243.3h0M1458.3 1218.3h0M1459 1211.6h0M1459.6 1203.7h0M1460.3 1177.7h0M1460.9 1168.3h0M1461.6 1158.7h0M1462.3 1152.9h0M1462.9 1141.6h0L1463.6 1138.2M1464.3 1130.9h0L1464.9 1127.9M1465.6 1118.9h0M1466.2 1111.7h0M1466.9 1106.9h0L1467.6 1105M1468.2 1092.9h0L1468.9 1090.2L1469.6 1087.3L1470.2 1084.5L1470.9 1081.8L1471.5 1078.7M1472.2 1072.9h0M1472.9 1056h0M1473.5 1050.1h0M1474.2 1041h0L1474.9 1037L1475.5 1033.4L1476.2 1031.2M1476.8 1026.1h0M1477.5 1020.2h0L1478.2 1016.5M1478.8 1011.1h0M1479.5 999.2h0M1480.2 989h0L1480.8 985.7L1481.5 982.5M1482.1 972.3h0M1482.8 967.5h0M1483.5 962.8h0M1484.1 957.8h0L1484.8 953.9L1485.5 952.6M1486.1 942.7h0M1486.8 938.1h0L1487.4 937.1L1488.1 935L1488.8 932.4L1489.4 931.1L1490.1 929.3M1490.8 924.7h0L1491.4 923.7L1492.1 922.6M1492.1 809h0M1539.8 1681h0M1539.8 1609.2h0M1539.8 1485.6h0M1539.8 1452.1h0M1539.8 1387h0M1539.8 1320.2h0M1539.7 1243.3h0L1540 1240.6L1540.4 1237M1540.7 1230.1h0M1541.1 1222.9h0L1541.4 1220.4M1541.8 1213.5h0L1542.1 1210.3L1542.5 1207.7L1542.9 1205.4L1543.2 1202.2M1543.6 1195h0M1543.9 1190.4h0L1544.3 1188.2M1544.6 1182.8h0M1545 1177.2h0L1545.3 1175.5L1545.7 1173.3L1546 1171.8L1546.4 1170.2L1546.7 1168.1L1547.1 1166.7L1547.4 1165L1547.8 1162.9L1548.1 1161.4L1548.5 1158.5L1548.8 1154.7L1549.2 1152.4L1549.5 1149L1549.9 1146.9L1550.2 1143.8L1550.6 1141.4L1550.9 1139.8M1551.3 1135.2h0L1551.6 1133.7M1552 1128.9h0L1552.3 1126.7L1552.7 1123.5L1553 1121.9L1553.4 1119.6M1553.7 1114.5h0L1554.1 1112.6L1554.4 1110L1554.8 1108.9L1555.1 1106.8L1555.5 1105.1L1555.8 1102.3L1556.2 1099L1556.5 1095.6L1556.9 1094M1557.2 1087h0L1557.6 1084.7L1557.9 1083.1L1558.3 1080L1558.7 1078.2L1559 1076.9L1559.4 1073.5L1559.7 1072L1560.1 1069L1560.4 1066L1560.8 1064.3M1561.1 1057.1h0L1561.5 1055.3M1561.8 1050.7h0M1562.2 1045.6h0M1562.5 1041.1h0L1562.9 1038.8L1563.2 1036.7L1563.6 1033.4M1563.9 1027.5h0L1564.3 1025L1564.6 1022.8M1565 1011.5h0M1565.3 1006.8h0L1565.7 1003.2M1566 996.5h0L1566.4 993.5L1566.7 991.2L1567.1 988.8M1567.4 983.9h0L1567.8 980.5M1568.1 975.2h0L1568.5 971.7M1568.8 964h0L1569.2 961.8M1569.5 955.3h0L1569.9 952.5L1570.2 948.7M1570.6 944.3h0M1570.9 937.1h0L1571.3 934M1571.6 923.7h0L1572 920.8L1572.3 918.2L1572.7 914.9L1573 911.9L1573.4 908L1573.7 906.2L1574.1 902.4L1574.4 899.2M1574.3 692.1h0M1622 1681h0M1622 1609.2h0M1622 1485.6h0M1622 1452.1h0M1622 1387h0M1622 1320.2h0M1622 1243.3h0L1622.6 1242.6M1623.2 1235.5h0M1623.8 1220.1h0M1624.4 1215.7h0L1625 1212.3L1625.5 1209.6L1626.1 1206.3M1626.7 1186.4h0M1627.3 1172.2h0L1627.9 1168.7L1628.5 1165.9L1629 1163M1629.6 1158.7h0M1630.2 1153.3h0M1630.8 1149h0M1631.4 1138.9h0L1632 1136.4M1632.6 1129.5h0M1633.1 1125h0L1633.7 1121.6M1634.3 1109.5h0M1634.9 1096.5h0M1635.5 1091.9h0M1636.1 1086.4h0M1636.7 1080.6h0M1637.2 1063.8h0M1637.8 1059.5h0L1638.4 1055.5L1639 1051.9L1639.6 1050.9L1640.2 1048M1640.8 1037.8h0L1641.3 1036.3L1641.9 1032.3L1642.5 1030.5L1643.1 1027.3M1643.7 1023.1h0M1644.3 1018.9h0L1644.8 1017.9L1645.4 1015.6M1646 1010.8h0L1646.6 1007.2L1647.2 1005.5M1647.8 999.2h0L1648.4 997.3M1648.9 990.3h0L1649.5 986.9L1650.1 983.6M1650.7 975.5h0L1651.3 974L1651.9 971.6L1652.5 970M1653 961.9h0M1653.6 949.8h0M1654.2 945.5h0M1654.8 939.7h0M1655.4 935.4h0M1656 931.2h0M1656.6 922.6h0M1656.5 829h0M1704.2 1233.3h0M1704.7 1171.7h0M1705.2 1155h0M1705.7 1149h0M1706.2 1144.3h0L1706.7 1140.4L1707.2 1137.6L1707.7 1135.6L1708.2 1133.5L1708.7 1130.9L1709.2 1129.9L1709.7 1128.8L1710.2 1127.4L1710.7 1125.9L1711.2 1124.5L1711.7 1122.3L1712.2 1120.4L1712.7 1119.1L1713.2 1115.5L1713.7 1113.8L1714.2 1112.9L1714.7 1111.6L1715.7 1108.8L1716.7 1107.6L1717.2 1106.9L1717.7 1105.6L1718.2 1103.9L1718.7 1101.3L1719.3 1100.4L1719.8 1099.7L1720.3 1098.3L1720.8 1096.6L1721.3 1095L1721.8 1094L1722.3 1092.9L1722.8 1092.3L1723.3 1091.6L1723.8 1090.5L1724.3 1088.1L1724.8 1087.1L1725.3 1085L1725.8 1084.3L1726.3 1083.7L1726.8 1082.8L1727.3 1082.1L1728.3 1080.8L1728.8 1079.8L1729.3 1078.1L1729.8 1077L1730.3 1073.8L1730.8 1072.8L1731.3 1071.1L1731.8 1069.1L1732.3 1067.2L1732.8 1065.1L1733.3 1062.5L1733.8 1060.4L1734.3 1057.9L1734.8 1054.1L1735.3 1051.5L1735.8 1048.5L1736.3 1044.9L1736.8 1041.4L1737.3 1038.5L1737.8 1035.5M1738.3 1027h0M1738.8 1019.5h0M1786.5 1681h0M1786.5 1296.8h0M1786.5 1223.3h0M1786.5 1126.4h0M1786.5 1067.9h0M1786.3 971h0M1786.4 956h0M1786.6 926.3h0M1786.8 913.3h0M1786.9 894.7h0M1787.1 888.5h0M1787.3 880.8h0M1787.4 873.1h0M1787.6 859.8h0M1787.8 853.8h0M1788 837.9h0M1788.1 832.2h0M1788.3 824.5h0M1788.5 816.2h0M1788.6 811.9h0M1788.8 806.9h0M1789 801.2h0L1789.1 799.3M1789.3 791.5h0M1789.5 786.1h0M1789.6 781.7h0L1789.8 779.7L1790 776.8L1790.2 772.7L1790.3 771.1M1790.5 766.6h0L1790.7 763.6L1790.8 760.3L1791 757.8L1791.2 755.6L1791.3 752.9L1791.5 751.6L1791.7 750.3L1791.9 748L1792 743.9L1792.2 743M1792.4 736.9h0L1792.5 734.4L1792.7 732.7L1792.9 731.4L1793 730L1793.2 729.2L1793.4 727.8L1793.5 726.5L1793.7 723.8L1793.9 722.9L1794.2 720L1794.6 716.4L1794.7 712.3L1794.9 710.4L1795.1 707.4L1795.2 704.6L1795.6 702.7L1795.8 701.7L1795.9 700.9L1796.3 698.7L1796.4 697.1L1796.6 694.9L1796.8 693.9L1797.1 690.7L1797.3 689.5L1797.6 687.7L1798 685.7L1798.3 684.4L1798.5 683.6L1798.6 682.6L1798.8 681.5L1799 680L1799.1 678.5L1799.5 676.3L1799.7 675.4L1799.8 672.8L1800.2 671.1L1800.5 669.4L1800.7 668.4L1800.8 665.5L1801 664.3L1801.2 663.4L1801.4 662L1801.5 661.2L1801.7 659.7L1801.9 658.6L1802.2 657L1802.4 655.7L1802.5 654.8L1802.9 653.5L1803.2 651.8L1803.4 650.3L1803.6 647.8L1803.7 646.6L1804.1 644.6L1804.4 642.7L1804.6 640.1L1804.7 638.5L1804.9 637.4L1805.1 636.6L1805.3 635L1805.4 634L1805.6 633.2L1805.9 630.8L1806.3 629.3L1806.6 628.1L1806.8 626L1807.1 624.6L1807.5 622.5L1807.8 621.1L1808.1 618.9L1808.5 617.5L1808.6 616.2L1808.8 615.1L1809 614L1809.2 612.1L1809.3 610.5L1809.5 609.6L1809.7 608.4L1810 607L1810.2 605.7L1810.5 603.6L1810.9 600.2L1811 598.4L1811.2 596.9L1811.4 595.8L1811.7 594.1L1811.9 590.8L1812 589.9L1812.2 589.1L1812.4 588.1L1812.5 587.3L1812.7 586.4L1812.9 583.9L1813.1 583L1813.2 581.5L1813.4 579.3L1813.6 578.2L1813.7 576.9L1813.9 576L1814.1 574.7L1814.4 571.8L1814.6 569.4L1814.8 568.3L1814.9 565.5L1815.1 564.7L1815.3 562.7L1815.4 561.8L1815.6 561L1815.8 559.9L1815.9 558.7L1816.1 555L1816.3 553.9L1816.4 552.8L1816.6 551.1L1816.8 549.8L1817 548.7L1817.1 545.3L1817.3 542.4L1817.5 541.4L1817.6 538.4L1817.8 535.9L1818 534.8L1818.1 533.2L1818.3 530.5L1818.5 528.6L1818.7 526.9L1818.8 524.7L1819 522.8L1819.2 521.6L1819.3 520.5L1819.5 518.7L1819.7 517.6L1819.8 516.2L1820 515.1L1820.2 511.2L1820.3 508.4L1820.5 506.6L1820.7 505.2L1820.9 504L1821 500.5L1821.2 496.6M1868.7 1615.9h0M1868.5 1577.4h0M1868.7 1570.6h0M1868.9 1559.6h0L1869.2 1557L1869.4 1553.5M1869.6 1544.3h0L1869.8 1541.1M1870 1535.2h0L1870.3 1532.8L1870.5 1530.5L1870.7 1527.6L1870.9 1525L1871.1 1521.7M1871.4 1517.3h0L1871.6 1514.7L1871.8 1512.1L1872 1510.5M1872.2 1506.2h0L1872.5 1504.5L1872.7 1501.8L1872.9 1500.4L1873.1 1499.1M1873.3 1493.4h0L1873.5 1490.7L1873.8 1489.3L1874 1487.5L1874.2 1486.5L1874.4 1484.7L1874.6 1483L1874.9 1481.4L1875.1 1478.4L1875.3 1477.5L1875.5 1475.1L1875.7 1474L1876 1472.5L1876.2 1471.3L1876.4 1470.5L1876.6 1468.7L1876.8 1467.3L1877.1 1465.7L1877.3 1464.8L1877.5 1463.9L1877.9 1462.5L1878.2 1461.5L1878.4 1460.4L1878.8 1458L1879 1457.1L1879.5 1455.7L1879.7 1454.3L1879.9 1452.9L1880.1 1451.9L1880.3 1450.7L1880.8 1447.9L1881 1447.1L1881.4 1445.4L1881.7 1444.3L1881.9 1442.6L1882.1 1441.2L1882.3 1439.4L1882.5 1437.6L1882.8 1436.7L1883 1434.8L1883.4 1433.4L1883.6 1432.2L1883.9 1429.8L1884.1 1427.9L1884.3 1424.9L1884.5 1423.6M1884.7 1418.6h0L1885 1417L1885.4 1414.1L1885.6 1413L1885.8 1410.8L1886.1 1407.3M1886.3 1402.9h0L1886.5 1401.2L1886.7 1398.3L1886.9 1395.5L1887.2 1394.4M1887.4 1389.6h0L1887.6 1387.9L1887.8 1386L1888 1384.6L1888.2 1382.8L1888.5 1381M1888.7 1376.2h0L1888.9 1372.7L1889.1 1371.1L1889.3 1367.3M1889.6 1363h0M1889.8 1358.4h0L1890 1356L1890.2 1352.4L1890.4 1350.6L1890.7 1349L1890.9 1347.1L1891.1 1345.3L1891.3 1341.8L1891.5 1337.8L1891.8 1335.5L1892 1331.5L1892.2 1329.5L1892.4 1326.7L1892.6 1324.3L1892.9 1321.2L1893.1 1319.6L1893.3 1317.8L1893.5 1315.7L1893.7 1312.2M1894 1302.1h0L1894.2 1300M1894.4 1292.9h0L1894.6 1289.6M1894.8 1282.2h0L1895.1 1280.2L1895.3 1277.8L1895.5 1275.7L1895.7 1272.5L1895.9 1270.1M1896.1 1260.3h0M1896.4 1250.7h0L1896.6 1248.2M1896.8 1242.1h0L1897 1239.1M1897.2 1233.9h0M1897.5 1226h0M1897.7 1221.3h0M1897.9 1212.9h0M1898.1 1201.6h0M1898.3 1190.4h0M1898.6 1182.6h0L1898.8 1179.1M1899 1173.2h0M1899.2 1164.1h0M1899.4 1141.8h0M1899.7 1134.8h0M1899.9 1129.4h0M1900.1 1124.6h0M1900.3 1119.5h0M1900.5 1112.6h0M1900.8 1106.4h0M1901 1094.3h0M1901.2 1087.9h0M1901.4 1069.5h0M1901.6 1059.5h0M1901.9 1037.8h0M1902.1 1031.1h0M1902.3 1021.4h0M1902.5 1012h0M1902.7 998.1h0M1903 988.9h0M1903.2 965.9h0M1903.4 952.7h0M1903.2 822.4h0M1903.2 728.8h0M1950.9 1681h0M1950.9 1632.6h0M1950.9 1597.5h0M1950.9 1510.6h0M1950.9 1480.5h0M1950.7 1463.8h0L1950.8 1461.7L1950.9 1460.5L1951 1458.9L1951.1 1457.2L1951.2 1455.5L1951.3 1451.3L1951.4 1449.5L1951.5 1448.3L1951.6 1447L1951.7 1446L1951.8 1444.8L1951.9 1442.2L1952 1440.4L1952.1 1437.4L1952.2 1436.5L1952.3 1435.2L1952.4 1431.9L1952.5 1430.8L1952.6 1429.8L1952.7 1428.8M1952.8 1421.7h0L1952.9 1420.2L1953 1418.4L1953.1 1416L1953.2 1412.2L1953.3 1411.4L1953.4 1409.9M1953.5 1405.4h0L1953.6 1404.3L1953.7 1403.5L1953.9 1400L1954.1 1397.6L1954.2 1396.4L1954.3 1394.1L1954.4 1392.5L1954.5 1390.6L1954.6 1389.8L1954.7 1388.6L1954.8 1387.3L1954.9 1386.4L1955 1385.5L1955.1 1384.4L1955.2 1382.5L1955.4 1381.1L1955.6 1379.8L1955.7 1376.5L1955.8 1375.3L1955.9 1373.1L1956.1 1372L1956.3 1369.7L1956.5 1368.6L1956.7 1367.5L1956.9 1366.3L1957.1 1364.1L1957.3 1363.1L1957.5 1362.1L1957.7 1360.2L1957.8 1359.2L1958 1357.7L1958.2 1356L1958.3 1355L1958.6 1353.1L1958.7 1351.4L1958.8 1350.6L1958.9 1348.7L1959.1 1347.5L1959.2 1346.7L1959.3 1345.2L1959.5 1344.2L1959.6 1342.7L1959.7 1341.8L1959.9 1340.8L1960.1 1338.7L1960.3 1337.4L1960.5 1336.3L1960.6 1335L1960.8 1333.5L1961.1 1332.3L1961.3 1331.5L1961.5 1329.9L1961.7 1328.5L1961.9 1327.1L1962.1 1326L1962.3 1325.2L1962.5 1324.1L1962.7 1322.9L1962.9 1322L1963.1 1320.5L1963.3 1319.7L1963.5 1318.4L1963.7 1317.5L1963.8 1316.4L1964 1314.5L1964.2 1313.3L1964.4 1312.5L1964.5 1311.6L1964.7 1309.4L1964.9 1307.7L1965 1306.7L1965.2 1305.9L1965.4 1304.8L1965.6 1303.5L1965.8 1302.2L1965.9 1301.2L1966.1 1300.1L1966.3 1298.3L1966.5 1296.5L1966.6 1295.7L1966.8 1294.1L1967.1 1293.1L1967.3 1292.1L1967.4 1291.2L1967.6 1290.3L1967.8 1289.5L1968 1288.3L1968.1 1287.4L1968.2 1286L1968.4 1284L1968.6 1283.1L1968.7 1282L1968.9 1280.7L1969 1279.1L1969.2 1277.9L1969.3 1276.8L1969.4 1275.9L1969.5 1274.6L1969.6 1273.1L1969.8 1271.9L1969.9 1270.7L1970.1 1267.5L1970.3 1265.8L1970.5 1264.9L1970.6 1263.7L1970.8 1262.4L1970.9 1261.1L1971 1259.6L1971.2 1258.4L1971.3 1257.3L1971.5 1255.5L1971.6 1254.3L1971.8 1252.8L1971.9 1251.8L1972.1 1249.9L1972.2 1248.9L1972.4 1247.4L1972.5 1246.5L1972.7 1245.2L1972.8 1243.4L1973 1242.2L1973.2 1240.5L1973.3 1239.6L1973.4 1238.4L1973.5 1237.4L1973.6 1235.9L1973.7 1235L1973.8 1233.8L1974 1232.4L1974.1 1231.1L1974.3 1229.7L1974.4 1228.8L1974.6 1227.8L1974.7 1226.6L1974.8 1225.2L1975 1224L1975.1 1222.8L1975.2 1221.8L1975.4 1220.6L1975.6 1219.6L1975.7 1218.6L1975.8 1217.7L1975.9 1215.1L1976.1 1213.9L1976.2 1212.7L1976.4 1211.3L1976.5 1210.4L1976.6 1208.5L1976.8 1206.3L1976.9 1204.8L1977 1203.3L1977.1 1200L1977.3 1198.3L1977.4 1197L1977.5 1196L1977.6 1194.6L1977.7 1193.4L1977.8 1192.3L1977.9 1191.3L1978 1189.7L1978.2 1188.3L1978.3 1187L1978.4 1186L1978.5 1185.2L1978.6 1184.3L1978.7 1183.2L1978.8 1180.8L1979 1179.3L1979.1 1178.3L1979.2 1175.5L1979.3 1174.6L1979.5 1172.1L1979.7 1168.9L1979.8 1167.2L1979.9 1165.9L1980 1163.7L1980.1 1162.6L1980.2 1161.6L1980.3 1160.4L1980.4 1159.2L1980.5 1158.3L1980.6 1156.9L1980.7 1153.7L1980.8 1151.1L1980.9 1149.5L1981 1147.3L1981.1 1145L1981.2 1143.7L1981.3 1141L1981.4 1140.1L1981.5 1139.1L1981.6 1136.9L1981.7 1135.6L1981.8 1133.9L1981.9 1131.2L1982 1130.3L1982.1 1128.7L1982.2 1127.4L1982.3 1126.4L1982.4 1124L1982.5 1120.1L1982.6 1117.1L1982.7 1116L1982.8 1112.4L1982.9 1109.9L1983 1106L1983.1 1103L1983.2 1101.7L1983.3 1100.5L1983.4 1098.3L1983.5 1097.2L1983.6 1095L1983.7 1093.7L1983.8 1090.9L1983.9 1089.4L1984 1088L1984.2 1086.2L1984.3 1084.9L1984.4 1081.7L1984.5 1080L1984.6 1077.9L1984.7 1076.1L1984.8 1075L1984.9 1073.6L1985 1072.5L1985.1 1070.3L1985.2 1069.1L1985.3 1067.8L1985.4 1066.5L1985.5 1064.2M1985.6 1058.9h0L1985.7 1056.2M2033.1 1681h0M2033.1 1632.6h0M2033.1 1597.5h0M2033.1 1510.6h0M2033.1 1480.5h0M2032.9 1463.8h0M2033 1458.7h0L2033.1 1456.7L2033.2 1454.1L2033.3 1453L2033.4 1451.4L2033.5 1449.8L2033.6 1448.1L2033.7 1445.4L2033.8 1443.4L2033.9 1442.4L2034 1441.3L2034.1 1440.1L2034.2 1438.9L2034.3 1437.9L2034.4 1434.1L2034.5 1432.9L2034.6 1431.3L2034.7 1427.5L2034.9 1426.2L2035 1424.7M2035.1 1419.9h0L2035.2 1418.9L2035.3 1417.8L2035.4 1415.7L2035.5 1414.6L2035.6 1413.1L2035.7 1412L2035.8 1411L2035.9 1408.6L2036 1407.5L2036.1 1405.7L2036.2 1404L2036.3 1403.2L2036.4 1401.8L2036.5 1400.9L2036.6 1400L2036.7 1397.8L2036.8 1396.7L2036.9 1395.7L2037 1393.6L2037.1 1390.5L2037.2 1389.2L2037.3 1387.9L2037.5 1386.4L2037.7 1385L2037.8 1382.3L2037.9 1381.3L2038 1380.4L2038.2 1378.8L2038.4 1377.2L2038.5 1374.4L2038.6 1373.5L2038.7 1371.6L2038.8 1370.6L2039 1369.6L2039.2 1368L2039.3 1367.1L2039.4 1366L2039.6 1364.4L2039.7 1363.4L2039.8 1362L2040 1360.2L2040.2 1358.8L2040.4 1357.7L2040.6 1355.3L2040.7 1354.4L2040.9 1353L2041.1 1351.8L2041.2 1350.3L2041.3 1349.1L2041.4 1347.9L2041.6 1346.1L2041.7 1345.3L2041.9 1343.3L2042 1342L2042.2 1340.9L2042.4 1339.6L2042.6 1338.7L2042.9 1337.6L2043.1 1336.4L2043.3 1335.2L2043.4 1334.4L2043.6 1333.1L2043.8 1331.9L2044 1330.4L2044.2 1327L2044.3 1326.1L2044.5 1325.4L2044.7 1323.3L2044.9 1322.3L2045 1320.9L2045.3 1319.5L2045.7 1318.2L2045.9 1317L2046.1 1315.3L2046.3 1314L2046.5 1312.8L2046.7 1311.4L2046.9 1310.5L2047.1 1309.2L2047.3 1307.8L2047.4 1306.5L2047.6 1304.4L2047.7 1303.4L2047.9 1301.9L2048 1300.9L2048.3 1300.1L2048.4 1298.6L2048.5 1297L2048.6 1295.9L2048.8 1294.8L2049 1293.8L2049.1 1292L2049.3 1290.7L2049.6 1288.7L2049.8 1287.5L2049.9 1286.6L2050.1 1284.4L2050.2 1283.5L2050.4 1282.6L2050.6 1281.4L2050.7 1280.3L2051 1278.6L2051.2 1277.6L2051.4 1276.2L2051.5 1275.3L2051.6 1274.5L2051.8 1272.8L2052 1271.2L2052.2 1269.8L2052.3 1268.3L2052.5 1267.3L2052.7 1266L2052.8 1264.9L2053 1263.2L2053.2 1261.7L2053.3 1260.9L2053.4 1260.1L2053.6 1259.2L2053.8 1257.9L2054 1256.4L2054.2 1255L2054.4 1252.3L2054.5 1251.3L2054.7 1250.3L2054.8 1247.8L2054.9 1245.3L2055 1244.4L2055.1 1243.6L2055.3 1242.7L2055.5 1241.3L2055.6 1239.7L2055.7 1238.5L2055.8 1237.5L2056 1236L2056.1 1234.7L2056.4 1233.5L2056.5 1232.5L2056.7 1229.8L2056.8 1228.9L2056.9 1227.8L2057 1226.8L2057.2 1225.3L2057.3 1222.3L2057.5 1221.1L2057.7 1219.9L2057.9 1218.5L2058.1 1217L2058.2 1215.1L2058.4 1213.4L2058.6 1212.1L2058.8 1208.2L2059 1206.9L2059.1 1204.8L2059.3 1203.5L2059.4 1201.8L2059.5 1200.4L2059.6 1198.6L2059.7 1197.5L2059.9 1196.2L2060.1 1194.8L2060.3 1192.1L2060.4 1190.7L2060.5 1189.1L2060.6 1186.7L2060.8 1185L2061 1183.8L2061.1 1182.5L2061.2 1181L2061.3 1177.9L2061.4 1176.2L2061.7 1174.7M2061.8 1170.2h0L2061.9 1169.2L2062 1167.7L2062.1 1164.6L2062.2 1163.3L2062.3 1162L2062.4 1159.5L2062.5 1158.6L2062.6 1157.6L2062.7 1156.1L2062.8 1155.2L2062.9 1153.9L2063 1152.4L2063.1 1151.5L2063.2 1150.1L2063.3 1147.7L2063.4 1146.9L2063.5 1145.7L2063.6 1144.3L2063.7 1143.3L2063.8 1140.5L2063.9 1139.4L2064 1137.6L2064.1 1135.6L2064.2 1134.3L2064.4 1133.1L2064.5 1131.8L2064.6 1130.4L2064.7 1129.4L2064.8 1127.6L2064.9 1124.6L2065 1123.4L2065.1 1120L2065.2 1118.6L2065.3 1115.7L2065.4 1113.4L2065.5 1110.8L2065.6 1109.4L2065.7 1107.9L2065.8 1105.5L2065.9 1104L2066 1101.8L2066.1 1100.7L2066.2 1098.3L2066.3 1096.5L2066.4 1095.4L2066.5 1092.8L2066.6 1089.8L2066.7 1088.4L2066.8 1086.4L2067 1083.6L2067.1 1081.9M2067.2 1075.5h0L2067.3 1072.5L2067.4 1069.6L2067.5 1066.7L2067.6 1064.3L2067.7 1061.4L2067.8 1058.2L2067.9 1056.2M2156.4 1575.8h0M2156.8 1565.4h0M2157.2 1557.3h0M2157.6 1548.1h0M2158 1539.3h0M2158.4 1533h0M2158.7 1511.8h0M2159.1 1505.6h0M2159.5 1499.8h0M2159.9 1481.1h0M2160.3 1474.6h0M2160.7 1466.8h0M2161.1 1461.4h0M2161.5 1448.3h0L2161.9 1444.7M2162.3 1438.5h0L2162.7 1436.2L2163.1 1432.3L2163.5 1429.1L2163.9 1425M2164.3 1420.1h0L2164.7 1417.7L2165.1 1414.3L2165.5 1412.6L2165.9 1409.1L2166.3 1407.6L2166.7 1404.3L2167.1 1402.3L2167.5 1400.5L2167.9 1397.8L2168.3 1395.6L2168.7 1393.1L2169.1 1391.2L2169.5 1387.8L2169.9 1385.1L2170.3 1382L2170.7 1378.8L2171.1 1376.4L2171.5 1374.2L2171.9 1370.3L2172.3 1368.6L2172.7 1367.1L2173.1 1365.4M2173.5 1361.2h0M2173.9 1348h0M2174.3 1341.5h0L2174.7 1337.5M2175.1 1328.1h0L2175.5 1324.7M2175.9 1318.4h0L2176.3 1315.5L2176.7 1312.1M2177.1 1307.3h0L2177.5 1304.9M2177.9 1289.2h0M2178.3 1278.8h0M2178.7 1270h0M2179.1 1265.2h0L2179.5 1262L2179.9 1259.1M2180.3 1252.9h0M2180.7 1247.8h0M2181.1 1239.7h0M2181.5 1234.4h0M2181.9 1229.8h0M2182.3 1222.3h0M2182.7 1215.6h0L2183.1 1212.3L2183.5 1208.6M2183.9 1202.9h0M2184.3 1197.4h0M2184.7 1191.4h0M2185.1 1180.8h0L2185.5 1177.2M2185.9 1170.5h0M2186.3 1166.1h0M2186.7 1157.9h0M2187.1 1149.8h0M2187.5 1131h0M2187.9 1126.4h0L2188.3 1122.6L2188.7 1118.9M2189.1 1113.3h0M2189.5 1105.9h0M2189.9 1101.5h0M2190.3 1093.3h0L2190.7 1090M2191.1 1083h0M2238.7 1681h0M2238.5 1387h0M2238.7 1374.1h0M2238.9 1365.9h0M2239.1 1358.7h0M2239.3 1354h0M2239.5 1346.2h0L2239.7 1342.4M2239.9 1334.4h0L2240.1 1331.5L2240.3 1327.8L2240.5 1324.3M2240.7 1309.4h0M2240.9 1299.9h0L2241.1 1297.3L2241.4 1295.6L2241.6 1293.8L2241.8 1291.7L2242 1289.4L2242.2 1286.1M2242.4 1281.2h0L2242.6 1277.6L2242.8 1275.7L2243 1273.8L2243.2 1272.7M2243.4 1266h0L2243.6 1264.6L2243.8 1262.8L2244 1259.5L2244.2 1258.5L2244.4 1257.1L2244.6 1255.3L2244.8 1253.3L2245 1251.2L2245.3 1250L2245.5 1248.4L2245.7 1247.3L2245.9 1244.6L2246.1 1243.2L2246.3 1242.1L2246.5 1239.2L2246.7 1237.3L2246.9 1234.8L2247.3 1232.8L2247.5 1230.9L2247.7 1229.9L2247.9 1228.9L2248.1 1225.8L2248.3 1224.3L2248.7 1221.1L2248.9 1219.5L2249.2 1218.5L2249.4 1217.7L2249.6 1216.4L2249.8 1214.6L2250 1213.7L2250.2 1211.4L2250.4 1210.5L2250.6 1209.5L2250.8 1205.8L2251 1204.4L2251.2 1203.6L2251.4 1202.2L2251.6 1201.2L2251.8 1200.4L2252 1198.5L2252.2 1197.4L2252.6 1195.9L2252.8 1194.5L2253.1 1193L2253.3 1191.9L2253.5 1190.8L2253.7 1189L2253.9 1187.6L2254.1 1186.1L2254.3 1185.2L2254.7 1183.8L2254.9 1180L2255.1 1179.1L2255.3 1178L2255.5 1176.2L2255.7 1174.8L2255.9 1174L2256.1 1172.8L2256.3 1169.1L2256.5 1168.3L2257 1166.3L2257.4 1164.9L2257.6 1163.6L2257.8 1162.5L2258 1161.3L2258.2 1160.2L2258.6 1158.9L2259 1157.5L2259.2 1156.7L2259.4 1154.9L2259.6 1153.1L2259.8 1151.8L2260 1150.9L2260.2 1147L2260.4 1146L2260.7 1145.2L2260.9 1144.1L2261.3 1142L2261.5 1139.7L2261.9 1137.7L2262.1 1136L2262.3 1134.7L2262.5 1132.9L2262.7 1131.6L2262.9 1129.3L2263.1 1126.9L2263.3 1125.8L2263.5 1123.2L2263.7 1122.1M2263.9 1117.3h0M2264.1 1112.8h0L2264.3 1110.8L2264.6 1109.6L2264.8 1108.7L2265 1107.6L2265.2 1105.8M2265.4 1099.1h0M2265.6 1091.4h0L2265.8 1089.6L2266 1086.4L2266.2 1085.1L2266.4 1083.9L2266.6 1080.7L2266.8 1078.8L2267 1077.1L2267.2 1075.4L2267.4 1072.9M2267.6 1067.9h0L2267.8 1065.4L2268 1062.7L2268.2 1060.1L2268.5 1058L2268.7 1054.8M2268.9 1050.4h0M2269.1 1044.4h0L2269.3 1041.1L2269.5 1036.9M2269.7 1032.5h0L2269.9 1028.6L2270.1 1024.7M2270.3 1020.5h0M2270.5 1014h0M2270.7 1009.7h0M2270.9 1003.3h0M2271.1 998.4h0M2271.3 991.9h0M2271.5 985.9h0M2271.7 970.4h0M2271.9 962.9h0M2272.1 941.9h0M2272.4 927.5h0M2272.6 920.9h0M2272.8 912.7h0M2273 899.5h0M2273.2 878.7h0M2273.4 865.8h0M2326.4 1422.1h0M2338.1 1380.3h0M2349.9 1193.2h0M2402.9 1524h0M2403.2 1505.7h0M2403.4 1499.3h0M2403.6 1492h0M2403.9 1487.6h0M2404.1 1473.9h0M2404.3 1466.9h0M2404.5 1454.1h0M2404.8 1447.5h0M2405 1435.1h0M2405.2 1430h0M2405.5 1425.5h0M2405.7 1420.9h0M2405.9 1415.8h0M2406.2 1408.7h0M2406.4 1402.3h0M2406.6 1397.7h0L2406.9 1395.2L2407.1 1392.9L2407.3 1390L2407.5 1387.9L2407.8 1385.2M2408 1380.6h0L2408.2 1377.8L2408.5 1375.1L2408.7 1372.5L2408.9 1370.6M2409.2 1364.8h0L2409.4 1363.1M2409.6 1356h0L2409.9 1353.8L2410.1 1352L2410.3 1348.6L2410.6 1346.9L2410.8 1345.6L2411 1344.2L2411.2 1342.6L2411.5 1340.8L2411.7 1338L2411.9 1335.7M2412.2 1331.3h0M2412.4 1326.7h0L2412.6 1324.5L2412.9 1322.8L2413.1 1321.2L2413.3 1319.2L2413.6 1317.4L2413.8 1314.5L2414 1312.3L2414.2 1310L2414.5 1308.1L2414.7 1306.2L2414.9 1304.7L2415.2 1301.6L2415.4 1299.5L2415.6 1297.3L2415.9 1295.8L2416.1 1294.2L2416.3 1291.6L2416.6 1289.1L2416.8 1288.2L2417 1286.7L2417.2 1285.7L2417.5 1284.3L2417.7 1283.2L2417.9 1280.3M2418.2 1274.1h0L2418.4 1272.3L2418.6 1270.2L2418.9 1269.3L2419.1 1268.1L2419.3 1265.5M2419.6 1260h0L2419.8 1257.9L2420 1254.9L2420.3 1252.6L2420.5 1251.1L2420.7 1248.4L2420.9 1244.3L2421.2 1240.8L2421.4 1239.6L2421.6 1237.7L2421.9 1234.4L2422.1 1230.3L2422.3 1228.9L2422.6 1227.5L2422.8 1223.5L2423 1222.3L2423.3 1220.9L2423.5 1219L2423.7 1216.9L2423.9 1215.8L2424.2 1214.5L2424.4 1212.5M2424.6 1207.4h0L2424.9 1206.2L2425.1 1204.4L2425.3 1202.4L2425.6 1201.1L2425.8 1197.5L2426 1195.3L2426.3 1192.6L2426.5 1191.1L2426.7 1190L2427 1188.9L2427.2 1186.7L2427.4 1184L2427.6 1182.9L2427.9 1181.4L2428.1 1179.4L2428.3 1177.3L2428.6 1173.9L2428.8 1172L2429 1170.3L2429.3 1168.2L2429.5 1166L2429.7 1164.5L2430 1160.8L2430.2 1159.1L2430.4 1157.8M2430.6 1149h0L2430.9 1146L2431.1 1143.2L2431.3 1140.1L2431.6 1137.5L2431.8 1133.8L2432 1130.8L2432.3 1128.8L2432.5 1126.9M2432.7 1122.2h0L2433 1119.9L2433.2 1115.7L2433.4 1113.2L2433.6 1110.3M2433.9 1105.4h0M2434.1 1099.2h0M2434.3 1093.6h0M2434.6 1085.6h0L2434.8 1081.5M2435 1077.3h0M2435.3 1068.8h0M2435.5 1063.5h0M2435.7 1052.6h0M2436 1034.5h0M2436.2 1025.6h0M2436.4 1019h0M2436.7 1004.4h0M2436.9 989h0M2437.1 982.2h0M2437.3 961.9h0M2437.6 946.6h0M2437.8 941h0M2485.3 1681h0M2485.3 1635.9h0M2485.3 1624.2h0M2485.3 1580.8h0M2485.3 1569.1h0M2485.1 1539h0L2485.2 1537.4L2485.3 1535.2L2485.4 1533.9L2485.6 1532.4L2485.7 1531.2L2485.9 1527.3L2486 1524.1L2486.1 1522.8L2486.2 1521.2L2486.3 1518.1L2486.5 1515.4L2486.6 1513.5L2486.9 1510.6L2487 1509.2L2487.1 1508.2L2487.3 1506.6L2487.4 1505.5L2487.6 1503.1L2487.7 1501.3L2487.8 1500.4L2488 1499.3L2488.1 1496.1L2488.2 1493.8L2488.3 1492L2488.4 1490.8L2488.5 1488.5L2488.6 1487.1L2488.7 1486.2L2488.8 1485.2L2489 1484.3L2489.1 1482.4L2489.2 1481.4L2489.4 1480.3L2489.6 1478.8L2489.8 1477L2489.9 1475.8L2490.2 1474.4L2490.3 1472.6L2490.4 1471.1L2490.6 1470L2490.7 1468.5L2490.9 1467.3L2491 1466.3L2491.3 1464.8L2491.4 1463.5L2491.6 1462.4L2491.7 1461.4L2491.9 1460.3L2492.2 1459.4L2492.3 1458.4L2492.5 1456.9L2492.6 1455.3L2492.8 1452.9L2492.9 1451.8L2493.1 1450.4L2493.4 1449.5L2493.5 1448.6L2493.7 1446.9L2493.9 1445.4L2494.1 1443.7L2494.4 1442.7L2494.6 1441.5L2494.8 1439.9L2495 1439.1L2495.2 1437.7L2495.4 1435.8L2495.6 1434.3L2495.7 1433.4L2495.9 1431.7L2496 1429.8L2496.2 1428.9L2496.5 1427.6L2496.8 1424.9L2497 1424L2497.2 1422.8L2497.5 1421.9L2497.6 1421L2497.8 1419.9L2498 1419L2498.1 1418L2498.2 1417.2L2498.4 1415.6L2498.7 1414.5L2498.8 1413.7L2498.9 1412.8L2499 1411.9L2499.1 1410.6L2499.3 1409.6L2499.4 1408.8L2499.7 1407.6L2499.9 1406.7L2500.1 1405.9L2500.2 1405L2500.4 1403.6L2500.5 1402.7L2500.8 1401.5L2500.9 1400.6L2501.1 1399.6L2501.3 1398.2L2501.5 1397L2501.8 1396.2L2502 1394.8L2502.1 1393.5L2502.2 1392.5L2502.5 1391.2L2502.6 1390L2502.9 1388.6L2503 1387.6L2503.1 1386.8L2503.3 1385.7L2503.5 1384.2L2503.7 1383.3L2504 1382.3L2504.2 1380.8L2504.4 1379.5L2504.7 1378.2L2505 1377.2L2505.2 1375.9L2505.3 1374.9L2505.4 1374L2505.6 1372.2L2505.8 1371.2L2506.1 1369.7L2506.2 1368.8L2506.3 1367.6L2506.5 1364.8L2506.7 1363.6L2506.8 1362.2L2507.1 1360.5L2507.2 1359.6L2507.3 1357.4L2507.5 1356.4L2507.6 1355.3L2507.8 1354.4L2508.1 1353.3L2508.3 1352.2L2508.5 1350.9L2508.7 1349L2508.9 1347.9L2509.2 1346.9L2509.4 1345.9L2509.6 1344.6L2509.8 1343.6L2510 1342.8L2510.3 1340.3L2510.4 1338.6L2510.5 1337L2510.6 1335.9L2510.8 1334.5L2511 1333.6L2511.1 1331.8L2511.3 1330.8L2511.5 1328L2511.6 1325.9L2511.7 1324.8L2511.9 1323.2L2512 1322L2512.1 1320.8L2512.2 1319.9L2512.5 1318.6L2512.6 1316.8L2512.8 1315.7L2512.9 1313.5L2513 1311.6L2513.1 1310.3L2513.2 1309.4L2513.4 1308.5L2513.6 1307.3L2513.7 1304.6L2513.8 1303.2L2514 1301.4L2514.1 1300L2514.2 1299L2514.5 1297.1L2514.6 1296.1L2514.7 1294.4L2514.8 1293.2L2514.9 1292.1L2515 1290L2515.1 1287.2L2515.2 1285.8L2515.3 1285L2515.4 1282.7L2515.6 1281.3L2515.7 1280.3M2515.8 1275.6h0L2515.9 1273.9L2516 1273L2516.1 1269.9L2516.2 1268.2L2516.3 1267.1L2516.4 1266L2516.6 1263.6L2516.7 1261.9L2516.8 1259.8L2516.9 1258.6L2517 1254.9L2517.1 1252.3L2517.2 1250.2L2517.3 1248.1M2517.4 1243.4h0L2517.5 1241.7M2517.7 1236.7h0L2517.8 1234.3L2517.9 1232.7L2518 1230.6L2518.1 1228L2518.2 1224M2518.3 1216.5h0L2518.4 1214.6L2518.5 1211.7L2518.7 1209.5M2518.8 1202.8h0L2518.9 1200.4M2519 1194.3h0L2519.1 1191.3M2519.2 1187h0M2519.3 1182h0M2519.4 1173.1h0L2519.5 1170.8M2519.6 1166.1h0M2519.8 1156.3h0L2519.9 1153.8M2520 1146.7h0M2520.1 1134.7h0M2576 1505.6h0M2593.6 1126.4h0M2649.8 1555.7h0M2649.8 1498.9h0M2649.5 1455.5h0L2649.6 1453.1L2649.7 1450.8L2649.8 1449.9L2649.8 1448.9L2649.9 1446.4L2649.9 1444.1L2650 1443.2L2650.1 1441.6L2650.1 1439.5L2650.2 1438.7L2650.3 1437.5L2650.3 1436.5L2650.4 1435.4L2650.4 1434.5L2650.6 1432.2L2650.6 1430.3L2650.7 1429.4L2650.8 1427.8L2650.9 1426.5L2650.9 1425.7L2651.1 1423.6L2651.1 1422.8L2651.2 1420.7L2651.3 1419.5L2651.4 1417.8L2651.5 1415.9L2651.5 1413.4L2651.6 1412.4L2651.6 1409L2651.7 1405.6L2651.8 1403.7L2651.8 1402.3M2652 1397.4h0L2652 1396.6L2652.1 1395.1L2652.2 1392.6L2652.3 1391L2652.5 1389.8L2652.5 1387.9L2652.6 1387.1L2652.6 1384.6L2652.7 1383.8L2652.8 1381.7L2652.8 1380.5L2652.9 1379.6L2653 1378.5L2653.1 1376.6L2653.1 1375.1L2653.3 1373.9L2653.4 1372.4L2653.5 1371.3L2653.6 1370.4L2653.7 1368.7L2653.8 1367.9L2653.9 1366.5L2654 1365.5L2654.1 1364.5L2654.2 1363L2654.3 1361.8L2654.5 1360.7L2654.6 1359.8L2654.7 1358L2654.8 1357.2L2654.9 1356.1L2655 1355L2655.2 1353.9L2655.3 1352.9L2655.4 1351.2L2655.5 1349.3L2655.6 1348.4L2655.7 1346.7L2655.9 1345.6L2656 1344.3L2656 1343.3L2656.1 1342.4L2656.2 1341.6L2656.3 1340.4L2656.4 1339.5L2656.5 1338.1L2656.7 1337L2656.7 1335.5L2656.9 1334.6L2656.9 1333.4L2657.1 1332.3L2657.3 1331.2L2657.5 1330.3L2657.6 1329L2657.7 1328.1L2657.9 1327.1L2658.1 1325.5L2658.1 1324.7L2658.2 1323.6L2658.4 1322.3L2658.4 1321.2L2658.6 1318.7L2658.8 1317.7L2658.9 1316.6L2659.1 1315.7L2659.2 1314.6L2659.3 1313.4L2659.5 1312.6L2659.6 1311.4L2659.8 1310.3L2659.9 1309.4L2660 1308.3L2660.1 1307.4L2660.3 1305.9L2660.4 1304.3L2660.6 1303.3L2660.7 1301.4L2660.9 1300.4L2661.1 1299.4L2661.2 1298.4L2661.3 1297.1L2661.4 1296.1L2661.6 1295L2661.8 1294.1L2662 1293L2662.1 1292.2L2662.3 1291.3L2662.5 1290.2L2662.7 1289.2L2662.8 1288.4L2663 1287.2L2663.2 1286.3L2663.4 1285.5L2663.6 1284.4L2663.7 1283.5L2663.9 1282.5L2664.1 1280.8L2664.3 1279.9L2664.4 1279.1L2664.6 1278.3L2664.7 1277.1L2664.9 1275.6L2665 1274.2L2665.2 1273.1L2665.4 1272.3L2665.4 1271L2665.6 1269.9L2665.8 1268.9L2665.9 1267.9L2666 1267.1L2666 1266.2L2666.2 1265.4L2666.4 1264.3L2666.7 1262.9L2666.8 1262L2667 1260.5L2667.2 1259.5L2667.4 1258.6L2667.5 1257.4L2667.6 1256.6L2667.7 1254.9L2667.9 1254L2668.1 1252.6L2668.3 1251.6L2668.4 1250.8L2668.6 1249.8L2668.8 1249L2669 1247.9L2669.1 1247L2669.3 1245.7L2669.4 1244.9L2669.6 1243.5L2669.7 1242.3L2669.9 1241.3L2670.1 1240.5L2670.4 1239.5L2670.5 1238.6L2670.7 1237.7L2671 1236.7L2671.1 1235.9L2671.2 1234.6L2671.3 1233.4L2671.5 1232.4L2671.6 1231.5L2671.8 1230.6L2672 1229.4L2672.2 1228.3L2672.3 1227.1L2672.4 1226L2672.5 1225.1L2672.7 1224L2672.9 1223.2L2673 1221.7L2673.2 1220.7L2673.3 1219.6L2673.5 1218.6L2673.8 1217.7L2674 1216.8L2674.2 1215.9L2674.3 1215L2674.5 1213.6L2674.6 1212.6L2674.7 1211.7L2674.9 1210.7L2675.1 1209.6L2675.2 1208.5L2675.4 1207.6L2675.6 1205.7L2675.8 1204.4L2675.9 1203.5L2676.1 1202.3L2676.2 1200.9L2676.3 1200.1L2676.5 1199L2676.7 1198.2L2676.8 1197.3L2677 1196.5L2677.2 1195.5L2677.3 1194.6L2677.4 1193.5L2677.5 1192.6L2677.7 1191.6L2677.9 1189.8L2678 1188.8L2678.1 1187.9L2678.3 1185.8L2678.4 1184.3L2678.5 1183.4L2678.6 1182.5L2678.7 1181.1L2678.9 1180.1L2679 1178.3L2679.1 1177L2679.2 1176.1L2679.3 1174.8L2679.4 1173.7L2679.6 1172.5L2679.7 1171.7L2679.8 1170.5L2679.9 1169.6L2680 1168.3L2680.1 1167.1L2680.1 1166.2L2680.3 1163.5L2680.3 1162.1L2680.4 1160.8L2680.5 1159.9L2680.6 1158.5L2680.6 1157.5L2680.8 1156.2L2680.8 1154.7L2680.9 1153.6L2681 1152.4L2681 1151.5L2681.1 1150.3L2681.3 1148.8L2681.4 1146.9L2681.5 1145.2L2681.6 1143.3L2681.7 1141.8L2681.8 1141L2681.8 1139.5L2681.9 1138.3M2682 1130.5h0L2682.1 1129.3L2682.2 1128.2L2682.2 1126.1L2682.3 1125.2L2682.3 1122.7L2682.4 1121.4L2682.5 1120.4L2682.5 1119.4L2682.6 1117.1L2682.7 1116.1L2682.7 1114.4L2682.8 1112.7L2682.8 1110.2L2682.9 1108.8L2683 1107.7L2683 1106.4L2683.1 1104.3L2683.2 1102.1L2683.2 1100.5M2683.3 1095.9h0L2683.4 1092.7M2683.4 1086.8h0L2683.5 1082.6M2683.5 1078h0L2683.6 1075.1L2683.7 1071.5L2683.7 1067.8L2683.8 1064L2683.9 1062.4L2683.9 1060.1L2684 1057.9L2684 1055.9L2684.1 1054.2M2684.2 1048.5h0L2684.2 1046.9L2684.3 1044.9M2684.4 1039.3h0L2684.4 1037.1L2684.5 1035.5L2684.5 1033.7M2684.3 864.1h0M2684.3 852.4h0M2684.3 713.8h0M2732 1681h0M2731.8 1597.5h0M2731.9 1562.6h0M2732.1 1526.7h0M2732.3 1521.2h0M2732.4 1515.1h0M2732.6 1509.2h0M2732.8 1500.3h0M2732.9 1495.4h0M2733.1 1490.7h0M2733.3 1486h0M2733.4 1476.5h0M2733.6 1471.8h0M2733.8 1465.6h0L2733.9 1461.4M2734.1 1445.6h0M2734.3 1434.1h0L2734.4 1429.9M2734.6 1419.4h0L2734.8 1415.6L2734.9 1412.3L2735.1 1408.5L2735.3 1406.2L2735.4 1404.4M2735.6 1398.6h0L2735.8 1397L2735.9 1395.6L2736.1 1393.4M2736.3 1387.6h0L2736.4 1386.1L2736.6 1382.7L2736.8 1380L2736.9 1378.3L2737.1 1376.5L2737.3 1375.4L2737.4 1373.7L2737.6 1371.9L2737.8 1369.7L2737.9 1368.3L2738.1 1364.6L2738.3 1362.3L2738.4 1361.4L2738.6 1359.3L2738.8 1357.1L2738.9 1355.8L2739.1 1351.7L2739.3 1350.5L2739.4 1347.9L2739.8 1345.7L2739.9 1344.8L2740.3 1341.4L2740.4 1340.5L2740.6 1339.1L2740.8 1338.1L2740.9 1336.2L2741.1 1334.4L2741.3 1333.5L2741.4 1332.5L2741.6 1330.9L2741.8 1329.6L2741.9 1328.4L2742.3 1326.6L2742.4 1325.7L2742.6 1323.5L2742.8 1322.3L2743.1 1320.9L2743.3 1319L2743.6 1316.8L2743.8 1314.4L2743.9 1313.6L2744.3 1311.9L2744.4 1311.1L2744.7 1309.7L2744.9 1308.9L2745.1 1307.2L2745.2 1303.9L2745.4 1302.3L2745.6 1301.3L2745.7 1300.4L2745.9 1299.5L2746.1 1298.7L2746.2 1297.7L2746.6 1296.1L2746.7 1295.3L2747.1 1293.6L2747.2 1291L2747.4 1289.9L2747.6 1287.9L2747.7 1286.7L2747.9 1285.7L2748.1 1283.9L2748.2 1282.6L2748.4 1281.6L2748.6 1280.1L2748.7 1277.8L2749.1 1276.4L2749.2 1275L2749.4 1273.6L2749.7 1271.3L2749.9 1270.4L2750.2 1267.9L2750.4 1264L2750.6 1262.8L2750.7 1261.8L2750.9 1259L2751.1 1257.4L2751.2 1256.2L2751.6 1252.1L2751.9 1248.8L2752.1 1247.8L2752.2 1247L2752.4 1246.2L2752.6 1244.5L2752.7 1243.7L2752.9 1242.4L2753.2 1240.2L2753.4 1237.2L2753.7 1235.3L2753.9 1234.4L2754.2 1232.7L2754.4 1230.9L2754.7 1229.6L2755.1 1227.9L2755.2 1227.1L2755.4 1224.3L2755.7 1222.9L2755.9 1221.3L2756.1 1218.3L2756.4 1216.9L2756.7 1215.1L2756.9 1213.7L2757.1 1212.9L2757.2 1212L2757.6 1209.8L2757.9 1207.2L2758.1 1205.3L2758.2 1204L2758.4 1203.1L2758.6 1201.4L2758.7 1200.6L2758.9 1199.8L2759.1 1199L2759.2 1197.8L2759.4 1196.7L2759.6 1195.9L2759.7 1195.1L2759.9 1192.5L2760.1 1190.1L2760.2 1188.4L2760.4 1186.9L2760.6 1185.7L2760.7 1183.5L2760.9 1181.6L2761.1 1179.8L2761.2 1178.6L2761.4 1176.7L2761.6 1175.1L2761.7 1174L2761.9 1171.6L2762.1 1168.9L2762.2 1167.3L2762.4 1163.9L2762.6 1161.5L2762.7 1159L2762.9 1157.1L2763.1 1154.6L2763.2 1150.6M2763.4 1142.1h0M2763.6 1133h0L2763.7 1130.7M2763.9 1122.6h0L2764.1 1119.1M2764.2 1113.6h0M2764.4 1100.9h0M2764.6 1095.9h0M2764.7 1087.7h0M2764.9 1076.2h0M2765 1066.6h0M2765.2 1047.1h0M2765.4 1005.1h0M2765.5 993.6h0M2765.7 980.7h0M2765.9 964.7h0M2766 932.6h0M2766.2 884.4h0M2766.4 870.5h0M2766.5 836h0M2766.7 792.3h0M2814 1552.4h0L2814.2 1548.7L2814.4 1545.5L2814.6 1541.7L2814.8 1539.6L2815 1538.5L2815.1 1537.3L2815.3 1536.1L2815.5 1533.5L2815.7 1532.4L2815.9 1531.3L2816.1 1530.1M2816.3 1523.5h0M2816.5 1519h0L2816.7 1515.5L2816.8 1511.9L2817 1510.5L2817.2 1509L2817.4 1507.7L2817.6 1505.5L2817.8 1503L2818 1501.8L2818.4 1499.5L2818.6 1498.5L2818.7 1497.2L2818.9 1496.5L2819.3 1494.4L2819.5 1492.4L2819.7 1491.4L2819.9 1489.8L2820.1 1489L2820.5 1486.9L2820.8 1485.6L2821 1483.9L2821.2 1480.9L2821.6 1479.6L2821.8 1478.4L2822 1477.1L2822.4 1475.1L2822.5 1473.2L2822.9 1471.7L2823.1 1470.9L2823.3 1470L2823.5 1468.5L2823.9 1467.5L2824.1 1465.9L2824.2 1464.7L2824.6 1463.4L2825 1462L2825.2 1460.5L2825.6 1458.1L2826 1456.7L2826.3 1455.4L2826.5 1454.3L2826.7 1453.1L2827.1 1451.8L2827.3 1450.9L2827.7 1449.7L2827.9 1448.7L2828 1447.8L2828.2 1447L2828.4 1446.1L2828.8 1445L2829.2 1443.8L2829.6 1441.2L2829.8 1440.2L2830.1 1439.1L2830.5 1436.3L2830.9 1435.3L2831.1 1434.5L2831.3 1432L2831.5 1429.5L2831.8 1428.5L2832.2 1426.6L2832.4 1424.3L2832.6 1423.4L2833 1422.5L2833.4 1421.4L2833.5 1420.5L2833.7 1419.7L2833.9 1418.7L2834.3 1416.6L2834.5 1415.5L2834.7 1414.4L2834.9 1413.5L2835.1 1412.6L2835.3 1411.4L2835.6 1409.9L2836 1408.2L2836.2 1407.2L2836.6 1405.5L2836.8 1404.2L2837 1403.4L2837.2 1401.8L2837.3 1400.7L2837.5 1399.7L2837.7 1398.6L2837.9 1397.6L2838.1 1396.4L2838.5 1395L2838.7 1394.2L2839.1 1391.6L2839.2 1389.8L2839.4 1388.8L2839.6 1387.2L2840 1384.2L2840.2 1383.3L2840.6 1381.7L2840.8 1379.2L2841.1 1377.1L2841.3 1376.1L2841.5 1373.6L2841.7 1372.5L2841.9 1371.1L2842.1 1370.3L2842.3 1369.1L2842.5 1367.5L2842.7 1366.3L2842.8 1364.5L2843 1362.3L2843.4 1360.8L2843.6 1359.4L2843.8 1357.7L2844 1356.6L2844.2 1353.2L2844.4 1349.9L2844.6 1348.7L2844.7 1346.8L2844.9 1345.8L2845.1 1343.6L2845.3 1341.3L2845.5 1337.5L2845.7 1335.8L2845.9 1334.1L2846.1 1331.8L2846.3 1329.5M2846.5 1325.1h0L2846.6 1322.9M2846.8 1316h0L2847 1313.6L2847.2 1312L2847.4 1310.4L2847.6 1308.6L2847.8 1306.1L2848 1302.5L2848.2 1299.6L2848.4 1297.4M2848.5 1291.7h0M2848.7 1284.3h0M2848.9 1273.4h0M2896.4 1495.6h0M2896.2 1452.1h0L2896.3 1448.2M2896.4 1444h0M2896.5 1439.6h0M2896.6 1434.1h0L2896.7 1431.9L2896.8 1429.5M2896.9 1421.7h0L2897 1418.5M2897.1 1413.3h0L2897.2 1410.3L2897.3 1407.8L2897.4 1404.7L2897.5 1401.7L2897.6 1398.2L2897.7 1394.4M2897.8 1388.5h0M2897.9 1382.8h0M2898.1 1372.4h0L2898.2 1369.3L2898.3 1366.5M2898.4 1359.4h0L2898.5 1357.3L2898.6 1354.6L2898.7 1351.1M2898.8 1346.2h0L2898.9 1344.1L2899 1341.9L2899.1 1338.7L2899.2 1337.2L2899.3 1334.5M2899.4 1329.4h0L2899.5 1328.3L2899.6 1327.3L2899.7 1324.9L2899.8 1322.6L2899.9 1320.7L2900 1317L2900.1 1314.7L2900.2 1313.7L2900.3 1312L2900.4 1311.1L2900.6 1309.6L2900.7 1307.8L2900.8 1305.5L2900.9 1304.4L2901 1302.5L2901.1 1300.8L2901.3 1299.2L2901.4 1297.1L2901.5 1295.2L2901.6 1293.1L2901.7 1292.1L2901.8 1291.1L2901.9 1289.7L2902 1288L2902.1 1286.1L2902.2 1284.7L2902.3 1282.7L2902.5 1281.2L2902.7 1280.1L2902.8 1279.1L2903.1 1277.9L2903.3 1277L2903.5 1275.2L2903.7 1273.9L2903.8 1272.9L2903.9 1271.8L2904 1270.9L2904.2 1268.9L2904.3 1267.3L2904.4 1265.1L2904.6 1263.8L2904.8 1261.9L2904.9 1260.6L2905.1 1259.3L2905.2 1258.4L2905.3 1257.6L2905.6 1256.4L2905.8 1255.1L2906 1254.2L2906.1 1252.7L2906.2 1251.7L2906.4 1250L2906.7 1248.9L2906.8 1247.5L2907 1245.6L2907.2 1244.3L2907.4 1242.9L2907.6 1242L2907.8 1240.8L2907.9 1237.8L2908.1 1237L2908.3 1235.1L2908.5 1234L2908.6 1232.4L2908.8 1231.3L2909 1230L2909.2 1228.8L2909.4 1227.8L2909.6 1226.8L2909.7 1223.9L2909.8 1222.9L2910 1221.1L2910.1 1220.3L2910.2 1219.1L2910.5 1218.2L2910.6 1216.5L2910.7 1215.7L2910.9 1214.4L2911.1 1213.2L2911.2 1212.2L2911.3 1211.4L2911.5 1209.6L2911.7 1207.8L2911.9 1206.6L2912.1 1205.5L2912.3 1204.2L2912.4 1203.3L2912.5 1202.5L2912.7 1201.5L2912.8 1200.2L2913 1199.1L2913.2 1197.7L2913.4 1196.3L2913.6 1195.2L2913.8 1193.9L2914 1192.7L2914.2 1191.4L2914.4 1190.5L2914.5 1189.2L2914.6 1187.9L2914.7 1185.7L2914.9 1183.9L2915.1 1183L2915.2 1181.9L2915.3 1180.9L2915.6 1179.8L2915.8 1177.5L2916 1175.9L2916.1 1174L2916.2 1171.8L2916.4 1170.5L2916.6 1168.2L2916.7 1167.3L2916.9 1166.1L2917 1165.2L2917.1 1164.3L2917.2 1162.6L2917.4 1161.3L2917.6 1160.2L2917.8 1158.7L2918 1156.6L2918.2 1154.9L2918.3 1151.9L2918.5 1150.3L2918.7 1148.7L2918.8 1145.6L2919 1143.2L2919.2 1141.5L2919.3 1140.3L2919.4 1138.9L2919.5 1137.9L2919.6 1134.3L2919.7 1133L2919.8 1131.8L2920 1130.1L2920.2 1128L2920.5 1124.7L2920.6 1123.4L2920.7 1122L2920.8 1120.4L2920.9 1119.5L2921.1 1117L2921.2 1115.4L2921.4 1113.8L2921.5 1112.4L2921.7 1109.1L2921.8 1107.1L2921.9 1105.5L2922 1104.6L2922.1 1102.3L2922.2 1100.9L2922.4 1099.4L2922.5 1097.7L2922.6 1096.3L2922.7 1094.7L2923 1092.8L2923.1 1091.9L2923.2 1089.9L2923.3 1089L2923.4 1087.6L2923.5 1083.7L2923.6 1082L2923.7 1081L2923.8 1080L2923.9 1078.9L2924 1077.9L2924.1 1076.9L2924.2 1073.5L2924.4 1069.8L2924.5 1065.8L2924.6 1064.4L2924.7 1063.4L2924.8 1061.1L2924.9 1059.2L2925 1057.9L2925.1 1054.8L2925.2 1053.9L2925.5 1052.1L2925.6 1050.7L2925.7 1049.2L2925.8 1048.2L2925.9 1047.2L2926 1046.3L2926.1 1044.8L2926.2 1043.1L2926.3 1042.3L2926.4 1039.8L2926.5 1037.9L2926.6 1037L2926.7 1034.3L2926.8 1033.1L2926.9 1032.1L2927 1031.2L2927.1 1029.5L2927.2 1028.6L2927.3 1027.8L2927.4 1026.2L2927.5 1024.7L2927.6 1023.8L2927.7 1022.9L2927.8 1021.9L2928 1021.1L2928.1 1020L2928.2 1017.1L2928.3 1015.2L2928.4 1012.5L2928.5 1009.9L2928.6 1009.1L2928.8 1007.4L2928.9 1006.3L2929 1005.4L2929.1 1004.3L2929.2 1003L2929.3 1001.1L2929.4 999.8L2929.5 999L2929.6 997.8L2929.8 994.9L2929.9 993.6L2930 992L2930.2 990.5L2930.5 989.2L2930.7 986.6L2930.8 984.5L2931 983.3L2931.2 981.1M2930.9 880.8h0M2978.4 1681h0L2979.2 1681L2980.1 1681L2980.8 1680.2L2981.2 1679.4L2981.6 1678.6L2981.8 1677.6L2982.2 1676.7L2982.6 1675.7L2982.8 1674.9L2983.2 1674.1L2983.5 1673.2L2983.8 1672.2L2984.2 1671.2L2984.4 1670.4L2984.8 1669.1L2985 1668.2L2985.2 1667.2L2985.4 1666.4L2985.5 1665.4L2985.7 1663.9L2986 1663.2L2986.3 1661.9L2986.5 1660.9L2986.7 1659.8L2987 1658.9L2987.3 1657.9L2987.5 1656.6L2987.7 1655.6L2987.9 1654.6L2988.1 1653.4L2988.3 1652.5L2988.5 1651.7L2988.9 1650.7L2989.2 1649.6L2989.4 1648.4L2989.6 1647.3L2989.9 1646.4L2990.1 1645.6L2990.3 1644.7L2990.6 1643.2L2990.9 1642.3L2991.2 1641.4L2991.4 1640.3L2991.7 1639.3L2991.9 1638.1L2992 1637.3L2992.3 1636.2L2992.6 1634.8L2992.8 1633.9L2993.1 1632.3L2993.4 1631.2L2993.7 1629.9L2994 1628.9L2994.3 1628.1L2994.6 1627.3L2994.7 1626.5L2994.9 1625.5L2995.1 1624.6L2995.5 1623.5L2995.8 1622.4L2996.1 1621.6L2996.3 1620.7L2996.6 1619.6L2996.7 1618.6L2996.9 1617.7L2997.1 1616.8L2997.3 1615.4L2997.7 1614.5L2997.9 1613.6L2998.1 1612.3L2998.3 1611.3L2998.5 1610.5L2998.7 1609.7L2999 1608.7L2999.1 1607.6L2999.3 1606.5L2999.6 1604.7L2999.8 1603.8L3000 1603L3000.4 1602L3000.6 1601.1L3000.7 1600L3000.9 1598.9L3001.1 1597.8L3001.4 1596.3L3001.7 1595.2L3001.9 1593.9L3002 1592.6L3002.1 1591.7L3002.3 1590.5L3002.4 1589.6L3002.5 1588.3L3002.8 1586.8L3003 1585.4L3003.3 1584.4L3003.5 1583.3L3003.7 1581.8L3003.8 1580.5L3004 1579.6L3004.2 1578.6L3004.4 1577.6L3004.6 1576.6L3004.7 1575.7L3004.9 1574.5L3005.1 1573.1L3005.2 1571.8L3005.3 1571L3005.4 1570.1L3005.5 1568.9L3005.7 1567.7L3005.9 1566.4L3006 1563.2L3006.3 1561.7L3006.5 1560.3L3006.6 1559.5L3006.7 1557.9L3006.9 1556.4L3007.1 1555L3007.3 1552.7L3007.4 1551.8L3007.5 1550L3007.7 1548.6L3007.9 1546.8L3008 1544.5L3008.2 1542.9L3008.3 1541.6L3008.4 1540.8L3008.5 1538.3L3008.6 1536.6L3008.7 1534.4L3008.8 1533.3L3008.9 1529.8L3009.1 1526.7L3009.2 1524.3L3009.3 1520.4L3009.4 1518.9L3009.5 1517.4L3009.6 1516L3009.7 1514.8L3009.8 1512.5L3009.9 1511.3L3010 1509.9L3010.1 1506.3L3010.2 1502.6L3010.3 1499.6L3010.4 1495.5L3010.5 1493L3010.6 1490.6L3010.7 1487.5L3010.8 1484.9L3010.9 1481.9M3011 1476.5h0M3011.1 1471.3h0M3011.2 1463.3h0M3011.3 1456.6h0M3011.4 1450h0M3011.5 1440.2h0M3011.6 1426.6h0L3011.7 1422.9M3011.8 1416.2h0L3012 1412.1M3012.1 1407h0M3012.2 1400.4h0L3012.3 1396.4L3012.4 1392.5L3012.5 1388.6M3012.6 1382.3h0M3012.7 1376.8h0M3012.8 1370.9h0L3012.9 1366.8L3013 1362.9M3013.1 1352.9h0M3013.2 1348.5h0L3013.3 1344.4M3013.4 1335.2h0M3013.2 1278.4h0M3013.2 1226.6h0M3013.2 1108h0M3060.8 1621.7h0M3061.1 1616.2h0L3061.5 1612.5L3061.9 1609.7L3062.3 1607.7L3062.7 1605.9L3063.1 1604.3M3063.5 1598.7h0L3063.8 1595.8L3064.2 1592.9L3064.6 1590.8L3065 1587.1L3065.4 1585.2M3065.8 1577.6h0L3066.2 1574.4L3066.5 1570.7L3066.9 1567.4L3067.3 1565.8L3067.7 1563.5M3068.1 1559.1h0M3068.5 1554.4h0L3068.9 1550.6L3069.2 1548.7L3069.6 1545.8L3070 1542.9L3070.4 1539.2L3070.8 1536.3M3071.2 1530.6h0L3071.6 1528.1M3071.9 1523.6h0L3072.3 1520.9L3072.7 1518.2L3073.1 1514.8L3073.5 1512.2L3073.9 1509.5M3074.3 1502.7h0L3074.6 1500.3L3075 1497.5L3075.4 1493.8L3075.8 1492.2L3076.2 1489.7L3076.6 1485.6M3077 1479.1h0L3077.3 1477.1L3077.7 1475.3L3078.1 1471.3L3078.5 1467.8M3078.9 1461.6h0M3079.3 1456.2h0L3079.7 1453.1M3080 1444.7h0L3080.4 1441.8L3080.8 1439.8L3081.2 1437L3081.6 1433.6M3082 1428.2h0M3082.4 1421.6h0L3082.7 1418.6M3083.1 1410.8h0M3083.5 1404.9h0L3083.9 1402L3084.3 1398.1M3084.7 1391.9h0M3085.1 1387.1h0M3085.4 1382h0M3085.8 1377h0M3086.2 1372.2h0M3086.6 1366.6h0L3087 1363.1M3087.4 1357.9h0M3087.8 1352.2h0L3088.1 1348.6M3088.5 1344.2h0L3088.9 1340.5M3089.3 1336.3h0M3089.7 1326.8h0L3090.1 1322.6M3090.5 1313.9h0M3090.8 1307.1h0M3091.2 1289.3h0M3091.6 1269.9h0M3092 1254.4h0M3092.4 1245.1h0M3092.8 1214.2h0M3093.2 1201.5h0M3093.5 1180.6h0M3093.9 1156.5h0M3094.3 1111.7h0M3094.7 1097.6h0M3095.1 1082.7h0M3095.5 1057.9h0M3143 1621.7h0L3143.5 1618.4L3143.9 1616.4L3144.4 1614.3M3144.8 1609.8h0L3145.3 1607.8L3145.7 1604.4L3146.2 1601.5M3146.6 1596.2h0L3147.1 1594.2L3147.5 1591.2L3148 1588.8L3148.4 1585.9M3148.9 1578.5h0L3149.3 1576.3L3149.8 1574.1M3150.2 1568.2h0L3150.7 1564.3L3151.1 1562.1L3151.6 1559.4M3152 1548.8h0L3152.5 1545.2L3152.9 1543.5L3153.4 1541.4L3153.8 1539.2L3154.3 1537.5L3154.7 1534L3155.2 1530.7L3155.6 1528.4L3156.1 1526.3M3156.5 1521h0L3157 1518.8L3157.4 1515.3L3157.9 1513.6L3158.3 1512L3158.8 1510.2L3159.2 1508.6L3159.7 1504.8L3160.1 1503.2L3160.6 1499.6L3161 1497.3M3161.5 1493h0L3161.9 1489L3162.4 1486M3162.8 1475.3h0L3163.3 1472.8M3163.7 1465.7h0M3164.2 1460.6h0M3164.6 1456h0L3165.1 1453.2M3165.5 1447.7h0M3166 1435.8h0M3166.4 1430h0L3166.9 1426.8M3167.3 1421.7h0M3167.8 1415.3h0M3168.2 1410h0L3168.7 1406.7M3169.1 1394.4h0L3169.6 1390.6M3170 1377.1h0M3170.5 1372.3h0L3170.9 1368.5M3171.4 1361h0M3171.8 1350.6h0M3172.3 1343.6h0M3172.7 1332.3h0M3173.2 1319.8h0M3173.6 1302.2h0M3174.1 1292.8h0M3174.5 1277.6h0M3175 1268.1h0M3175.4 1254.9h0M3175.9 1250.2h0L3176.3 1246.7M3176.8 1236.6h0M3177.2 1229h0L3177.7 1225"/>
<path stroke="#E8465A" stroke-width="6" d="M595.1 1625.7h0M595.6 1613.8h0M596.1 1606.9h0M596.5 1597h0M597 1579.2h0M597.4 1572.2h0M597.9 1552.2h0M598.3 1539.8h0M598.8 1535.2h0M599.2 1529.3h0M599.7 1522.7h0M600.2 1506h0M600.6 1498.8h0M602 1478.1h0M602.4 1469.3h0M602.9 1462.9h0M603.3 1456.7h0M603.8 1448.9h0M604.3 1441.8h0M605.6 1423.6h0M606.1 1414.1h0M606.5 1399.3h0M607 1393.7h0M607.5 1387.6h0M607.9 1382.2h0M608.4 1374.9h0M608.8 1361.4h0M609.3 1357.2h0M610.6 1334.8h0M613.4 1305.9h0M613.8 1299.4h0M614.3 1285.4h0M614.7 1279.7h0M615.2 1274.3h0M615.7 1268.6h0M616.1 1262.2h0M616.6 1257.8h0M617 1253h0M618.4 1231.3h0M618.9 1224.3h0M619.3 1219h0M619.8 1209.8h0M620.2 1188.1h0M620.7 1171.8h0M621.1 1161.5h0M621.6 1156h0M622 1144.9h0M622.5 1139.1h0M623 1132h0M623.4 1122.7h0M623.9 1118.2h0M625.7 1093.9h0M626.1 1087h0M626.6 1080.4h0M627.1 1072.9h0M628.8 982.7h0M628.8 925.9h0M628.8 892.5h0M628.8 850.8h0M676.5 1655.9h0M676.5 1639.2h0M676.5 1625.9h0M676.5 1610.8h0M676.3 1589.1h0M676.3 1544.8h0M676.4 1530.5h0M676.5 1505.7h0M676.6 1497.9h0M676.7 1477.7h0M676.8 1472.2h0M676.9 1466h0M677 1460.2h0M677 1452.7h0M677.1 1435.7h0M677.2 1431h0M677.3 1424.7h0M677.4 1402.5h0M677.5 1396.4h0M677.7 1369.2h0M678.8 1320.9h0M679.2 1301.3h0M708.5 821.6h0M709.4 789h0M709.5 783.5h0M709.5 777.4h0M709.6 772.9h0M709.7 768.5h0M709.8 763h0M709.9 757.4h0M710 752.4h0M710.6 720.9h0M710.7 713.9h0M710.8 701.1h0M710.9 689.9h0M710.9 685.6h0M711 680h0M711.3 667h0M711 638.6h0M711 605.2h0M711 581.8h0M758.7 1595.8h0M758.7 1497.2h0M758.7 1473.9h0M758.7 1430.4h0M758.5 1408.7h0M758.6 1385.9h0M758.6 1377.8h0M758.7 1360.1h0M758.7 1346.2h0M758.7 1339h0M758.8 1333.5h0M758.8 1320h0M758.8 1313.4h0M758.9 1299.7h0M759 1293.2h0M759.1 1271.5h0M759.2 1257.6h0M759.2 1249.2h0M759.2 1241.4h0M759.3 1235.9h0M759.3 1229.4h0M759.3 1224.3h0M759.4 1219.5h0M759.4 1214.8h0M759.4 1209.4h0M793.2 419.8h0M793.2 366.3h0M840.7 1619.2h0M840.8 1593.6h0M840.9 1582.7h0M841.1 1562.3h0M841.2 1541.4h0M841.3 1532.6h0M841.4 1517.9h0M841.5 1507.6h0M841.6 1498h0M841.7 1489.4h0M841.9 1479h0M842 1435.7h0M842.1 1425.1h0M842.2 1409.3h0M842.3 1399.5h0M842.4 1385.5h0M842.5 1379.3h0M842.7 1347.8h0M842.8 1340.3h0M842.9 1334.5h0M843 1330.2h0M843.1 1321.6h0M843.2 1315h0M843.4 1308.3h0M846.2 1224.7h0M873.1 814h0M873.2 807.6h0M873.3 801.6h0M873.4 797.2h0M873.5 787.5h0M873.6 779.6h0M873.8 773.6h0M873.9 767.3h0M874 762h0M874.1 755.9h0M874.2 741.8h0M874.3 727.3h0M874.4 708.9h0M874.6 696.4h0M874.7 682.3h0M874.8 671.9h0M874.9 664.5h0M875 659.8h0M875.1 652.9h0M875.2 648h0M875.4 642.9h0M875.5 633.6h0M875.6 628.3h0M875.7 618.6h0M923.4 1223.3h0M924.3 1181.5h0M925.3 1156.3h0M926.3 1131.9h0M927.3 1098.7h0M928.2 1037.9h0M929.2 998.8h0M930.2 993.1h0M931.2 982.3h0M932.1 977.4h0M933.1 958.5h0M934.1 940.2h0M935.1 933.9h0M936 915.5h0M937 908.7h0M938 886.4h0M939 869.3h0M939.9 862.6h0M940.9 843.2h0M941.9 829.2h0M942.9 823.5h0M943.8 803.3h0M944.8 779.7h0M945.8 774.5h0M946.8 767.8h0M947.7 755.5h0M948.7 746h0M949.7 733.4h0M950.7 729.2h0M951.6 693.8h0M952.6 672.7h0M953.6 619.7h0M954.6 596.9h0M955.5 581.3h0M956.5 549.7h0M957.5 513.3h0M1005.2 1594.1h0M1005.3 1553.9h0M1005.4 1533.1h0M1005.5 1503.7h0M1005.7 1491.2h0M1005.8 1477.8h0M1005.9 1452.4h0M1006.1 1424.9h0M1006.2 1411.7h0M1006.3 1385.1h0M1006.4 1355.2h0M1006.6 1329.9h0M1006.7 1295.9h0M1006.8 1278.3h0M1006.9 1267.4h0M1007.1 1254.7h0M1007.2 1242.7h0M1007.3 1218.6h0M1007.5 1210.1h0M1007.6 1203.6h0M1007.7 1196.5h0M1007.8 1189.2h0M1008 1181.9h0M1036.9 834.3h0M1038.7 778.2h0M1039.1 764.4h0M1039.8 735.7h0M1039.9 730.7h0M1095.2 1646.4h0M1097.4 1630.5h0M1108.6 1547.7h0M1109.3 1541.8h0M1110.1 1524.9h0M1110.8 1513.5h0M1111.6 1505.5h0M1112.3 1495.3h0M1113.1 1485h0M1113.8 1477.8h0M1114.6 1470.7h0M1116.8 1410.3h0M1117.6 1370.9h0M1118.3 1348.8h0M1119.1 1339.2h0M1119.8 1332.3h0M1120.6 1309.1h0M1122.1 757.2h0M1169.6 1519h0M1169.8 1513.8h0M1170 1507.4h0M1170.2 1498.4h0M1170.4 1476.4h0M1170.6 1470.1h0M1170.8 1455.2h0M1171 1437.3h0M1171.2 1428.3h0M1171.4 1414.4h0M1171.6 1396.6h0M1171.7 1380.7h0M1171.9 1350.8h0M1172.1 1345.1h0M1172.3 1338.7h0M1172.5 1331.8h0M1172.7 1325.4h0M1172.9 1317.8h0M1173.1 1309.5h0M1173.7 1290.4h0M1174.5 1269.5h0M1174.6 1264.8h0M1174.8 1252.5h0M1175.8 1232.7h0M1177.2 1200.3h0M1179.1 1162h0M1179.3 1157.4h0M1179.5 1149.1h0M1179.7 1144.3h0M1183.3 1085.2h0M1183.5 1075.8h0M1190.5 956.7h0M1190.7 952.2h0M1193.9 893.9h0M1194.9 875.9h0M1196.6 838.9h0M1198.6 791.5h0M1199.1 776.3h0M1199.3 769.1h0M1199.5 762.2h0M1201.5 723.8h0M1202.4 694h0M1202.6 688.6h0M1202.8 681.9h0M1203 675.8h0M1204.5 640.3h0M1204.3 541.7h0M1252 1540.7h0M1252 1433.8h0M1252 1427.1h0M1252 1403.7h0M1252 1350.2h0M1252 1323.5h0M1252 1263.4h0M1251.9 1221.6h0M1252.1 1206.8h0M1252.3 1194.2h0M1252.5 1186.8h0M1252.7 1180.2h0M1252.9 1163.8h0M1253.2 1153.9h0M1253.4 1142.1h0M1253.6 1131.2h0M1253.8 1115.7h0M1254 1105.8h0M1254.2 1097.6h0M1254.4 1085.6h0M1254.7 1080.3h0M1254.9 1071.8h0M1255.5 1057.4h0M1257.2 1022.7h0M1281.2 757h0M1281.4 748.1h0M1283.1 694.7h0M1284.4 664.9h0M1284.6 660.4h0M1284.8 654.7h0M1285 649.5h0M1285.2 637.9h0M1286.1 609.4h0M1286.8 590.2h0M1286.6 508.3h0M1286.6 484.9h0M1334 1669.3h0M1334.2 1654.3h0M1334.3 1647.2h0M1334.3 1630.6h0M1334.4 1626.2h0M1334.7 1597h0M1334.8 1589.4h0M1334.9 1581.8h0M1334.9 1577.6h0M1335 1571.1h0M1335.1 1566.6h0M1335.5 1536.4h0M1367.4 934.6h0M1367.4 921h0M1368 882.6h0M1368.1 878.1h0M1368.2 864h0M1368.2 847.4h0M1368.3 836h0M1368.5 813.4h0M1368.6 804.8h0M1368.6 789.8h0M1368.7 784.5h0M1368.8 768.5h0M1368.8 762.5h0M1368.9 758.1h0M1369 741h0M1369 722.1h0M1416.5 1632.6h0M1416.5 1430.4h0M1416.5 1306.8h0M1417 1298.8h0M1417.5 1286.4h0M1418 1269.2h0M1418.6 1244.2h0M1419.1 1237.6h0M1419.6 1232.5h0M1420.2 1225.7h0M1420.7 1219.6h0M1427.1 1170.3h0M1431.3 1135.5h0M1434.5 1092.7h0M1435.1 1085.4h0M1435.6 1081h0M1436.1 1076.2h0M1440.9 1024.5h0M1442.5 1007.8h0M1443.1 1000.9h0M1443.6 991.7h0M1444.1 978.2h0M1444.6 967.9h0M1445.2 960.6h0M1445.7 943.4h0M1446.2 935.9h0M1446.8 914.5h0M1447.3 894.5h0M1447.8 877.6h0M1448.4 851.5h0M1448.9 837.5h0M1449.4 815.4h0M1450 797.9h0M1450.5 743.9h0M1451 703.8h0M1498.4 1602.5h0M1498.5 1595.6h0M1498.6 1589.9h0M1498.6 1582.6h0M1498.7 1576.8h0M1498.8 1567.1h0M1498.8 1561.3h0M1498.9 1552.7h0M1499 1537.3h0M1499 1531.5h0M1499.1 1527h0M1499.2 1518.7h0M1499.4 1495.4h0M1499.4 1489.3h0M1499.5 1470.7h0M1499.6 1460.9h0M1499.6 1455.8h0M1499.7 1445.2h0M1499.9 1431.3h0M1500.1 1415.1h0M1531.5 822.8h0M1532.1 787.6h0M1532.1 779.1h0M1532.2 773.7h0M1532.3 764.9h0M1532.3 758.1h0M1532.4 753.2h0M1532.5 742.4h0M1532.5 736.8h0M1532.6 732.2h0M1532.8 715.1h0M1532.9 706.2h0M1532.9 695.2h0M1533 680.8h0M1533.1 662.8h0M1533.1 656.2h0M1533.2 647.7h0M1533.3 640.8h0M1533.3 636.5h0M1580.9 1402h0M1580.9 1356.9h0M1580.9 1253.4h0M1580.7 1218.3h0M1580.8 1212h0M1580.9 1197h0M1581.1 1192h0M1581.2 1185.8h0M1581.3 1175.7h0M1581.4 1168.9h0M1581.5 1161.4h0M1581.7 1153h0M1581.8 1139.5h0M1581.9 1131.6h0M1582 1127h0M1582.2 1120.1h0M1582.3 1110.3h0M1582.4 1096.5h0M1582.5 1090h0M1582.7 1085.7h0M1582.8 1069.2h0M1582.9 1060.7h0M1583 1049.3h0M1583.1 1044.9h0M1583.3 1030.5h0M1583.4 1025.6h0M1583.5 1018.6h0M1583.9 1005.7h0M1584.2 988.4h0M1611.7 600.4h0M1611.9 596.2h0M1613.2 566.4h0M1615.4 471.6h0M1615.4 459.9h0M1615.4 448.2h0M1615.4 401.4h0M1693.8 1470h0M1694 1460.2h0M1694.6 1436.6h0M1694.8 1426.4h0M1695 1421.3h0M1695.2 1400.2h0M1695.4 1395.1h0M1695.6 1372.4h0M1695.8 1356.4h0M1696 1338.9h0M1696.2 1316.2h0M1696.4 1292.4h0M1696.6 1261.1h0M1696.8 1245.3h0M1697 1215.2h0M1697.2 1190.9h0M1697.4 1146.8h0M1697.6 1098h0M1697.9 1077.9h0M1745.1 1473.9h0M1745.2 1464.6h0M1745.2 1455.7h0M1745.3 1450.1h0M1745.4 1435.9h0M1745.4 1431.4h0M1745.5 1423.5h0M1745.6 1412.6h0M1745.6 1405.8h0M1745.7 1396.9h0M1745.8 1388.6h0M1746 1354.4h0M1746 1343.7h0M1746.1 1335.6h0M1746.2 1329.1h0M1746.7 1292.6h0M1746.7 1286.9h0M1746.8 1275.3h0M1746.9 1270.3h0M1747.1 1251.3h0M1777.9 655.8h0M1778.6 619.7h0M1778.6 615h0M1779.5 561.2h0M1780.1 528.2h0M1780.1 518.3h0M1827.6 1589.1h0M1827.6 1544h0M1827.6 1524h0M1827.3 1477.2h0M1827.4 1460h0M1827.5 1451.9h0M1827.8 1437.7h0M1827.9 1430.6h0M1828 1423.3h0M1828.1 1412.8h0M1828.5 1393.3h0M1829.2 1351.7h0M1829.3 1347.5h0M1829.4 1336.2h0M1855.9 834.6h0M1857 797.7h0M1857.5 772.7h0M1857.6 768h0M1857.7 762.6h0M1857.8 756.6h0M1858.4 730.6h0M1858.5 722h0M1860.8 630.4h0M1862.3 581.8h0M1862.1 540h0M1862.1 528.4h0M1862.1 498.3h0M1862.1 491.6h0M1862.1 469.9h0M1862.1 443.2h0M1909.8 1615.9h0M1909.5 1413.7h0M1909.6 1395.5h0M1909.7 1389.6h0M1909.8 1380.1h0M1909.8 1368.9h0M1909.9 1363.3h0M1910 1346.1h0M1910 1339h0M1910.1 1329.9h0M1910.2 1323.4h0M1910.3 1316.5h0M1910.3 1310.1h0M1910.4 1285.1h0M1910.5 1268.4h0M1910.6 1263.7h0M1910.6 1255.5h0M1910.7 1242.2h0M1910.8 1237.6h0M1910.8 1232.1h0M1911.1 1217.6h0M1911.1 1210.8h0M1911.2 1202.3h0M1911.6 1183h0M1942.8 746.1h0M1942.8 741.7h0M1943.2 721.7h0M1943.3 716.5h0M1943.3 712.2h0M1944.4 660.9h0M1944.4 650.4h0M1944.3 583.5h0M1944.3 555.1h0M1991.9 1616.1h0M1992 1610.4h0M1992.1 1599.7h0M1992.1 1593.8h0M1992.2 1583.7h0M1992.3 1575.3h0M1992.4 1570.3h0M1992.4 1564.8h0M1992.5 1559.1h0M1992.6 1554.4h0M1992.7 1544h0M1992.7 1539.1h0M1992.8 1534.1h0M1992.9 1519.6h0M1993 1510.5h0M1993 1505.3h0M1993.1 1491.9h0M1993.3 1472.9h0M1993.6 1444.1h0M1993.7 1437.5h0M1993.8 1432h0M1994.2 1407.3h0M2024.6 842.2h0M2025.4 798.4h0M2025.4 792.7h0M2025.5 787.1h0M2025.6 782.6h0M2025.7 776.3h0M2025.9 758.3h0M2026.3 727h0M2026.4 721h0M2026.8 686.2h0M2074.1 1519h0M2075.3 1504.2h0M2075.8 1488.7h0M2076.2 1478.8h0M2076.6 1474.3h0M2077 1459.5h0M2077.4 1452h0M2077.8 1447.1h0M2078.2 1440.7h0M2078.6 1429.8h0M2079 1413.4h0M2079.4 1398.4h0M2079.8 1389.3h0M2080.2 1384.1h0M2080.6 1344.6h0M2081 1329.9h0M2081.4 1315.1h0M2081.8 1306.7h0M2082.2 1294.6h0M2082.6 1288.3h0M2083 1272.7h0M2084.2 1247.6h0M2084.6 1239.2h0M2085 1231.4h0M2085.4 1224h0M2085.8 1218.9h0M2087.1 1201.2h0M2088.3 1161.5h0M2088.7 1153h0M2091.1 1120.9h0M2093.1 1095.8h0M2093.5 1089.1h0M2094.7 1074.5h0M2095.1 1069.8h0M2095.5 1060.8h0M2095.9 1053.6h0M2096.3 1047h0M2096.7 1042.1h0M2098.8 999.9h0M2100.4 981h0M2102.8 949.7h0M2103.2 940.5h0M2103.6 935.2h0M2104.8 916.7h0M2106.4 895.4h0M2115.3 1681h0M2115.3 1639.2h0M2115.1 1392h0M2115.2 1376.7h0M2115.3 1367.6h0M2115.3 1352.1h0M2115.4 1347.1h0M2115.5 1331.6h0M2115.6 1322.3h0M2115.7 1296.8h0M2115.7 1288.8h0M2115.8 1269.3h0M2115.9 1258.7h0M2116 1247.3h0M2116.1 1238h0M2116.2 1231.6h0M2116.2 1226.4h0M2116.3 1217.4h0M2116.4 1211.7h0M2117.2 1167.2h0M2149 682.7h0M2149 676.5h0M2149.1 672h0M2149.2 654.6h0M2149.3 648.9h0M2149.4 644.3h0M2149.5 638.9h0M2149.5 633.6h0M2149.8 608h0M2149.9 603.2h0M2150 581.8h0M2150 574.8h0M2150.1 568.4h0M2149.9 530h0M2197.6 1580.8h0M2197.4 1468.8h0M2197.6 1458.9h0M2197.8 1452.5h0M2198.3 1439.7h0M2198.5 1431.8h0M2198.7 1422h0M2198.9 1410.8h0M2199.1 1400.2h0M2199.3 1388.2h0M2199.5 1371.9h0M2199.7 1361.2h0M2199.9 1353.9h0M2205.4 1244.6h0M2209.5 1192h0M2211.3 1163.1h0M2218.2 1075.6h0M2220.5 1040.3h0M2222.5 1005.4h0M2227.6 920.2h0M2227.8 909.8h0M2228.4 896.2h0M2230.1 854.8h0M2230.3 848h0M2230.5 842.8h0M2230.7 836.3h0M2230.9 823.7h0M2231.1 817.5h0M2279.8 1298.5h0M2279.6 1129.7h0M2279.8 1117h0M2280 1108.3h0M2280.2 1099.8h0M2280.5 1092.1h0M2280.7 1078h0M2280.9 1071.6h0M2281.1 1067h0M2281.3 1047.7h0M2281.5 1043.2h0M2281.8 1030h0M2282 1025.3h0M2282.2 1014.6h0M2282.4 1004.3h0M2284.4 960h0M2284.6 953.4h0M2284.8 949.1h0M2285 943.4h0M2285.7 928.7h0M2285.9 921.2h0M2287 896.5h0M2288.9 863.9h0M2289.1 854.4h0M2289.3 848.2h0M2313.2 555.4h0M2313.8 535.3h0M2314.5 511.6h0M2362 1579.1h0M2361.7 1308.5h0M2361.8 1300h0M2361.9 1290.8h0M2362.2 1267.6h0M2362.5 1238.1h0M2362.6 1231.4h0M2362.7 1220.4h0M2363 1201.9h0M2363.7 1165.1h0M2395.5 741h0M2395.6 731.9h0M2444.1 1428.8h0M2444.5 1407.1h0M2444.9 1391.3h0M2445.3 1383.6h0M2445.6 1370.7h0M2446 1359.4h0M2446.4 1337.2h0M2446.8 1326.1h0M2447.2 1312.4h0M2447.5 1304.3h0M2447.9 1279h0M2448.3 1267.8h0M2448.7 1262.3h0M2449.1 1257.2h0M2449.5 1250.9h0M2449.8 1246.6h0M2450.2 1239.5h0M2450.6 1229h0M2451 1222.1h0M2451.4 1215.6h0M2451.7 1206.8h0M2452.1 1199.1h0M2452.5 1191.6h0M2452.9 1186.5h0M2453.3 1174.7h0M2456.3 1137.6h0M2456.7 1131.8h0M2457.1 1126.4h0M2459.4 1100.2h0M2462.8 1055.7h0M2463.2 1047.7h0M2463.6 1039.8h0M2465.5 1015.9h0M2466.6 995.8h0M2467 991.3h0M2467.4 986.4h0M2467.8 979.2h0M2468.2 971.6h0M2468.5 966.9h0M2470.1 930.6h0M2470.4 919.7h0M2471.6 903.6h0M2472 896.5h0M2472.4 890.6h0M2472.7 881.9h0M2474.3 848.7h0M2474.6 841.1h0M2475.8 827.4h0M2555.2 1267.3h0M2557 1222.6h0M2557.1 1215.8h0M2557.2 1210.8h0M2558.1 1176.8h0M2558.2 1166.8h0M2558.3 1158.9h0M2558.4 1152.9h0M2558.6 1145.8h0M2558.7 1137.9h0M2558.8 1127.9h0M2558.9 1123.5h0M2559.1 1119.1h0M2559.2 1103.3h0M2559.3 1092.3h0M2559.4 1087.5h0M2559.6 1075.6h0M2559.7 1061h0M2559.8 1050.9h0M2559.9 1034.2h0M2560.1 1020.7h0M2560.2 1013.8h0M2560.3 1007.7h0M2560.4 979.4h0M2560.6 968.1h0M2560.7 956.8h0M2560.8 940.6h0M2560.9 933.9h0M2561.1 913h0M2561.2 895.9h0M2560.9 812.3h0M2560.9 638.6h0M2608.7 1574.1h0M2608.7 1482.2h0M2608.7 1463.8h0M2608.7 1447.1h0M2608.7 1390.3h0M2608.7 1380.3h0M2608.7 1368.6h0M2608.4 1285.1h0M2609.3 1209.8h0M2609.3 1205.1h0M2609.4 1200.9h0M2609.5 1190.8h0M2609.8 1174.3h0M2609.9 1167.9h0M2609.9 1156.4h0M2610 1151.4h0M2610.7 1112.3h0M2643.2 416.4h0M2643.2 399.7h0M2643.2 332.9h0M2690.9 1602.5h0M2690.9 1519h0M2690.6 1485.6h0M2690.7 1419.2h0M2690.8 1412.4h0M2690.9 1402.9h0M2691 1386.9h0M2691.1 1378.3h0M2691.1 1372.3h0M2691.2 1366.5h0M2691.3 1360.2h0M2691.4 1353.2h0M2691.5 1340.2h0M2691.6 1333.8h0M2691.7 1311.3h0M2691.7 1300.5h0M2691.8 1282h0M2691.9 1275.2h0M2692 1268.5h0M2692.4 1239.4h0M2722.9 773.1h0M2724.3 715.2h0M2725.6 650.3h0M2725.4 618.6h0M2725.4 550.1h0M2725.4 520h0M2725.4 484.9h0M2772.9 1570.7h0M2773.2 1548.5h0M2773.4 1536.2h0M2773.7 1526h0M2774 1516.7h0M2774.2 1511.1h0M2774.5 1497.2h0M2774.7 1490.9h0M2775 1484.4h0M2775.2 1479h0M2775.5 1458.9h0M2775.7 1433.6h0M2776 1425.5h0M2776.3 1414.4h0M2776.5 1409.2h0M2776.8 1402.8h0M2777 1389h0M2777.3 1383.2h0M2777.5 1377.4h0M2778.3 1361.1h0M2778.6 1356.6h0M2779.3 1343.2h0M2779.6 1337.6h0M2779.8 1333.4h0M2780.1 1327.4h0M2781.4 1305.4h0M2790.6 1174h0M2792.1 1146.8h0M2794.7 1112.4h0M2795.5 1092.4h0M2795.7 1086.2h0M2796 1076.3h0M2797.3 1051.3h0M2798 1033.3h0M2798.3 1024.7h0M2799.6 999.8h0M2800.3 983.2h0M2800.6 972.6h0M2800.9 967.5h0M2801.1 962.2h0M2801.9 933.8h0M2802.1 928.7h0M2802.4 923.7h0M2802.7 902.4h0M2802.9 897h0M2803.2 889.1h0M2803.4 883.8h0M2803.7 867.9h0M2803.9 863.4h0M2804.2 857.9h0M2804.4 852.3h0M2804.7 847h0M2805 839.9h0M2805.2 832.8h0M2805.5 823.1h0M2805.7 815.4h0M2806 803h0M2806.2 761.6h0M2806.5 744.9h0M2806.8 729.4h0M2807 723h0M2807.3 716.6h0M2807.5 710.4h0M2807.8 705.4h0M2855.3 1438.8h0M2855.4 1348.8h0M2855.6 1335.1h0M2855.9 1313.4h0M2857 1261.3h0M2890.1 822.4h0M2937.4 1604.2h0M2937.7 1587.2h0M2938 1568.6h0M2938.3 1555.6h0M2938.6 1547.3h0M2938.9 1539.7h0M2939.2 1525.4h0M2939.5 1504.4h0M2939.8 1494.2h0M2940.1 1473.3h0M2940.4 1466.4h0M2940.7 1451.1h0M2941 1445.7h0M2941.3 1441.3h0M2942.1 1424.4h0M2943.6 1398.1h0M2943.9 1390.2h0M2945.7 1356.8h0M2946.6 1334.1h0M2946.9 1324.6h0M2947.2 1316.8h0M2955.8 1212.9h0M2957 1189.8h0M2957.3 1185.2h0M2960.9 1131.5h0M2961.2 1121.3h0M2961.5 1116.2h0M2961.8 1111.7h0M2962.1 1106.6h0M2963.3 1081.3h0M2963.6 1075.6h0M2964.5 1048.8h0M2964.8 1042.5h0M2965.1 1036.4h0M2965.9 1010.7h0M2966.2 1006.2h0M2966.5 1001.4h0M2967.7 979.5h0M2968 968.6h0M2968.3 947.8h0M2969.2 929.4h0M2969.5 924.1h0M2969.8 911.8h0M2970.7 898.1h0M2971.9 883.9h0M2972.2 879.2h0M3019.8 1472.2h0M3021.2 1216.1h0M3021.4 1209.6h0M3021.6 1199.3h0M3021.8 1191.1h0M3022 1184.4h0M3022.2 1180h0M3023.4 1149.9h0M3023.6 1145.6h0M3023.8 1137.2h0M3024 1131.2h0M3024.2 1125.1h0M3033.7 956.2h0M3036.1 924.6h0M3048.6 748.9h0M3051.4 694.7h0M3051.6 688.4h0M3051.8 680.8h0M3052.4 667.1h0M3052.6 662.8h0M3052.8 655.6h0M3053.5 631.8h0M3053.7 618.7h0M3053.9 612.8h0M3054.1 603.9h0M3054.3 597.5h0M3054.5 588.5h0M3054.3 525h0M3102 1674.3h0M3102 1555.7h0M3107.5 1152.2h0M3108.1 1138.8h0M3111.8 1109.5h0M3112.5 1104.2h0M3113.1 1085.9h0M3113.7 1081.7h0M3114.3 1067.8h0M3121.1 1021.5h0M3121.7 993.7h0M3122.3 987.2h0M3122.9 975.5h0M3124.8 948.9h0M3125.4 941.3h0M3127.2 918.6h0M3127.8 896.6h0M3129.7 865.2h0M3130.3 859.4h0M3130.9 853.5h0M3131.5 840.3h0M3132.2 806h0M3132.8 772.3h0M3133.4 756.5h0M3134 747.4h0M3134.6 685.6h0M3135.2 657.7h0M3135.9 636.6h0M3136.5 593.5h0M3184.1 1037.9h0M3184.6 1033.1h0M3185.9 1013.4h0M3186.3 1006.4h0M3186.8 1002.1h0M3187.2 995.9h0M3187.7 990.3h0M3188.1 982.3h0M3188.6 963.9h0M3189 952.4h0M3189.4 899.4h0M3189.9 872.5h0M3190.3 853h0M3190.8 842.7h0M3191.2 835.4h0M3191.7 808.6h0M3192.1 781.6h0M3192.6 773.2h0M3193 757.9h0M3193.4 750.2h0M3193.9 731.1h0M3194.3 719.3h0M3194.8 712h0M3195.2 705.8h0M3195.7 699h0M3196.1 688h0M3196.6 683.6h0M3197 674.5h0M3197.4 659.7h0M3197.9 653.5h0M3198.3 644.8h0M3198.8 638.9h0M3199.2 631.4h0M3199.7 625.7h0M3200.1 620.5h0M3212.1 528.6h0M3214.3 510.2h0M3217 479.3h0M3217.4 475h0M3217.9 469.3h0M3218.3 464.7h0M3218.8 454.9h0M3218.7 431.5h0M3218.7 421.4h0M3218.7 349.6h0"/>
<path stroke="#119A48" stroke-width="6" d="M635.4 1681h0M635.4 1572.4h0M635.4 1552.4h0M635.4 1547.4h0M635.4 1475.5h0M635.2 1403.7h0M635.5 1388.9h0M635.8 1378h0M636.1 1371.6h0M636.3 1362.5h0M636.6 1352.6h0M636.9 1347.2h0M637.2 1335.7h0M637.4 1329.9h0M637.7 1319.3h0M638 1311.9h0M638.3 1300.4h0M638.5 1292.8h0M639.4 1265.5h0M664 1106.9h0M665.7 1082.6h0M667.3 1058.3h0M667.6 1053h0M667.9 1047.4h0M668.2 1041.9h0M668.4 1033.7h0M669.3 1016.4h0M669.5 1009.6h0M669.8 1003.6h0M670.1 986.1h0M669.9 941h0M718 1609.2h0M719.3 1584.1h0M720.6 1574.1h0M721.9 1564.1h0M723.2 1534.8h0M724.5 1482.2h0M725.8 1472.2h0M727.1 1463.8h0M728.4 1453.8h0M729.7 1402h0M731 1393.7h0M732.3 1383.7h0M733.6 1373.6h0M734.9 1355.3h0M736.2 1340.2h0M737.5 1321.8h0M738.8 1310.1h0M740.1 1298.5h0M741.4 1263.4h0M742.7 1248.3h0M744 1214.9h0M745.3 1186.5h0M746.6 1136.4h0M747.9 1093h0M749.2 1084.6h0M750.5 1067.9h0M751.8 1042.9h0M799.6 1661h0M799.7 1643.7h0M799.8 1634.1h0M800 1615.5h0M800.1 1601.7h0M800.2 1562.6h0M800.3 1549.3h0M800.5 1538.5h0M800.6 1520.9h0M800.7 1507.6h0M800.8 1497.4h0M800.9 1468.9h0M801.1 1463.2h0M801.2 1455.6h0M801.3 1448.1h0M801.4 1435.5h0M801.5 1425.2h0M802.4 1399h0M832.1 1066.8h0M832.4 1049.5h0M833.1 1019.5h0M833.3 1007.4h0M833.4 1002.8h0M833.5 996.3h0M833.6 991.6h0M834.2 963.6h0M834.4 957.3h0M834.5 942.9h0M834.4 904.2h0M834.4 899.2h0M834.4 880.8h0M834.4 802.3h0M883.1 1582.4h0M885.8 1547.4h0M888.5 1540.7h0M891.2 1519h0M893.9 1500.6h0M896.6 1490.6h0M899.3 1480.5h0M902 1438.8h0M904.7 1390.3h0M907.4 1346.9h0M910.1 1331.9h0M912.8 1062.9h0M915.5 1004.4h0M965.9 1497.2h0M969.8 1490.6h0M973.7 1467.2h0M977.6 1433.8h0M981.5 1345.2h0M985.4 1293.4h0M989.3 1263.4h0M993.2 1173.2h0M997.1 1118h0M1046.5 1681h0M1046.5 1635.9h0M1046.5 1624.2h0M1046.5 1580.8h0M1046.5 1569.1h0M1079.9 1194.9h0M1161.4 1476.8h0M1161.5 1471.8h0M1161.9 1450h0M1162.2 1428.5h0M1162.3 1422.8h0M1162.4 1413.9h0M1162.5 1408.2h0M1162.6 1398.9h0M1163.2 1362.7h0M1163.3 1353.8h0M1163.4 1346h0M1163.5 1335.2h0M1163.2 1278.4h0M1163.2 1226.6h0M1163.2 1108h0M1210.7 1460.5h0M1210.8 1410.4h0M1210.9 1397.4h0M1211.1 1347.5h0M1211.2 1334.3h0M1211.3 1316h0M1211.4 1276.4h0M1211.6 1252.1h0M1211.7 1196.5h0M1211.8 1182.5h0M1211.9 1166.4h0M1212.1 1155.3h0M1212.2 1146.5h0M1212.3 1130h0M1212.4 1115.5h0M1212.5 1108.8h0M1213.8 1070h0M1293.2 1681h0M1293.2 1296.8h0M1293.2 1223.3h0M1293.2 1126.4h0M1293.2 1067.9h0M1292.9 971h0M1293.1 953.2h0M1293.3 946.9h0M1293.5 938.9h0M1293.6 932.6h0M1293.8 924.3h0M1294 908.3h0M1294.1 885.3h0M1294.3 879.9h0M1294.5 874.5h0M1294.6 868.2h0M1294.8 863.7h0M1295 857.5h0M1295.1 851.5h0M1295.3 839.4h0M1295.5 832h0M1295.7 827.4h0M1295.8 815h0M1375.5 1393.7h0M1376.3 1338.4h0M1377.1 1317h0M1377.9 1300.4h0M1378.7 1293.3h0M1379.5 1278.4h0M1380.3 1257.6h0M1381.1 1247.6h0M1381.9 1204.6h0M1382.7 1183.5h0M1383.5 1149.7h0M1384.3 1137.7h0M1385.1 1132.8h0M1385.9 1123.9h0M1386.6 1114.8h0M1387.4 1105.4h0M1393 1055.3h0M1393.8 1050.4h0M1405.8 936.4h0M1406.6 906.3h0M1407.4 891.3h0M1408.2 876.8h0M1409 872h0M1409.8 864.1h0M1457.6 1681h0M1457.6 1609.2h0M1457.6 1485.6h0M1457.6 1452.1h0M1457.6 1387h0M1457.6 1320.2h0M1457.6 1243.3h0M1458.3 1218.3h0M1459 1211.6h0M1459.6 1203.7h0M1460.3 1177.7h0M1460.9 1168.3h0M1461.6 1158.7h0M1462.3 1152.9h0M1465.6 1118.9h0M1466.2 1111.7h0M1472.2 1072.9h0M1472.9 1056h0M1473.5 1050.1h0M1476.8 1026.1h0M1478.8 1011.1h0M1479.5 999.2h0M1482.1 972.3h0M1482.8 967.5h0M1483.5 962.8h0M1486.1 942.7h0M1492.1 809h0M1539.8 1681h0M1539.8 1609.2h0M1539.8 1485.6h0M1539.8 1452.1h0M1539.8 1387h0M1539.8 1320.2h0M1540.7 1230.1h0M1543.6 1195h0M1544.6 1182.8h0M1561.8 1050.7h0M1562.2 1045.6h0M1565 1011.5h0M1570.6 944.3h0M1574.3 692.1h0M1622 1681h0M1622 1609.2h0M1622 1485.6h0M1622 1452.1h0M1622 1387h0M1622 1320.2h0M1623.2 1235.5h0M1623.8 1220.1h0M1626.7 1186.4h0M1629.6 1158.7h0M1630.2 1153.3h0M1630.8 1149h0M1632.6 1129.5h0M1634.3 1109.5h0M1634.9 1096.5h0M1635.5 1091.9h0M1636.1 1086.4h0M1636.7 1080.6h0M1637.2 1063.8h0M1643.7 1023.1h0M1653 961.9h0M1653.6 949.8h0M1654.2 945.5h0M1654.8 939.7h0M1655.4 935.4h0M1656 931.2h0M1656.6 922.6h0M1656.5 829h0M1704.2 1233.3h0M1704.7 1171.7h0M1705.2 1155h0M1705.7 1149h0M1738.3 1027h0M1738.8 1019.5h0M1786.5 1681h0M1786.5 1296.8h0M1786.5 1223.3h0M1786.5 1126.4h0M1786.5 1067.9h0M1786.3 971h0M1786.4 956h0M1786.6 926.3h0M1786.8 913.3h0M1786.9 894.7h0M1787.1 888.5h0M1787.3 880.8h0M1787.4 873.1h0M1787.6 859.8h0M1787.8 853.8h0M1788 837.9h0M1788.1 832.2h0M1788.3 824.5h0M1788.5 816.2h0M1788.6 811.9h0M1788.8 806.9h0M1789.3 791.5h0M1789.5 786.1h0M1868.7 1615.9h0M1868.5 1577.4h0M1868.7 1570.6h0M1889.6 1363h0M1896.1 1260.3h0M1897.2 1233.9h0M1897.5 1226h0M1897.7 1221.3h0M1897.9 1212.9h0M1898.1 1201.6h0M1898.3 1190.4h0M1899 1173.2h0M1899.2 1164.1h0M1899.4 1141.8h0M1899.7 1134.8h0M1899.9 1129.4h0M1900.1 1124.6h0M1900.3 1119.5h0M1900.5 1112.6h0M1900.8 1106.4h0M1901 1094.3h0M1901.2 1087.9h0M1901.4 1069.5h0M1901.6 1059.5h0M1901.9 1037.8h0M1902.1 1031.1h0M1902.3 1021.4h0M1902.5 1012h0M1902.7 998.1h0M1903 988.9h0M1903.2 965.9h0M1903.4 952.7h0M1903.2 822.4h0M1903.2 728.8h0M1950.9 1681h0M1950.9 1632.6h0M1950.9 1597.5h0M1950.9 1510.6h0M1950.9 1480.5h0M2033.1 1681h0M2033.1 1632.6h0M2033.1 1597.5h0M2033.1 1510.6h0M2033.1 1480.5h0M2032.9 1463.8h0M2156.4 1575.8h0M2156.8 1565.4h0M2157.2 1557.3h0M2157.6 1548.1h0M2158 1539.3h0M2158.4 1533h0M2158.7 1511.8h0M2159.1 1505.6h0M2159.5 1499.8h0M2159.9 1481.1h0M2160.3 1474.6h0M2160.7 1466.8h0M2161.1 1461.4h0M2173.5 1361.2h0M2173.9 1348h0M2177.9 1289.2h0M2178.3 1278.8h0M2178.7 1270h0M2180.3 1252.9h0M2180.7 1247.8h0M2181.1 1239.7h0M2181.5 1234.4h0M2181.9 1229.8h0M2182.3 1222.3h0M2183.9 1202.9h0M2184.3 1197.4h0M2184.7 1191.4h0M2185.9 1170.5h0M2186.3 1166.1h0M2186.7 1157.9h0M2187.1 1149.8h0M2187.5 1131h0M2189.1 1113.3h0M2189.5 1105.9h0M2189.9 1101.5h0M2191.1 1083h0M2238.7 1681h0M2238.5 1387h0M2238.7 1374.1h0M2238.9 1365.9h0M2239.1 1358.7h0M2239.3 1354h0M2240.7 1309.4h0M2263.9 1117.3h0M2265.4 1099.1h0M2268.9 1050.4h0M2270.3 1020.5h0M2270.5 1014h0M2270.7 1009.7h0M2270.9 1003.3h0M2271.1 998.4h0M2271.3 991.9h0M2271.5 985.9h0M2271.7 970.4h0M2271.9 962.9h0M2272.1 941.9h0M2272.4 927.5h0M2272.6 920.9h0M2272.8 912.7h0M2273 899.5h0M2273.2 878.7h0M2273.4 865.8h0M2326.4 1422.1h0M2338.1 1380.3h0M2349.9 1193.2h0M2402.9 1524h0M2403.2 1505.7h0M2403.4 1499.3h0M2403.6 1492h0M2403.9 1487.6h0M2404.1 1473.9h0M2404.3 1466.9h0M2404.5 1454.1h0M2404.8 1447.5h0M2405 1435.1h0M2405.2 1430h0M2405.5 1425.5h0M2405.7 1420.9h0M2405.9 1415.8h0M2406.2 1408.7h0M2406.4 1402.3h0M2412.2 1331.3h0M2433.9 1105.4h0M2434.1 1099.2h0M2434.3 1093.6h0M2435 1077.3h0M2435.3 1068.8h0M2435.5 1063.5h0M2435.7 1052.6h0M2436 1034.5h0M2436.2 1025.6h0M2436.4 1019h0M2436.7 1004.4h0M2436.9 989h0M2437.1 982.2h0M2437.3 961.9h0M2437.6 946.6h0M2437.8 941h0M2485.3 1681h0M2485.3 1635.9h0M2485.3 1624.2h0M2485.3 1580.8h0M2485.3 1569.1h0M2519.2 1187h0M2519.3 1182h0M2519.6 1166.1h0M2520 1146.7h0M2520.1 1134.7h0M2576 1505.6h0M2593.6 1126.4h0M2649.8 1555.7h0M2649.8 1498.9h0M2684.3 864.1h0M2684.3 852.4h0M2684.3 713.8h0M2732 1681h0M2731.8 1597.5h0M2731.9 1562.6h0M2732.1 1526.7h0M2732.3 1521.2h0M2732.4 1515.1h0M2732.6 1509.2h0M2732.8 1500.3h0M2732.9 1495.4h0M2733.1 1490.7h0M2733.3 1486h0M2733.4 1476.5h0M2733.6 1471.8h0M2734.1 1445.6h0M2763.4 1142.1h0M2764.2 1113.6h0M2764.4 1100.9h0M2764.6 1095.9h0M2764.7 1087.7h0M2764.9 1076.2h0M2765 1066.6h0M2765.2 1047.1h0M2765.4 1005.1h0M2765.5 993.6h0M2765.7 980.7h0M2765.9 964.7h0M2766 932.6h0M2766.2 884.4h0M2766.4 870.5h0M2766.5 836h0M2766.7 792.3h0M2816.3 1523.5h0M2848.5 1291.7h0M2848.7 1284.3h0M2848.9 1273.4h0M2896.4 1495.6h0M2896.4 1444h0M2896.5 1439.6h0M2897.8 1388.5h0M2897.9 1382.8h0M2930.9 880.8h0M3011 1476.5h0M3011.1 1471.3h0M3011.2 1463.3h0M3011.3 1456.6h0M3011.4 1450h0M3011.5 1440.2h0M3012.1 1407h0M3012.6 1382.3h0M3012.7 1376.8h0M3013.1 1352.9h0M3013.4 1335.2h0M3013.2 1278.4h0M3013.2 1226.6h0M3013.2 1108h0M3060.8 1621.7h0M3068.1 1559.1h0M3078.9 1461.6h0M3082 1428.2h0M3083.1 1410.8h0M3084.7 1391.9h0M3085.1 1387.1h0M3085.4 1382h0M3085.8 1377h0M3086.2 1372.2h0M3087.4 1357.9h0M3089.3 1336.3h0M3090.5 1313.9h0M3090.8 1307.1h0M3091.2 1289.3h0M3091.6 1269.9h0M3092 1254.4h0M3092.4 1245.1h0M3092.8 1214.2h0M3093.2 1201.5h0M3093.5 1180.6h0M3093.9 1156.5h0M3094.3 1111.7h0M3094.7 1097.6h0M3095.1 1082.7h0M3095.5 1057.9h0M3163.7 1465.7h0M3164.2 1460.6h0M3165.5 1447.7h0M3166 1435.8h0M3167.3 1421.7h0M3167.8 1415.3h0M3170 1377.1h0M3171.4 1361h0M3171.8 1350.6h0M3172.3 1343.6h0M3172.7 1332.3h0M3173.2 1319.8h0M3173.6 1302.2h0M3174.1 1292.8h0M3174.5 1277.6h0M3175 1268.1h0M3175.4 1254.9h0M3176.8 1236.6h0"/>
</g>
<path stroke="#1b1b1b" stroke-width="5" fill="none" d="M598.1 1328.5h29M639.2 1186.5h29M680.3 1089.6h29M721.4 1355.3h29M762.5 920.9h29M803.6 1263.4h29M844.7 1072.9h29M885.8 1480.5h29M926.9 832.4h29M968 1345.2h29M1009.1 1031.2h29M1050.3 1390.3h29M1091.4 1572.4h29M1132.5 1622.5h29M1173.6 1039.5h29M1214.7 941h29M1255.8 889.2h29M1296.9 658.7h29M1338 1243.3h29M1379.1 1029.5h29M1420.2 1108h29M1461.4 1064.6h29M1502.5 1089.6h29M1543.6 1089.6h29M1584.7 805.7h29M1625.8 1054.6h29M1666.9 1591.6h29M1708 1101.3h29M1749.1 1041.2h29M1790.2 658.7h29M1831.3 1072.9h29M1872.4 1405.4h29M1913.6 959.3h29M1954.7 1285.1h29M1995.8 1151.5h29M2036.9 1281.8h29M2078 1141.4h29M2119.1 962.7h29M2160.2 1348.6h29M2201.3 1109.7h29M2242.4 1178.2h29M2283.5 755.5h29M2324.6 1380.3h29M2365.8 957.7h29M2406.9 1255h29M2448 1066.3h29M2489.1 1388.7h29M2530.2 1445.5h29M2571.3 1316h29M2612.4 795.6h29M2653.5 1261.7h29M2694.6 1044.5h29M2735.7 1273.4h29M2776.9 1159h29M2818 1427.1h29M2859.1 1077.9h29M2900.2 1199.9h29M2941.3 1231.6h29M2982.4 1622.5h29M3023.5 912.6h29M3064.6 1480.5h29M3105.7 1005.3h29M3146.8 1492.2h29M3187.9 622.7h29"/>
<rect x="592.0" y="177.0" width="2631.0" height="1509.0" fill="none" stroke="#655D5B" stroke-width="5.5" rx="4"/>
<text x="567" y="1697.5" font-size="61" text-anchor="end" fill="#111">0</text>
<text x="567" y="1530.5" font-size="61" text-anchor="end" fill="#111">1</text>
<text x="567" y="1363.4" font-size="61" text-anchor="end" fill="#111">2</text>
<text x="567" y="1196.3" font-size="61" text-anchor="end" fill="#111">3</text>
<text x="567" y="1029.3" font-size="61" text-anchor="end" fill="#111">4</text>
<text x="567" y="862.2" font-size="61" text-anchor="end" fill="#111">5</text>
<text x="567" y="695.2" font-size="61" text-anchor="end" fill="#111">6</text>
<text x="567" y="528.1" font-size="61" text-anchor="end" fill="#111">7</text>
<text x="567" y="361.1" font-size="61" text-anchor="end" fill="#111">8</text>
<text x="567" y="194.0" font-size="61" text-anchor="end" fill="#111">9</text>
<path d="M592.0 1514.0h24M592.0 1346.9h24M592.0 1179.8h24M592.0 1012.8h24M592.0 845.8h24M592.0 678.7h24M592.0 511.6h24M592.0 344.6h24" stroke="#655D5B" stroke-width="5.5" fill="none"/>
<path d="M592.0 1685.0h22" stroke="#655D5B" stroke-width="7" fill="none"/>
<text transform="translate(631.0 157) rotate(-45)" font-size="62" fill="#1a1311">ACC</text>
<text transform="translate(713.0 157) rotate(-45)" font-size="62" fill="#EA5D68">BLCA</text>
<text transform="translate(795.0 157) rotate(-45)" font-size="62" fill="#EA5D68">BRCA</text>
<text transform="translate(877.0 157) rotate(-45)" font-size="62" fill="#EA5D68">CESC</text>
<text transform="translate(959.0 157) rotate(-45)" font-size="62" fill="#1a1311">CHOL</text>
<text transform="translate(1041.0 157) rotate(-45)" font-size="62" fill="#EA5D68">COAD</text>
<text transform="translate(1123.0 157) rotate(-45)" font-size="62" fill="#1a1311">DLBC</text>
<text transform="translate(1205.0 157) rotate(-45)" font-size="62" fill="#1a1311">ESCA</text>
<text transform="translate(1287.0 157) rotate(-45)" font-size="62" fill="#1F9A47">GBM</text>
<text transform="translate(1369.0 157) rotate(-45)" font-size="62" fill="#1F9A47">HNSC</text>
<text transform="translate(1451.0 157) rotate(-45)" font-size="62" fill="#1a1311">KICH</text>
<text transform="translate(1533.0 157) rotate(-45)" font-size="62" fill="#1a1311">KIRC</text>
<text transform="translate(1615.0 157) rotate(-45)" font-size="62" fill="#EA5D68">KIRP</text>
<text transform="translate(1697.0 157) rotate(-45)" font-size="62" fill="#1F9A47">LAML</text>
<text transform="translate(1779.0 157) rotate(-45)" font-size="62" fill="#1F9A47">LGG</text>
<text transform="translate(1861.0 157) rotate(-45)" font-size="62" fill="#EA5D68">LIHC</text>
<text transform="translate(1943.0 157) rotate(-45)" font-size="62" fill="#EA5D68">LUAD</text>
<text transform="translate(2025.0 157) rotate(-45)" font-size="62" fill="#1a1311">LUSC</text>
<text transform="translate(2086.5 157) rotate(-45)" font-size="62" fill="#1a1311">MESO</text>
<text transform="translate(2148.0 157) rotate(-45)" font-size="62" fill="#EA5D68">OV</text>
<text transform="translate(2230.0 157) rotate(-45)" font-size="62" fill="#1a1311">PAAD</text>
<text transform="translate(2312.0 157) rotate(-45)" font-size="62" fill="#1a1311">PCPG</text>
<text transform="translate(2394.0 157) rotate(-45)" font-size="62" fill="#EA5D68">PRAD</text>
<text transform="translate(2476.0 157) rotate(-45)" font-size="62" fill="#EA5D68">READ</text>
<text transform="translate(2558.0 157) rotate(-45)" font-size="62" fill="#1a1311">SARC</text>
<text transform="translate(2640.0 157) rotate(-45)" font-size="62" fill="#EA5D68">SKCM</text>
<text transform="translate(2722.0 157) rotate(-45)" font-size="62" fill="#EA5D68">STAD</text>
<text transform="translate(2804.0 157) rotate(-45)" font-size="62" fill="#EA5D68">TGCT</text>
<text transform="translate(2885.9 157) rotate(-45)" font-size="62" fill="#1a1311">THCA</text>
<text transform="translate(2967.9 157) rotate(-45)" font-size="62" fill="#EA5D68">THYM</text>
<text transform="translate(3049.9 157) rotate(-45)" font-size="62" fill="#EA5D68">UCEC</text>
<text transform="translate(3131.9 157) rotate(-45)" font-size="62" fill="#EA5D68">UCS</text>
<text transform="translate(3193.4 157) rotate(-45)" font-size="62" fill="#1a1311">UVM</text>
<text transform="translate(617.6 1721) rotate(-45)" font-size="34.5" text-anchor="end" fill="#111">T (<tspan font-style="italic">n</tspan>=77)</text>
<text transform="translate(659.9 1721) rotate(-45)" font-size="34.5" text-anchor="end" fill="#111">N (<tspan font-style="italic">n</tspan>=128)</text>
<text transform="translate(702.1 1721) rotate(-45)" font-size="34.5" text-anchor="end" fill="#111">T (<tspan font-style="italic">n</tspan>=404)</text>
<text transform="translate(744.3 1721) rotate(-45)" font-size="34.5" text-anchor="end" fill="#111">N (<tspan font-style="italic">n</tspan>=28)</text>
<text transform="translate(786.3 1721) rotate(-45)" font-size="34.5" text-anchor="end" fill="#111">T (<tspan font-style="italic">n</tspan>=1 085)</text>
<text transform="translate(828.2 1721) rotate(-45)" font-size="34.5" text-anchor="end" fill="#111">N (<tspan font-style="italic">n</tspan>=291)</text>
<text transform="translate(870.1 1721) rotate(-45)" font-size="34.5" text-anchor="end" fill="#111">T (<tspan font-style="italic">n</tspan>=306)</text>
<text transform="translate(911.9 1721) rotate(-45)" font-size="34.5" text-anchor="end" fill="#111">N (<tspan font-style="italic">n</tspan>=13)</text>
<text transform="translate(953.6 1721) rotate(-45)" font-size="34.5" text-anchor="end" fill="#111">T (<tspan font-style="italic">n</tspan>=36)</text>
<text transform="translate(995.3 1721) rotate(-45)" font-size="34.5" text-anchor="end" fill="#111">N (<tspan font-style="italic">n</tspan>=9)</text>
<text transform="translate(1036.9 1721) rotate(-45)" font-size="34.5" text-anchor="end" fill="#111">T (<tspan font-style="italic">n</tspan>=275)</text>
<text transform="translate(1078.4 1721) rotate(-45)" font-size="34.5" text-anchor="end" fill="#111">N (<tspan font-style="italic">n</tspan>=349)</text>
<text transform="translate(1120.0 1721) rotate(-45)" font-size="34.5" text-anchor="end" fill="#111">T (<tspan font-style="italic">n</tspan>=47)</text>
<text transform="translate(1161.4 1721) rotate(-45)" font-size="34.5" text-anchor="end" fill="#111">N (<tspan font-style="italic">n</tspan>=337)</text>
<text transform="translate(1202.9 1721) rotate(-45)" font-size="34.5" text-anchor="end" fill="#111">T (<tspan font-style="italic">n</tspan>=182)</text>
<text transform="translate(1244.3 1721) rotate(-45)" font-size="34.5" text-anchor="end" fill="#111">N (<tspan font-style="italic">n</tspan>=286)</text>
<text transform="translate(1285.7 1721) rotate(-45)" font-size="34.5" text-anchor="end" fill="#111">T (<tspan font-style="italic">n</tspan>=163)</text>
<text transform="translate(1327.0 1721) rotate(-45)" font-size="34.5" text-anchor="end" fill="#111">N (<tspan font-style="italic">n</tspan>=207)</text>
<text transform="translate(1368.4 1721) rotate(-45)" font-size="34.5" text-anchor="end" fill="#111">T (<tspan font-style="italic">n</tspan>=519)</text>
<text transform="translate(1409.7 1721) rotate(-45)" font-size="34.5" text-anchor="end" fill="#111">N (<tspan font-style="italic">n</tspan>=44)</text>
<text transform="translate(1451.0 1721) rotate(-45)" font-size="34.5" text-anchor="end" fill="#111">T (<tspan font-style="italic">n</tspan>=66)</text>
<text transform="translate(1492.3 1721) rotate(-45)" font-size="34.5" text-anchor="end" fill="#111">N (<tspan font-style="italic">n</tspan>=53)</text>
<text transform="translate(1533.5 1721) rotate(-45)" font-size="34.5" text-anchor="end" fill="#111">T (<tspan font-style="italic">n</tspan>=523)</text>
<text transform="translate(1574.8 1721) rotate(-45)" font-size="34.5" text-anchor="end" fill="#111">N (<tspan font-style="italic">n</tspan>=100)</text>
<text transform="translate(1616.0 1721) rotate(-45)" font-size="34.5" text-anchor="end" fill="#111">T (<tspan font-style="italic">n</tspan>=286)</text>
<text transform="translate(1657.2 1721) rotate(-45)" font-size="34.5" text-anchor="end" fill="#111">N (<tspan font-style="italic">n</tspan>=60)</text>
<text transform="translate(1698.4 1721) rotate(-45)" font-size="34.5" text-anchor="end" fill="#111">T (<tspan font-style="italic">n</tspan>=173)</text>
<text transform="translate(1739.6 1721) rotate(-45)" font-size="34.5" text-anchor="end" fill="#111">N (<tspan font-style="italic">n</tspan>=70)</text>
<text transform="translate(1780.8 1721) rotate(-45)" font-size="34.5" text-anchor="end" fill="#111">T (<tspan font-style="italic">n</tspan>=518)</text>
<text transform="translate(1822.0 1721) rotate(-45)" font-size="34.5" text-anchor="end" fill="#111">N (<tspan font-style="italic">n</tspan>=207)</text>
<text transform="translate(1863.2 1721) rotate(-45)" font-size="34.5" text-anchor="end" fill="#111">T (<tspan font-style="italic">n</tspan>=369)</text>
<text transform="translate(1904.4 1721) rotate(-45)" font-size="34.5" text-anchor="end" fill="#111">N (<tspan font-style="italic">n</tspan>=160)</text>
<text transform="translate(1945.5 1721) rotate(-45)" font-size="34.5" text-anchor="end" fill="#111">T (<tspan font-style="italic">n</tspan>=483)</text>
<text transform="translate(1986.7 1721) rotate(-45)" font-size="34.5" text-anchor="end" fill="#111">N (<tspan font-style="italic">n</tspan>=347)</text>
<text transform="translate(2027.8 1721) rotate(-45)" font-size="34.5" text-anchor="end" fill="#111">T (<tspan font-style="italic">n</tspan>=466)</text>
<text transform="translate(2069.0 1721) rotate(-45)" font-size="34.5" text-anchor="end" fill="#111">N (<tspan font-style="italic">n</tspan>=338)</text>
<text transform="translate(2110.1 1721) rotate(-45)" font-size="34.5" text-anchor="end" fill="#111">T (<tspan font-style="italic">n</tspan>=87)</text>
<text transform="translate(2151.3 1721) rotate(-45)" font-size="34.5" text-anchor="end" fill="#111">T (<tspan font-style="italic">n</tspan>=426)</text>
<text transform="translate(2192.4 1721) rotate(-45)" font-size="34.5" text-anchor="end" fill="#111">N (<tspan font-style="italic">n</tspan>=88)</text>
<text transform="translate(2233.6 1721) rotate(-45)" font-size="34.5" text-anchor="end" fill="#111">T (<tspan font-style="italic">n</tspan>=179)</text>
<text transform="translate(2274.7 1721) rotate(-45)" font-size="34.5" text-anchor="end" fill="#111">N (<tspan font-style="italic">n</tspan>=171)</text>
<text transform="translate(2315.8 1721) rotate(-45)" font-size="34.5" text-anchor="end" fill="#111">T (<tspan font-style="italic">n</tspan>=162)</text>
<text transform="translate(2357.0 1721) rotate(-45)" font-size="34.5" text-anchor="end" fill="#111">N (<tspan font-style="italic">n</tspan>=3)</text>
<text transform="translate(2398.1 1721) rotate(-45)" font-size="34.5" text-anchor="end" fill="#111">T (<tspan font-style="italic">n</tspan>=492)</text>
<text transform="translate(2439.2 1721) rotate(-45)" font-size="34.5" text-anchor="end" fill="#111">N (<tspan font-style="italic">n</tspan>=152)</text>
<text transform="translate(2480.3 1721) rotate(-45)" font-size="34.5" text-anchor="end" fill="#111">T (<tspan font-style="italic">n</tspan>=92)</text>
<text transform="translate(2521.5 1721) rotate(-45)" font-size="34.5" text-anchor="end" fill="#111">N (<tspan font-style="italic">n</tspan>=318)</text>
<text transform="translate(2562.6 1721) rotate(-45)" font-size="34.5" text-anchor="end" fill="#111">T (<tspan font-style="italic">n</tspan>=282)</text>
<text transform="translate(2603.7 1721) rotate(-45)" font-size="34.5" text-anchor="end" fill="#111">N (<tspan font-style="italic">n</tspan>=2)</text>
<text transform="translate(2644.8 1721) rotate(-45)" font-size="34.5" text-anchor="end" fill="#111">T (<tspan font-style="italic">n</tspan>=481)</text>
<text transform="translate(2685.9 1721) rotate(-45)" font-size="34.5" text-anchor="end" fill="#111">N (<tspan font-style="italic">n</tspan>=558)</text>
<text transform="translate(2727.1 1721) rotate(-45)" font-size="34.5" text-anchor="end" fill="#111">T (<tspan font-style="italic">n</tspan>=408)</text>
<text transform="translate(2768.2 1721) rotate(-45)" font-size="34.5" text-anchor="end" fill="#111">N (<tspan font-style="italic">n</tspan>=211)</text>
<text transform="translate(2809.3 1721) rotate(-45)" font-size="34.5" text-anchor="end" fill="#111">T (<tspan font-style="italic">n</tspan>=137)</text>
<text transform="translate(2850.4 1721) rotate(-45)" font-size="34.5" text-anchor="end" fill="#111">N (<tspan font-style="italic">n</tspan>=185)</text>
<text transform="translate(2891.5 1721) rotate(-45)" font-size="34.5" text-anchor="end" fill="#111">T (<tspan font-style="italic">n</tspan>=512)</text>
<text transform="translate(2932.6 1721) rotate(-45)" font-size="34.5" text-anchor="end" fill="#111">N (<tspan font-style="italic">n</tspan>=337)</text>
<text transform="translate(2973.7 1721) rotate(-45)" font-size="34.5" text-anchor="end" fill="#111">T (<tspan font-style="italic">n</tspan>=118)</text>
<text transform="translate(3014.9 1721) rotate(-45)" font-size="34.5" text-anchor="end" fill="#111">N (<tspan font-style="italic">n</tspan>=339)</text>
<text transform="translate(3056.0 1721) rotate(-45)" font-size="34.5" text-anchor="end" fill="#111">T (<tspan font-style="italic">n</tspan>=174)</text>
<text transform="translate(3097.1 1721) rotate(-45)" font-size="34.5" text-anchor="end" fill="#111">N (<tspan font-style="italic">n</tspan>=91)</text>
<text transform="translate(3138.2 1721) rotate(-45)" font-size="34.5" text-anchor="end" fill="#111">T (<tspan font-style="italic">n</tspan>=57)</text>
<text transform="translate(3179.3 1721) rotate(-45)" font-size="34.5" text-anchor="end" fill="#111">N (<tspan font-style="italic">n</tspan>=78)</text>
<text transform="translate(3220.4 1721) rotate(-45)" font-size="34.5" text-anchor="end" fill="#111">T (<tspan font-style="italic">n</tspan>=79)</text>
<text x="399" y="176" font-size="61" fill="#111">A</text>
<text transform="translate(501 1312) rotate(-90)" font-size="62" fill="#111"><tspan font-style="italic">DBNDD1</tspan><tspan font-weight="300">表达水平</tspan>(log<tspan font-size="36" dy="12">2</tspan><tspan dy="-12"> TPM)</tspan></text>
<path d="M151 2173V3062H1447" fill="none" stroke="#6E625E" stroke-width="3.5"/>
<text x="12" y="2112" font-size="61" fill="#111">B</text>
<text x="110" y="2262" font-size="61" text-anchor="middle" fill="#111">6</text>
<text x="110" y="2556" font-size="61" text-anchor="middle" fill="#111">4</text>
<text x="110" y="2842" font-size="61" text-anchor="middle" fill="#111">2</text>
<text transform="translate(62 2862) rotate(-90)" font-size="61" fill="#111"><tspan font-style="italic">DBNDD1</tspan><tspan font-weight="300">表达水平</tspan></text>
<path d="M503.7 2690V2947" stroke="#3a3532" stroke-width="3.5" fill="none"/>
<rect x="281" y="2791" width="444.5" height="91" fill="#3E548A" stroke="#3a3532" stroke-width="3.5"/>
<path d="M281 2839H725.5" stroke="#2b2b2b" stroke-width="5"/>
<path d="M1092 2216V2872" stroke="#3a3532" stroke-width="3.5" fill="none"/>
<rect x="872" y="2417" width="443.5" height="185" fill="#B2362D" stroke="#3a3532" stroke-width="3.5"/>
<path d="M872 2500.6H1315.5" stroke="#2b2b2b" stroke-width="5"/>
<circle cx="1092" cy="2882" r="8.5" fill="#2a2a2a"/>
<circle cx="1092" cy="2916" r="8.5" fill="#2a2a2a"/>
<circle cx="1092" cy="2922" r="8.5" fill="#2a2a2a"/>
<circle cx="1092" cy="2943" r="8.5" fill="#2a2a2a"/>
<circle cx="1092" cy="2965.6" r="8.5" fill="#2a2a2a"/>
<circle cx="1092" cy="2999" r="8.5" fill="#2a2a2a"/>
<circle cx="1092" cy="3023" r="8.5" fill="#2a2a2a"/>
<text x="1092" y="2204" font-size="61" text-anchor="middle" fill="#111">****</text>
<text x="506" y="3139" font-size="62" text-anchor="middle" fill="#111" font-weight="300">正常组织</text>
<text x="1092" y="3139" font-size="62" text-anchor="middle" fill="#111" font-weight="300">肿瘤组织</text>
<text x="1978" y="1919" font-size="61" fill="#111">C</text>
<path d="M2299.0 1930.6L3592.1 1930.6L3592.1 2141.5L2713.0 2141.5L2713.0 1995.8L2455.7 1995.8L2455.7 1964.7L2299.0 1964.7Z" fill="#5B7BA6" fill-opacity="0.11"/>
<path d="M2284.8 1946.7L2289.5 1946.7L2289.5 1960.6L2299.0 1960.6L2299.0 1972.0L2307.1 1972.0L2307.1 1978.1L2338.9 1978.1L2338.9 1982.0L2358.9 1982.0L2358.9 1990.1L2375.0 1990.1L2375.0 1994.1L2406.3 1994.1L2406.3 1996.6L2422.5 1996.6L2422.5 2004.8L2437.7 2004.8L2437.7 2012.5L2457.6 2012.5L2457.6 2009.9L2477.5 2009.9L2477.5 2012.2L2505.1 2012.2L2505.1 2013.8L2517.4 2013.8L2517.4 2017.9L2537.3 2017.9L2537.3 2022.0L2557.3 2022.0L2557.3 2023.6L2597.2 2023.6L2597.2 2027.7L2628.5 2027.7L2628.5 2030.2L2640.8 2030.2L2640.8 2037.5L2648.4 2037.5L2648.4 2037.9L2747.2 2037.9L2747.2 2040.4L2787.0 2040.4L2787.0 2047.4L2830.7 2047.4L2830.7 2055.8L2868.2 2055.8L2868.2 2061.5L2876.3 2061.5L2876.3 2071.5L2935.7 2071.5L2935.7 2071.1L2961.7 2071.1L2961.7 2096.5L3067.1 2096.5L3067.1 2109.7L3178.2 2109.7L3178.2 2122.4L3638.6 2122.4L3638.6 2371.2L3178.2 2371.2L3178.2 2309.8L3067.1 2309.8L3067.1 2272.5L2961.7 2272.5L2961.7 2243.8L2935.7 2243.8L2935.7 2213.1L2876.3 2213.1L2876.3 2184.3L2868.2 2184.3L2868.2 2162.2L2830.7 2162.2L2830.7 2141.5L2787.0 2141.5L2787.0 2118.2L2747.2 2118.2L2747.2 2100.1L2648.4 2100.1L2648.4 2089.1L2640.8 2089.1L2640.8 2081.7L2628.5 2081.7L2628.5 2079.3L2597.2 2079.3L2597.2 2075.2L2557.3 2075.2L2557.3 2073.5L2537.3 2073.5L2537.3 2069.5L2517.4 2069.5L2517.4 2065.4L2505.1 2065.4L2505.1 2063.7L2477.5 2063.7L2477.5 2061.4L2457.6 2061.4L2457.6 2051.0L2437.7 2051.0L2437.7 2043.3L2422.5 2043.3L2422.5 2035.1L2406.3 2035.1L2406.3 2025.3L2375.0 2025.3L2375.0 2021.2L2358.9 2021.2L2358.9 2013.1L2338.9 2013.1L2338.9 2009.2L2307.1 2009.2L2307.1 2003.1L2299.0 2003.1L2299.0 1991.7L2289.5 1991.7L2289.5 1977.8L2284.8 1977.8Z" fill="#F08080" fill-opacity="0.2"/>
<g fill="none" stroke="#34568B">
<path d="M2284.8 1924.6H2300.0V1941.3H2455.7V1955.2H2713.0V2022.8H3592.1" stroke-width="6.5" stroke-linejoin="round"/>
<path d="M2273.7 1924.6h24M2285.7 1912.6v24M2281.3 1924.6h24M2293.3 1912.6v24M2289.9 1941.3h24M2301.9 1929.3v24M2293.7 1941.3h24M2305.7 1929.3v24M2330.7 1941.3h24M2342.7 1929.3v24M2348.8 1941.3h24M2360.8 1929.3v24M2358.2 1941.3h24M2370.2 1929.3v24M2364.9 1941.3h24M2376.9 1929.3v24M2394.3 1941.3h24M2406.3 1929.3v24M2400.0 1941.3h24M2412.0 1929.3v24M2406.7 1941.3h24M2418.7 1929.3v24M2416.2 1941.3h24M2428.2 1929.3v24M2421.9 1941.3h24M2433.9 1929.3v24M2441.8 1941.3h24M2453.8 1929.3v24M2446.5 1955.2h24M2458.5 1943.2v24M2452.2 1955.2h24M2464.2 1943.2v24M2465.5 1955.2h24M2477.5 1943.2v24M2469.3 1955.2h24M2481.3 1943.2v24M2473.1 1955.2h24M2485.1 1943.2v24M2476.9 1955.2h24M2488.9 1943.2v24M2480.7 1955.2h24M2492.7 1943.2v24M2505.4 1955.2h24M2517.4 1943.2v24M2511.1 1955.2h24M2523.1 1943.2v24M2521.5 1955.2h24M2533.5 1943.2v24M2551.0 1955.2h24M2563.0 1943.2v24M2565.2 1955.2h24M2577.2 1943.2v24M2570.9 1955.2h24M2582.9 1943.2v24M2578.5 1955.2h24M2590.5 1943.2v24M2589.0 1955.2h24M2601.0 1943.2v24M2596.5 1955.2h24M2608.5 1943.2v24M2605.1 1955.2h24M2617.1 1943.2v24M2612.7 1955.2h24M2624.7 1943.2v24M2618.4 1955.2h24M2630.4 1943.2v24M2628.8 1955.2h24M2640.8 1943.2v24M2634.5 1955.2h24M2646.5 1943.2v24M2638.3 1955.2h24M2650.3 1943.2v24M2656.4 1955.2h24M2668.4 1943.2v24M2685.8 1955.2h24M2697.8 1943.2v24M2692.4 1955.2h24M2704.4 1943.2v24M2701.9 2022.8h24M2713.9 2010.8v24M2703.8 2022.8h24M2715.8 2010.8v24M2725.7 2022.8h24M2737.7 2010.8v24M2733.3 2022.8h24M2745.3 2010.8v24M2832.0 2022.8h24M2844.0 2010.8v24M2946.9 2022.8h24M2958.9 2010.8v24M2961.1 2022.8h24M2973.1 2010.8v24M3095.9 2022.8h24M3107.9 2010.8v24M3325.7 2022.8h24M3337.7 2010.8v24M3400.7 2022.8h24M3412.7 2010.8v24M3426.3 2022.8h24M3438.3 2010.8v24M3580.1 2022.8h24M3592.1 2010.8v24" stroke-width="4"/>
</g>
<g fill="none" stroke="#C9302C">
<path d="M2284.8 1931.9V1961.4" stroke-width="6.5"/>
<path d="M2284.8 1961.4H2289.5V1975.3H2299.0V1986.8H2307.1V1992.8H2338.9V1996.8H2358.9V2004.8H2375.0V2008.9H2406.3V2014.6H2422.5V2022.8H2437.7V2030.5H2457.6V2034.4H2477.5V2036.7H2505.1V2038.3H2517.4V2042.4H2537.3V2046.5H2557.3V2048.2H2597.2V2052.3H2628.5V2054.7H2640.8V2062.1H2648.4V2067.3H2747.2V2077.2H2787.0V2092.4H2830.7V2109.0H2868.2V2122.9H2876.3V2142.7H2935.7V2168.5H2961.7V2190.3H3067.1V2218.7H3178.2V2262.2H3638.6" stroke-width="6.5" stroke-linejoin="round"/>
<path d="M2276.7 1961.4h20M2286.7 1951.4v20M2279.6 1975.3h20M2289.6 1965.3v20M2282.6 1975.3h20M2292.6 1965.3v20M2285.5 1975.3h20M2295.5 1965.3v20M2288.5 1975.3h20M2298.5 1965.3v20M2291.5 1986.8h20M2301.5 1976.8v20M2294.5 1986.8h20M2304.5 1976.8v20M2297.4 1992.8h20M2307.4 1982.8v20M2300.3 1992.8h20M2310.3 1982.8v20M2303.3 1992.8h20M2313.3 1982.8v20M2305.2 1992.8h20M2315.2 1982.8v20M2308.0 1992.8h20M2318.0 1982.8v20M2311.0 1992.8h20M2321.0 1982.8v20M2313.8 1992.8h20M2323.8 1982.8v20M2316.8 1992.8h20M2326.8 1982.8v20M2319.6 1992.8h20M2329.6 1982.8v20M2322.5 1992.8h20M2332.5 1982.8v20M2325.4 1992.8h20M2335.4 1982.8v20M2328.3 1992.8h20M2338.3 1982.8v20M2331.2 1996.8h20M2341.2 1986.8v20M2334.0 1996.8h20M2344.0 1986.8v20M2336.9 1996.8h20M2346.9 1986.8v20M2339.8 1996.8h20M2349.8 1986.8v20M2342.7 1996.8h20M2352.7 1986.8v20M2345.6 1996.8h20M2355.6 1986.8v20M2348.5 1996.8h20M2358.5 1986.8v20M2351.3 2004.8h20M2361.3 1994.8v20M2354.3 2004.8h20M2364.3 1994.8v20M2357.1 2004.8h20M2367.1 1994.8v20M2360.1 2004.8h20M2370.1 1994.8v20M2362.9 2004.8h20M2372.9 1994.8v20M2365.8 2008.9h20M2375.8 1998.9v20M2368.7 2008.9h20M2378.7 1998.9v20M2371.5 2008.9h20M2381.5 1998.9v20M2374.5 2008.9h20M2384.5 1998.9v20M2377.3 2008.9h20M2387.3 1998.9v20M2380.2 2008.9h20M2390.2 1998.9v20M2383.1 2008.9h20M2393.1 1998.9v20M2386.0 2008.9h20M2396.0 1998.9v20M2388.9 2008.9h20M2398.9 1998.9v20M2391.8 2008.9h20M2401.8 1998.9v20M2394.6 2008.9h20M2404.6 1998.9v20M2397.6 2014.6h20M2407.6 2004.6v20M2400.4 2014.6h20M2410.4 2004.6v20M2403.3 2014.6h20M2413.3 2004.6v20M2406.2 2014.6h20M2416.2 2004.6v20M2409.0 2014.6h20M2419.0 2004.6v20M2412.0 2014.6h20M2422.0 2004.6v20M2414.8 2022.8h20M2424.8 2012.8v20M2417.8 2022.8h20M2427.8 2012.8v20M2420.6 2022.8h20M2430.6 2012.8v20M2423.6 2022.8h20M2433.6 2012.8v20M2426.4 2022.8h20M2436.4 2012.8v20M2429.3 2030.5h20M2439.3 2020.5v20M2432.2 2030.5h20M2442.2 2020.5v20M2435.1 2030.5h20M2445.1 2020.5v20M2438.0 2030.5h20M2448.0 2020.5v20M2440.9 2030.5h20M2450.9 2020.5v20M2443.7 2030.5h20M2453.7 2020.5v20M2446.6 2030.5h20M2456.6 2020.5v20M2449.5 2034.4h20M2459.5 2024.4v20M2452.4 2034.4h20M2462.4 2024.4v20M2455.3 2034.4h20M2465.3 2024.4v20M2458.1 2034.4h20M2468.1 2024.4v20M2461.1 2034.4h20M2471.1 2024.4v20M2463.9 2034.4h20M2473.9 2024.4v20M2466.9 2034.4h20M2476.9 2024.4v20M2469.7 2036.7h20M2479.7 2026.7v20M2472.6 2036.7h20M2482.6 2026.7v20M2475.5 2036.7h20M2485.5 2026.7v20M2478.4 2036.7h20M2488.4 2026.7v20M2481.3 2036.7h20M2491.3 2026.7v20M2484.1 2036.7h20M2494.1 2026.7v20M2487.0 2036.7h20M2497.0 2026.7v20M2489.9 2036.7h20M2499.9 2026.7v20M2492.8 2036.7h20M2502.8 2026.7v20M2495.7 2038.3h20M2505.7 2028.3v20M2498.6 2038.3h20M2508.6 2028.3v20M2501.4 2038.3h20M2511.4 2028.3v20M2504.4 2038.3h20M2514.4 2028.3v20M2507.2 2038.3h20M2517.2 2028.3v20M2510.2 2042.4h20M2520.2 2032.4v20M2513.0 2042.4h20M2523.0 2032.4v20M2515.9 2042.4h20M2525.9 2032.4v20M2518.8 2042.4h20M2528.8 2032.4v20M2521.6 2042.4h20M2531.6 2032.4v20M2524.6 2042.4h20M2534.6 2032.4v20M2527.4 2046.5h20M2537.4 2036.5v20M2530.3 2046.5h20M2540.3 2036.5v20M2533.2 2046.5h20M2543.2 2036.5v20M2536.1 2046.5h20M2546.1 2036.5v20M2539.0 2046.5h20M2549.0 2036.5v20M2541.9 2046.5h20M2551.9 2036.5v20M2544.7 2046.5h20M2554.7 2036.5v20M2547.7 2048.2h20M2557.7 2038.2v20M2550.5 2048.2h20M2560.5 2038.2v20M2553.4 2048.2h20M2563.4 2038.2v20M2556.3 2048.2h20M2566.3 2038.2v20M2559.1 2048.2h20M2569.1 2038.2v20M2562.1 2048.2h20M2572.1 2038.2v20M2564.9 2048.2h20M2574.9 2038.2v20M2567.9 2048.2h20M2577.9 2038.2v20M2570.7 2048.2h20M2580.7 2038.2v20M2573.6 2048.2h20M2583.6 2038.2v20M2576.5 2048.2h20M2586.5 2038.2v20M2579.4 2048.2h20M2589.4 2038.2v20M2582.3 2048.2h20M2592.3 2038.2v20M2585.2 2048.2h20M2595.2 2038.2v20M2588.0 2052.3h20M2598.0 2042.3v20M2591.0 2052.3h20M2601.0 2042.3v20M2593.8 2052.3h20M2603.8 2042.3v20M2596.7 2052.3h20M2606.7 2042.3v20M2599.6 2052.3h20M2609.6 2042.3v20M2602.4 2052.3h20M2612.4 2042.3v20M2605.4 2052.3h20M2615.4 2042.3v20M2608.2 2052.3h20M2618.2 2042.3v20M2611.2 2052.3h20M2621.2 2042.3v20M2614.0 2052.3h20M2624.0 2042.3v20M2616.9 2052.3h20M2626.9 2042.3v20M2619.8 2054.7h20M2629.8 2044.7v20M2622.7 2054.7h20M2632.7 2044.7v20M2625.6 2054.7h20M2635.6 2044.7v20M2628.5 2054.7h20M2638.5 2044.7v20M2631.4 2062.1h20M2641.4 2052.1v20M2634.2 2062.1h20M2644.2 2052.1v20M2637.1 2062.1h20M2647.1 2052.1v20M2640.0 2067.3h20M2650.0 2057.3v20M2642.9 2067.3h20M2652.9 2057.3v20M2645.8 2067.3h20M2655.8 2057.3v20M2648.7 2067.3h20M2658.7 2057.3v20M2651.5 2067.3h20M2661.5 2057.3v20M2654.5 2067.3h20M2664.5 2057.3v20M2657.3 2067.3h20M2667.3 2057.3v20M2660.3 2067.3h20M2670.3 2057.3v20M2663.1 2067.3h20M2673.1 2057.3v20M2666.0 2067.3h20M2676.0 2057.3v20M2668.9 2067.3h20M2678.9 2057.3v20M2671.7 2067.3h20M2681.7 2057.3v20M2674.7 2067.3h20M2684.7 2057.3v20M2677.5 2067.3h20M2687.5 2057.3v20M2680.4 2067.3h20M2690.4 2057.3v20M2683.3 2067.3h20M2693.3 2057.3v20M2686.2 2067.3h20M2696.2 2057.3v20M2689.1 2067.3h20M2699.1 2057.3v20M2692.0 2067.3h20M2702.0 2057.3v20M2694.8 2067.3h20M2704.8 2057.3v20M2697.8 2067.3h20M2707.8 2057.3v20M2700.6 2067.3h20M2710.6 2057.3v20M2703.5 2067.3h20M2713.5 2057.3v20M2706.4 2067.3h20M2716.4 2057.3v20M2709.2 2067.3h20M2719.2 2057.3v20M2712.2 2067.3h20M2722.2 2057.3v20M2715.0 2067.3h20M2725.0 2057.3v20M2718.0 2067.3h20M2728.0 2057.3v20M2720.8 2067.3h20M2730.8 2057.3v20M2723.7 2067.3h20M2733.7 2057.3v20M2726.6 2067.3h20M2736.6 2057.3v20M2729.5 2067.3h20M2739.5 2057.3v20M2732.4 2067.3h20M2742.4 2057.3v20M2735.3 2067.3h20M2745.3 2057.3v20M2740.0 2077.2h20M2750.0 2067.2v20M2744.6 2077.2h20M2754.6 2067.2v20M2749.1 2077.2h20M2759.1 2067.2v20M2753.7 2077.2h20M2763.7 2067.2v20M2758.3 2077.2h20M2768.3 2067.2v20M2762.9 2077.2h20M2772.9 2067.2v20M2767.4 2077.2h20M2777.4 2067.2v20M2772.0 2077.2h20M2782.0 2067.2v20M2776.6 2077.2h20M2786.6 2067.2v20M2781.1 2092.4h20M2791.1 2082.4v20M2785.7 2092.4h20M2795.7 2082.4v20M2790.3 2092.4h20M2800.3 2082.4v20M2794.9 2092.4h20M2804.9 2082.4v20M2799.4 2092.4h20M2809.4 2082.4v20M2804.0 2092.4h20M2814.0 2082.4v20M2808.6 2092.4h20M2818.6 2082.4v20M2813.1 2092.4h20M2823.1 2082.4v20M2817.8 2092.4h20M2827.8 2082.4v20M2822.3 2109.0h20M2832.3 2099.0v20M2826.9 2109.0h20M2836.9 2099.0v20M2831.4 2109.0h20M2841.4 2099.0v20M2836.0 2109.0h20M2846.0 2099.0v20M2840.5 2109.0h20M2850.5 2099.0v20M2845.1 2109.0h20M2855.1 2099.0v20M2849.8 2109.0h20M2859.8 2099.0v20M2854.3 2109.0h20M2864.3 2099.0v20M2858.9 2122.9h20M2868.9 2112.9v20M2863.4 2122.9h20M2873.4 2112.9v20M2872.9 2142.7h20M2882.9 2132.7v20M2878.8 2142.7h20M2888.8 2132.7v20M2884.8 2142.7h20M2894.8 2132.7v20M2890.8 2142.7h20M2900.8 2132.7v20M2896.7 2142.7h20M2906.7 2132.7v20M2902.5 2142.7h20M2912.5 2132.7v20M2908.5 2142.7h20M2918.5 2132.7v20M2914.5 2142.7h20M2924.5 2132.7v20M2920.4 2142.7h20M2930.4 2132.7v20M2993.5 2190.3h20M3003.5 2180.3v20M3005.8 2190.3h20M3015.8 2180.3v20M3027.7 2190.3h20M3037.7 2180.3v20M3042.9 2190.3h20M3052.9 2180.3v20M3066.6 2218.7h20M3076.6 2208.7v20M3096.0 2218.7h20M3106.0 2208.7v20M3108.4 2218.7h20M3118.4 2208.7v20M3124.5 2218.7h20M3134.5 2208.7v20M3157.7 2218.7h20M3167.7 2208.7v20M3191.0 2262.2h20M3201.0 2252.2v20M3221.4 2262.2h20M3231.4 2252.2v20M3302.1 2262.2h20M3312.1 2252.2v20M3402.7 2262.2h20M3412.7 2252.2v20M3429.3 2262.2h20M3439.3 2252.2v20M3492.9 2262.2h20M3502.9 2252.2v20M3520.4 2262.2h20M3530.4 2252.2v20M3533.7 2262.2h20M3543.7 2252.2v20M3557.4 2262.2h20M3567.4 2252.2v20M3616.3 2262.2h20M3626.3 2252.2v20M3626.7 2262.2h20M3636.7 2252.2v20" stroke-width="4"/>
</g>
<path d="M2214.5 1888.5V2789.5H3786" fill="none" stroke="#3b3330" stroke-width="5"/>
<text x="2190" y="1911.0" font-size="61" text-anchor="end" fill="#111">1.00</text>
<text x="2190" y="2115.7" font-size="61" text-anchor="end" fill="#111">0.75</text>
<text x="2190" y="2320.3" font-size="61" text-anchor="end" fill="#111">0.50</text>
<text x="2190" y="2524.9" font-size="61" text-anchor="end" fill="#111">0.25</text>
<text x="2190" y="2729.6" font-size="61" text-anchor="end" fill="#111">0.00</text>
<text x="2284.8" y="2862" font-size="61" text-anchor="middle" fill="#111">0</text>
<text x="2759.5" y="2862" font-size="61" text-anchor="middle" fill="#111">50</text>
<text x="3234.2" y="2862" font-size="61" text-anchor="middle" fill="#111">100</text>
<text x="3708.9" y="2862" font-size="61" text-anchor="middle" fill="#111">150</text>
<path d="M2214.5 1891.0h20M2214.5 2095.7h20M2214.5 2300.3h20M2214.5 2504.9h20M2214.5 2709.6h20M2284.8 2789.5v-20M2759.5 2789.5v-20M3234.2 2789.5v-20M3708.9 2789.5v-20" fill="none" stroke="#3b3330" stroke-width="4"/>
<text x="2997" y="2938" font-size="62" text-anchor="middle" fill="#111" font-weight="300">时间<tspan font-weight="400">/</tspan>月</text>
<text transform="translate(2053 2421) rotate(-90)" font-size="62" fill="#111" font-weight="300">生存概率</text>
<text x="2308" y="2567" font-size="61" fill="#111"><tspan font-style="italic">P</tspan>=0.008</text>
<text x="2219" y="3012" font-size="62" fill="#111" font-weight="300">风险人数</text>
<path d="M2217 3041V3316H3786" fill="none" stroke="#3b3330" stroke-width="5"/>
<text x="2287.5" y="3386" font-size="61" text-anchor="middle" fill="#111">0</text>
<text x="2762.0" y="3386" font-size="61" text-anchor="middle" fill="#111">50</text>
<text x="3236.5" y="3386" font-size="61" text-anchor="middle" fill="#111">100</text>
<text x="3711.0" y="3386" font-size="61" text-anchor="middle" fill="#111">150</text>
<path d="M2217 3117h20M2217 3243h20M2287.5 3316v-20M2762.0 3316v-20M3236.5 3316v-20M3711.0 3316v-20" fill="none" stroke="#3b3330" stroke-width="4"/>
<text x="2287.5" y="3137" font-size="61" text-anchor="middle" fill="#111">499</text>
<text x="2762.0" y="3137" font-size="61" text-anchor="middle" fill="#111">56</text>
<text x="3236.5" y="3137" font-size="61" text-anchor="middle" fill="#111">9</text>
<text x="3711.0" y="3137" font-size="61" text-anchor="middle" fill="#111">0</text>
<text x="2287.5" y="3263" font-size="61" text-anchor="middle" fill="#111">75</text>
<text x="2762.0" y="3263" font-size="61" text-anchor="middle" fill="#111">8</text>
<text x="3236.5" y="3263" font-size="61" text-anchor="middle" fill="#111">4</text>
<text x="3711.0" y="3263" font-size="61" text-anchor="middle" fill="#111">0</text>
<text x="2164" y="3139" font-size="62" text-anchor="middle" fill="#111" font-weight="300">高</text>
<text x="2164" y="3265" font-size="62" text-anchor="middle" fill="#111" font-weight="300">低</text>
<text transform="translate(2109 3241) rotate(-90)" font-size="62" fill="#111" font-weight="300">组别</text>
<text x="2997" y="3456" font-size="62" text-anchor="middle" fill="#111" font-weight="300">时间<tspan font-weight="400">/</tspan>月</text>
</svg>
</body></html>
